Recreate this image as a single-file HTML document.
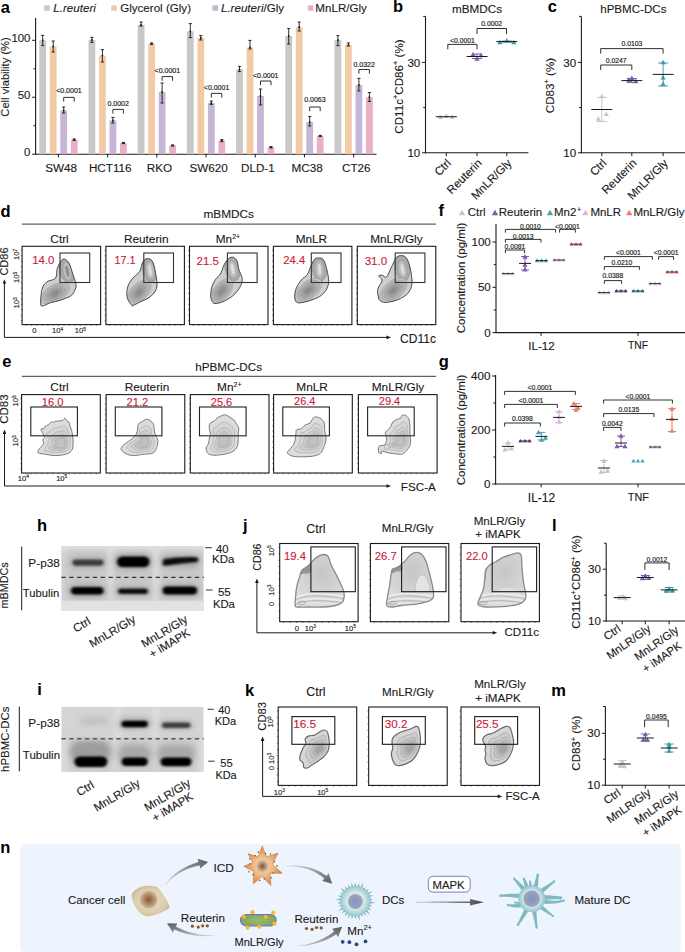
<!DOCTYPE html>
<html><head><meta charset="utf-8"><style>
html,body{margin:0;padding:0;background:#fff;}
svg{display:block;font-family:"Liberation Sans", sans-serif;}
</style></head><body>
<svg width="685" height="952" viewBox="0 0 685 952">
<rect x="0" y="0" width="685" height="952" fill="#fff"/>
<text x="0.81" y="12.50" font-size="16.5" font-weight="bold" fill="#000">a</text>
<rect x="44.20" y="5.30" width="5.60" height="5.50" fill="#c8c8c8" stroke="none" stroke-width="1"/>
<text x="53.35" y="11.80" font-size="11.6" fill="#1a1a1a" stroke="#1a1a1a" stroke-width="0.12"><tspan font-style="italic">L.reuteri</tspan></text>
<rect x="111.20" y="5.30" width="5.60" height="5.50" fill="#f2cba6" stroke="none" stroke-width="1"/>
<text x="120.17" y="11.80" font-size="11.6" fill="#1a1a1a" stroke="#1a1a1a" stroke-width="0.12">Glycerol (Gly)</text>
<rect x="212.50" y="5.30" width="5.60" height="5.50" fill="#c4b6d4" stroke="none" stroke-width="1"/>
<text x="220.95" y="11.80" font-size="11.6" fill="#1a1a1a" stroke="#1a1a1a" stroke-width="0.12"><tspan font-style="italic">L.reuteri</tspan>/Gly</text>
<rect x="307.80" y="5.30" width="5.60" height="5.50" fill="#e8afc5" stroke="none" stroke-width="1"/>
<text x="315.37" y="11.80" font-size="11.6" fill="#1a1a1a" stroke="#1a1a1a" stroke-width="0.12">MnLR/Gly</text>
<line x1="35.60" y1="18.00" x2="35.60" y2="154.70" stroke="#1a1a1a" stroke-width="1.1"/>
<line x1="35.10" y1="154.20" x2="376.50" y2="154.20" stroke="#1a1a1a" stroke-width="1.1"/>
<line x1="32.10" y1="154.20" x2="35.60" y2="154.20" stroke="#1a1a1a" stroke-width="1"/>
<text x="30.40" y="155.80" font-size="11.4" text-anchor="end" fill="#1a1a1a" stroke="#1a1a1a" stroke-width="0.12">0</text>
<line x1="32.10" y1="97.25" x2="35.60" y2="97.25" stroke="#1a1a1a" stroke-width="1"/>
<text x="30.40" y="98.85" font-size="11.4" text-anchor="end" fill="#1a1a1a" stroke="#1a1a1a" stroke-width="0.12">50</text>
<line x1="32.10" y1="40.30" x2="35.60" y2="40.30" stroke="#1a1a1a" stroke-width="1"/>
<text x="30.40" y="41.90" font-size="11.4" text-anchor="end" fill="#1a1a1a" stroke="#1a1a1a" stroke-width="0.12">100</text>
<line x1="33.40" y1="125.72" x2="35.60" y2="125.72" stroke="#1a1a1a" stroke-width="1"/>
<line x1="33.40" y1="68.77" x2="35.60" y2="68.77" stroke="#1a1a1a" stroke-width="1"/>
<text x="9.00" y="116.66" font-size="11.17" fill="#1a1a1a" stroke="#1a1a1a" stroke-width="0.12" transform="rotate(-90 9.00 116.66)">Cell viability (%)</text>
<rect x="39.30" y="40.40" width="6.80" height="113.80" fill="#c8c8c8" stroke="none" stroke-width="1"/>
<line x1="42.70" y1="35.40" x2="42.70" y2="45.60" stroke="#1a1a1a" stroke-width="0.9"/>
<line x1="41.10" y1="35.40" x2="44.30" y2="35.40" stroke="#1a1a1a" stroke-width="0.9"/>
<line x1="41.10" y1="45.60" x2="44.30" y2="45.60" stroke="#1a1a1a" stroke-width="0.9"/>
<circle cx="42.70" cy="40.40" r="0.9" fill="#1a1a1a"/>
<rect x="49.80" y="46.40" width="6.80" height="107.80" fill="#f2cba6" stroke="none" stroke-width="1"/>
<line x1="53.20" y1="41.00" x2="53.20" y2="52.00" stroke="#1a1a1a" stroke-width="0.9"/>
<line x1="51.60" y1="41.00" x2="54.80" y2="41.00" stroke="#1a1a1a" stroke-width="0.9"/>
<line x1="51.60" y1="52.00" x2="54.80" y2="52.00" stroke="#1a1a1a" stroke-width="0.9"/>
<circle cx="53.20" cy="46.40" r="0.9" fill="#1a1a1a"/>
<rect x="60.30" y="110.40" width="6.80" height="43.80" fill="#c4b6d4" stroke="none" stroke-width="1"/>
<line x1="63.70" y1="107.00" x2="63.70" y2="113.00" stroke="#1a1a1a" stroke-width="0.9"/>
<line x1="62.10" y1="107.00" x2="65.30" y2="107.00" stroke="#1a1a1a" stroke-width="0.9"/>
<line x1="62.10" y1="113.00" x2="65.30" y2="113.00" stroke="#1a1a1a" stroke-width="0.9"/>
<circle cx="63.70" cy="110.40" r="0.9" fill="#1a1a1a"/>
<rect x="70.80" y="139.60" width="6.80" height="14.60" fill="#e8afc5" stroke="none" stroke-width="1"/>
<line x1="74.20" y1="139.00" x2="74.20" y2="140.40" stroke="#1a1a1a" stroke-width="0.9"/>
<line x1="72.60" y1="139.00" x2="75.80" y2="139.00" stroke="#1a1a1a" stroke-width="0.9"/>
<line x1="72.60" y1="140.40" x2="75.80" y2="140.40" stroke="#1a1a1a" stroke-width="0.9"/>
<circle cx="74.20" cy="139.60" r="0.9" fill="#1a1a1a"/>
<line x1="58.45" y1="154.20" x2="58.45" y2="157.40" stroke="#1a1a1a" stroke-width="1"/>
<text x="61.05" y="172.40" font-size="11.7" text-anchor="middle" fill="#1a1a1a" stroke="#1a1a1a" stroke-width="0.12">SW48</text>
<polyline points="63.70,101.60 63.70,97.40 74.20,97.40 74.20,101.60" fill="none" stroke="#1a1a1a" stroke-width="0.9"/>
<text x="68.95" y="92.70" font-size="7.0" text-anchor="middle" fill="#1a1a1a" stroke="#1a1a1a" stroke-width="0.16">&lt;0.0001</text>
<rect x="88.50" y="40.00" width="6.80" height="114.20" fill="#c8c8c8" stroke="none" stroke-width="1"/>
<line x1="91.90" y1="37.40" x2="91.90" y2="42.40" stroke="#1a1a1a" stroke-width="0.9"/>
<line x1="90.30" y1="37.40" x2="93.50" y2="37.40" stroke="#1a1a1a" stroke-width="0.9"/>
<line x1="90.30" y1="42.40" x2="93.50" y2="42.40" stroke="#1a1a1a" stroke-width="0.9"/>
<circle cx="91.90" cy="40.00" r="0.9" fill="#1a1a1a"/>
<rect x="99.00" y="55.60" width="6.80" height="98.60" fill="#f2cba6" stroke="none" stroke-width="1"/>
<line x1="102.40" y1="49.60" x2="102.40" y2="62.00" stroke="#1a1a1a" stroke-width="0.9"/>
<line x1="100.80" y1="49.60" x2="104.00" y2="49.60" stroke="#1a1a1a" stroke-width="0.9"/>
<line x1="100.80" y1="62.00" x2="104.00" y2="62.00" stroke="#1a1a1a" stroke-width="0.9"/>
<circle cx="102.40" cy="55.60" r="0.9" fill="#1a1a1a"/>
<rect x="109.50" y="120.40" width="6.80" height="33.80" fill="#c4b6d4" stroke="none" stroke-width="1"/>
<line x1="112.90" y1="117.40" x2="112.90" y2="123.00" stroke="#1a1a1a" stroke-width="0.9"/>
<line x1="111.30" y1="117.40" x2="114.50" y2="117.40" stroke="#1a1a1a" stroke-width="0.9"/>
<line x1="111.30" y1="123.00" x2="114.50" y2="123.00" stroke="#1a1a1a" stroke-width="0.9"/>
<circle cx="112.90" cy="120.40" r="0.9" fill="#1a1a1a"/>
<rect x="120.00" y="143.00" width="6.80" height="11.20" fill="#e8afc5" stroke="none" stroke-width="1"/>
<line x1="123.40" y1="142.40" x2="123.40" y2="143.60" stroke="#1a1a1a" stroke-width="0.9"/>
<line x1="121.80" y1="142.40" x2="125.00" y2="142.40" stroke="#1a1a1a" stroke-width="0.9"/>
<line x1="121.80" y1="143.60" x2="125.00" y2="143.60" stroke="#1a1a1a" stroke-width="0.9"/>
<circle cx="123.40" cy="143.00" r="0.9" fill="#1a1a1a"/>
<line x1="107.65" y1="154.20" x2="107.65" y2="157.40" stroke="#1a1a1a" stroke-width="1"/>
<text x="110.25" y="172.40" font-size="11.7" text-anchor="middle" fill="#1a1a1a" stroke="#1a1a1a" stroke-width="0.12">HCT116</text>
<polyline points="112.90,113.60 112.90,109.40 123.40,109.40 123.40,113.60" fill="none" stroke="#1a1a1a" stroke-width="0.9"/>
<text x="118.15" y="106.10" font-size="7.0" text-anchor="middle" fill="#1a1a1a" stroke="#1a1a1a" stroke-width="0.16">0.0002</text>
<rect x="137.70" y="25.00" width="6.80" height="129.20" fill="#c8c8c8" stroke="none" stroke-width="1"/>
<line x1="141.10" y1="22.00" x2="141.10" y2="26.00" stroke="#1a1a1a" stroke-width="0.9"/>
<line x1="139.50" y1="22.00" x2="142.70" y2="22.00" stroke="#1a1a1a" stroke-width="0.9"/>
<line x1="139.50" y1="26.00" x2="142.70" y2="26.00" stroke="#1a1a1a" stroke-width="0.9"/>
<circle cx="141.10" cy="25.00" r="0.9" fill="#1a1a1a"/>
<rect x="148.20" y="43.60" width="6.80" height="110.60" fill="#f2cba6" stroke="none" stroke-width="1"/>
<line x1="151.60" y1="43.00" x2="151.60" y2="44.40" stroke="#1a1a1a" stroke-width="0.9"/>
<line x1="150.00" y1="43.00" x2="153.20" y2="43.00" stroke="#1a1a1a" stroke-width="0.9"/>
<line x1="150.00" y1="44.40" x2="153.20" y2="44.40" stroke="#1a1a1a" stroke-width="0.9"/>
<circle cx="151.60" cy="43.60" r="0.9" fill="#1a1a1a"/>
<rect x="158.70" y="92.00" width="6.80" height="62.20" fill="#c4b6d4" stroke="none" stroke-width="1"/>
<line x1="162.10" y1="83.00" x2="162.10" y2="103.00" stroke="#1a1a1a" stroke-width="0.9"/>
<line x1="160.50" y1="83.00" x2="163.70" y2="83.00" stroke="#1a1a1a" stroke-width="0.9"/>
<line x1="160.50" y1="103.00" x2="163.70" y2="103.00" stroke="#1a1a1a" stroke-width="0.9"/>
<circle cx="162.10" cy="92.00" r="0.9" fill="#1a1a1a"/>
<rect x="169.20" y="145.40" width="6.80" height="8.80" fill="#e8afc5" stroke="none" stroke-width="1"/>
<line x1="172.60" y1="145.00" x2="172.60" y2="146.00" stroke="#1a1a1a" stroke-width="0.9"/>
<line x1="171.00" y1="145.00" x2="174.20" y2="145.00" stroke="#1a1a1a" stroke-width="0.9"/>
<line x1="171.00" y1="146.00" x2="174.20" y2="146.00" stroke="#1a1a1a" stroke-width="0.9"/>
<circle cx="172.60" cy="145.40" r="0.9" fill="#1a1a1a"/>
<line x1="156.85" y1="154.20" x2="156.85" y2="157.40" stroke="#1a1a1a" stroke-width="1"/>
<text x="159.45" y="172.40" font-size="11.7" text-anchor="middle" fill="#1a1a1a" stroke="#1a1a1a" stroke-width="0.12">RKO</text>
<polyline points="162.10,80.80 162.10,76.60 172.60,76.60 172.60,80.80" fill="none" stroke="#1a1a1a" stroke-width="0.9"/>
<text x="167.35" y="72.50" font-size="7.0" text-anchor="middle" fill="#1a1a1a" stroke="#1a1a1a" stroke-width="0.16">&lt;0.0001</text>
<rect x="186.90" y="31.40" width="6.80" height="122.80" fill="#c8c8c8" stroke="none" stroke-width="1"/>
<line x1="190.30" y1="23.60" x2="190.30" y2="37.60" stroke="#1a1a1a" stroke-width="0.9"/>
<line x1="188.70" y1="23.60" x2="191.90" y2="23.60" stroke="#1a1a1a" stroke-width="0.9"/>
<line x1="188.70" y1="37.60" x2="191.90" y2="37.60" stroke="#1a1a1a" stroke-width="0.9"/>
<circle cx="190.30" cy="31.40" r="0.9" fill="#1a1a1a"/>
<rect x="197.40" y="38.00" width="6.80" height="116.20" fill="#f2cba6" stroke="none" stroke-width="1"/>
<line x1="200.80" y1="35.60" x2="200.80" y2="40.00" stroke="#1a1a1a" stroke-width="0.9"/>
<line x1="199.20" y1="35.60" x2="202.40" y2="35.60" stroke="#1a1a1a" stroke-width="0.9"/>
<line x1="199.20" y1="40.00" x2="202.40" y2="40.00" stroke="#1a1a1a" stroke-width="0.9"/>
<circle cx="200.80" cy="38.00" r="0.9" fill="#1a1a1a"/>
<rect x="207.90" y="103.00" width="6.80" height="51.20" fill="#c4b6d4" stroke="none" stroke-width="1"/>
<line x1="211.30" y1="101.00" x2="211.30" y2="104.40" stroke="#1a1a1a" stroke-width="0.9"/>
<line x1="209.70" y1="101.00" x2="212.90" y2="101.00" stroke="#1a1a1a" stroke-width="0.9"/>
<line x1="209.70" y1="104.40" x2="212.90" y2="104.40" stroke="#1a1a1a" stroke-width="0.9"/>
<circle cx="211.30" cy="103.00" r="0.9" fill="#1a1a1a"/>
<rect x="218.40" y="140.60" width="6.80" height="13.60" fill="#e8afc5" stroke="none" stroke-width="1"/>
<line x1="221.80" y1="139.60" x2="221.80" y2="141.60" stroke="#1a1a1a" stroke-width="0.9"/>
<line x1="220.20" y1="139.60" x2="223.40" y2="139.60" stroke="#1a1a1a" stroke-width="0.9"/>
<line x1="220.20" y1="141.60" x2="223.40" y2="141.60" stroke="#1a1a1a" stroke-width="0.9"/>
<circle cx="221.80" cy="140.60" r="0.9" fill="#1a1a1a"/>
<line x1="206.05" y1="154.20" x2="206.05" y2="157.40" stroke="#1a1a1a" stroke-width="1"/>
<text x="208.65" y="172.40" font-size="11.7" text-anchor="middle" fill="#1a1a1a" stroke="#1a1a1a" stroke-width="0.12">SW620</text>
<polyline points="211.30,97.60 211.30,93.40 221.80,93.40 221.80,97.60" fill="none" stroke="#1a1a1a" stroke-width="0.9"/>
<text x="216.55" y="90.10" font-size="7.0" text-anchor="middle" fill="#1a1a1a" stroke="#1a1a1a" stroke-width="0.16">&lt;0.0001</text>
<rect x="236.10" y="69.40" width="6.80" height="84.80" fill="#c8c8c8" stroke="none" stroke-width="1"/>
<line x1="239.50" y1="66.40" x2="239.50" y2="71.60" stroke="#1a1a1a" stroke-width="0.9"/>
<line x1="237.90" y1="66.40" x2="241.10" y2="66.40" stroke="#1a1a1a" stroke-width="0.9"/>
<line x1="237.90" y1="71.60" x2="241.10" y2="71.60" stroke="#1a1a1a" stroke-width="0.9"/>
<circle cx="239.50" cy="69.40" r="0.9" fill="#1a1a1a"/>
<rect x="246.60" y="47.40" width="6.80" height="106.80" fill="#f2cba6" stroke="none" stroke-width="1"/>
<line x1="250.00" y1="40.40" x2="250.00" y2="49.00" stroke="#1a1a1a" stroke-width="0.9"/>
<line x1="248.40" y1="40.40" x2="251.60" y2="40.40" stroke="#1a1a1a" stroke-width="0.9"/>
<line x1="248.40" y1="49.00" x2="251.60" y2="49.00" stroke="#1a1a1a" stroke-width="0.9"/>
<circle cx="250.00" cy="47.40" r="0.9" fill="#1a1a1a"/>
<rect x="257.10" y="96.00" width="6.80" height="58.20" fill="#c4b6d4" stroke="none" stroke-width="1"/>
<line x1="260.50" y1="89.00" x2="260.50" y2="105.00" stroke="#1a1a1a" stroke-width="0.9"/>
<line x1="258.90" y1="89.00" x2="262.10" y2="89.00" stroke="#1a1a1a" stroke-width="0.9"/>
<line x1="258.90" y1="105.00" x2="262.10" y2="105.00" stroke="#1a1a1a" stroke-width="0.9"/>
<circle cx="260.50" cy="96.00" r="0.9" fill="#1a1a1a"/>
<rect x="267.60" y="147.40" width="6.80" height="6.80" fill="#e8afc5" stroke="none" stroke-width="1"/>
<line x1="271.00" y1="146.60" x2="271.00" y2="147.80" stroke="#1a1a1a" stroke-width="0.9"/>
<line x1="269.40" y1="146.60" x2="272.60" y2="146.60" stroke="#1a1a1a" stroke-width="0.9"/>
<line x1="269.40" y1="147.80" x2="272.60" y2="147.80" stroke="#1a1a1a" stroke-width="0.9"/>
<circle cx="271.00" cy="147.40" r="0.9" fill="#1a1a1a"/>
<line x1="255.25" y1="154.20" x2="255.25" y2="157.40" stroke="#1a1a1a" stroke-width="1"/>
<text x="257.85" y="172.40" font-size="11.7" text-anchor="middle" fill="#1a1a1a" stroke="#1a1a1a" stroke-width="0.12">DLD-1</text>
<polyline points="260.50,85.20 260.50,81.00 271.00,81.00 271.00,85.20" fill="none" stroke="#1a1a1a" stroke-width="0.9"/>
<text x="265.75" y="78.10" font-size="7.0" text-anchor="middle" fill="#1a1a1a" stroke="#1a1a1a" stroke-width="0.16">&lt;0.0001</text>
<rect x="285.30" y="36.00" width="6.80" height="118.20" fill="#c8c8c8" stroke="none" stroke-width="1"/>
<line x1="288.70" y1="28.40" x2="288.70" y2="44.00" stroke="#1a1a1a" stroke-width="0.9"/>
<line x1="287.10" y1="28.40" x2="290.30" y2="28.40" stroke="#1a1a1a" stroke-width="0.9"/>
<line x1="287.10" y1="44.00" x2="290.30" y2="44.00" stroke="#1a1a1a" stroke-width="0.9"/>
<circle cx="288.70" cy="36.00" r="0.9" fill="#1a1a1a"/>
<rect x="295.80" y="27.00" width="6.80" height="127.20" fill="#f2cba6" stroke="none" stroke-width="1"/>
<line x1="299.20" y1="22.00" x2="299.20" y2="31.00" stroke="#1a1a1a" stroke-width="0.9"/>
<line x1="297.60" y1="22.00" x2="300.80" y2="22.00" stroke="#1a1a1a" stroke-width="0.9"/>
<line x1="297.60" y1="31.00" x2="300.80" y2="31.00" stroke="#1a1a1a" stroke-width="0.9"/>
<circle cx="299.20" cy="27.00" r="0.9" fill="#1a1a1a"/>
<rect x="306.30" y="122.00" width="6.80" height="32.20" fill="#c4b6d4" stroke="none" stroke-width="1"/>
<line x1="309.70" y1="116.40" x2="309.70" y2="126.00" stroke="#1a1a1a" stroke-width="0.9"/>
<line x1="308.10" y1="116.40" x2="311.30" y2="116.40" stroke="#1a1a1a" stroke-width="0.9"/>
<line x1="308.10" y1="126.00" x2="311.30" y2="126.00" stroke="#1a1a1a" stroke-width="0.9"/>
<circle cx="309.70" cy="122.00" r="0.9" fill="#1a1a1a"/>
<rect x="316.80" y="136.00" width="6.80" height="18.20" fill="#e8afc5" stroke="none" stroke-width="1"/>
<line x1="320.20" y1="135.40" x2="320.20" y2="136.40" stroke="#1a1a1a" stroke-width="0.9"/>
<line x1="318.60" y1="135.40" x2="321.80" y2="135.40" stroke="#1a1a1a" stroke-width="0.9"/>
<line x1="318.60" y1="136.40" x2="321.80" y2="136.40" stroke="#1a1a1a" stroke-width="0.9"/>
<circle cx="320.20" cy="136.00" r="0.9" fill="#1a1a1a"/>
<line x1="304.45" y1="154.20" x2="304.45" y2="157.40" stroke="#1a1a1a" stroke-width="1"/>
<text x="307.05" y="172.40" font-size="11.7" text-anchor="middle" fill="#1a1a1a" stroke="#1a1a1a" stroke-width="0.12">MC38</text>
<polyline points="309.70,111.20 309.70,107.00 320.20,107.00 320.20,111.20" fill="none" stroke="#1a1a1a" stroke-width="0.9"/>
<text x="314.95" y="102.30" font-size="7.0" text-anchor="middle" fill="#1a1a1a" stroke="#1a1a1a" stroke-width="0.16">0.0063</text>
<rect x="334.50" y="40.00" width="6.80" height="114.20" fill="#c8c8c8" stroke="none" stroke-width="1"/>
<line x1="337.90" y1="35.60" x2="337.90" y2="45.60" stroke="#1a1a1a" stroke-width="0.9"/>
<line x1="336.30" y1="35.60" x2="339.50" y2="35.60" stroke="#1a1a1a" stroke-width="0.9"/>
<line x1="336.30" y1="45.60" x2="339.50" y2="45.60" stroke="#1a1a1a" stroke-width="0.9"/>
<circle cx="337.90" cy="40.00" r="0.9" fill="#1a1a1a"/>
<rect x="345.00" y="45.00" width="6.80" height="109.20" fill="#f2cba6" stroke="none" stroke-width="1"/>
<line x1="348.40" y1="43.00" x2="348.40" y2="46.00" stroke="#1a1a1a" stroke-width="0.9"/>
<line x1="346.80" y1="43.00" x2="350.00" y2="43.00" stroke="#1a1a1a" stroke-width="0.9"/>
<line x1="346.80" y1="46.00" x2="350.00" y2="46.00" stroke="#1a1a1a" stroke-width="0.9"/>
<circle cx="348.40" cy="45.00" r="0.9" fill="#1a1a1a"/>
<rect x="355.50" y="85.00" width="6.80" height="69.20" fill="#c4b6d4" stroke="none" stroke-width="1"/>
<line x1="358.90" y1="78.40" x2="358.90" y2="91.00" stroke="#1a1a1a" stroke-width="0.9"/>
<line x1="357.30" y1="78.40" x2="360.50" y2="78.40" stroke="#1a1a1a" stroke-width="0.9"/>
<line x1="357.30" y1="91.00" x2="360.50" y2="91.00" stroke="#1a1a1a" stroke-width="0.9"/>
<circle cx="358.90" cy="85.00" r="0.9" fill="#1a1a1a"/>
<rect x="366.00" y="97.20" width="6.80" height="57.00" fill="#e8afc5" stroke="none" stroke-width="1"/>
<line x1="369.40" y1="92.50" x2="369.40" y2="101.40" stroke="#1a1a1a" stroke-width="0.9"/>
<line x1="367.80" y1="92.50" x2="371.00" y2="92.50" stroke="#1a1a1a" stroke-width="0.9"/>
<line x1="367.80" y1="101.40" x2="371.00" y2="101.40" stroke="#1a1a1a" stroke-width="0.9"/>
<circle cx="369.40" cy="97.20" r="0.9" fill="#1a1a1a"/>
<line x1="353.65" y1="154.20" x2="353.65" y2="157.40" stroke="#1a1a1a" stroke-width="1"/>
<text x="356.25" y="172.40" font-size="11.7" text-anchor="middle" fill="#1a1a1a" stroke="#1a1a1a" stroke-width="0.12">CT26</text>
<polyline points="358.90,73.70 358.90,69.50 369.40,69.50 369.40,73.70" fill="none" stroke="#1a1a1a" stroke-width="0.9"/>
<text x="364.15" y="66.90" font-size="7.0" text-anchor="middle" fill="#1a1a1a" stroke="#1a1a1a" stroke-width="0.16">0.0322</text>
<text x="393.03" y="12.30" font-size="16.5" font-weight="bold" fill="#000">b</text>
<text x="451.94" y="12.91" font-size="11.72" fill="#1a1a1a" stroke="#1a1a1a" stroke-width="0.12">mBMDCs</text>
<line x1="425.50" y1="16.40" x2="425.50" y2="153.30" stroke="#1a1a1a" stroke-width="1.1"/>
<line x1="425.00" y1="152.80" x2="528.40" y2="152.80" stroke="#1a1a1a" stroke-width="1.1"/>
<line x1="422.00" y1="62.40" x2="425.50" y2="62.40" stroke="#1a1a1a" stroke-width="1"/>
<text x="420.30" y="66.50" font-size="11.6" text-anchor="end" fill="#1a1a1a" stroke="#1a1a1a" stroke-width="0.12">30</text>
<line x1="422.00" y1="152.80" x2="425.50" y2="152.80" stroke="#1a1a1a" stroke-width="1"/>
<text x="420.30" y="156.90" font-size="11.6" text-anchor="end" fill="#1a1a1a" stroke="#1a1a1a" stroke-width="0.12">10</text>
<line x1="423.20" y1="16.40" x2="425.50" y2="16.40" stroke="#1a1a1a" stroke-width="1"/>
<line x1="423.20" y1="107.60" x2="425.50" y2="107.60" stroke="#1a1a1a" stroke-width="1"/>
<line x1="446.30" y1="152.80" x2="446.30" y2="156.10" stroke="#1a1a1a" stroke-width="1"/>
<line x1="477.00" y1="152.80" x2="477.00" y2="156.10" stroke="#1a1a1a" stroke-width="1"/>
<line x1="506.80" y1="152.80" x2="506.80" y2="156.10" stroke="#1a1a1a" stroke-width="1"/>
<text x="402.60" y="86.50" font-size="11.6" text-anchor="middle" fill="#1a1a1a" stroke="#1a1a1a" stroke-width="0.12" transform="rotate(-90 402.60 86.50)">CD11c<tspan font-size="7.5" dy="-4.2">+</tspan><tspan dy="4.2">CD86</tspan><tspan font-size="7.5" dy="-4.2">+</tspan><tspan dy="4.2"> (%)</tspan></text>
<polygon points="440.30,114.49 437.70,119.01 442.90,119.01" fill="#c0c0c0"/>
<polygon points="446.30,113.49 443.70,118.01 448.90,118.01" fill="#c0c0c0"/>
<polygon points="452.30,114.29 449.70,118.81 454.90,118.81" fill="#c0c0c0"/>
<line x1="435.80" y1="116.70" x2="456.80" y2="116.70" stroke="#1a1a1a" stroke-width="1.0"/>
<polygon points="473.00,52.09 470.40,56.61 475.60,56.61" fill="#7a5ca8"/>
<polygon points="477.00,56.29 474.40,60.81 479.60,60.81" fill="#7a5ca8"/>
<polygon points="481.00,52.79 478.40,57.31 483.60,57.31" fill="#7a5ca8"/>
<line x1="477.00" y1="54.00" x2="477.00" y2="58.50" stroke="#7a5ca8" stroke-width="1"/>
<line x1="472.00" y1="54.00" x2="482.00" y2="54.00" stroke="#7a5ca8" stroke-width="1"/>
<line x1="472.00" y1="58.50" x2="482.00" y2="58.50" stroke="#7a5ca8" stroke-width="1"/>
<line x1="466.50" y1="56.50" x2="487.50" y2="56.50" stroke="#1a1a1a" stroke-width="1.0"/>
<polygon points="499.80,39.79 497.20,44.31 502.40,44.31" fill="#3f9aaa"/>
<polygon points="506.80,38.09 504.20,42.61 509.40,42.61" fill="#3f9aaa"/>
<polygon points="513.80,39.69 511.20,44.21 516.40,44.21" fill="#3f9aaa"/>
<line x1="506.80" y1="41.00" x2="506.80" y2="42.20" stroke="#3f9aaa" stroke-width="1"/>
<line x1="501.80" y1="41.00" x2="511.80" y2="41.00" stroke="#3f9aaa" stroke-width="1"/>
<line x1="501.80" y1="42.20" x2="511.80" y2="42.20" stroke="#3f9aaa" stroke-width="1"/>
<line x1="496.30" y1="41.60" x2="517.30" y2="41.60" stroke="#1a1a1a" stroke-width="1.0"/>
<polyline points="447.80,49.30 447.80,44.40 477.00,44.40 477.00,49.30" fill="none" stroke="#1a1a1a" stroke-width="0.9"/>
<text x="462.40" y="43.10" font-size="6.8" text-anchor="middle" fill="#1a1a1a" stroke="#1a1a1a" stroke-width="0.16">&lt;0.0001</text>
<polyline points="477.00,34.00 477.00,28.50 506.50,28.50 506.50,34.00" fill="none" stroke="#1a1a1a" stroke-width="0.9"/>
<text x="491.75" y="26.40" font-size="6.8" text-anchor="middle" fill="#1a1a1a" stroke="#1a1a1a" stroke-width="0.16">0.0002</text>
<text x="451.90" y="163.80" font-size="11.6" text-anchor="end" fill="#1a1a1a" stroke="#1a1a1a" stroke-width="0.12" transform="rotate(-45 451.90 163.80)">Ctrl</text>
<text x="482.60" y="163.80" font-size="11.6" text-anchor="end" fill="#1a1a1a" stroke="#1a1a1a" stroke-width="0.12" transform="rotate(-45 482.60 163.80)">Reuterin</text>
<text x="512.40" y="163.80" font-size="11.6" text-anchor="end" fill="#1a1a1a" stroke="#1a1a1a" stroke-width="0.12" transform="rotate(-45 512.40 163.80)">MnLR/Gly</text>
<text x="547.74" y="12.40" font-size="16.5" font-weight="bold" fill="#000">c</text>
<text x="600.19" y="13.10" font-size="11.58" fill="#1a1a1a" stroke="#1a1a1a" stroke-width="0.12">hPBMC-DCs</text>
<line x1="581.40" y1="16.40" x2="581.40" y2="153.30" stroke="#1a1a1a" stroke-width="1.1"/>
<line x1="580.90" y1="152.80" x2="685.00" y2="152.80" stroke="#1a1a1a" stroke-width="1.1"/>
<line x1="577.90" y1="62.40" x2="581.40" y2="62.40" stroke="#1a1a1a" stroke-width="1"/>
<text x="576.20" y="66.50" font-size="11.6" text-anchor="end" fill="#1a1a1a" stroke="#1a1a1a" stroke-width="0.12">30</text>
<line x1="577.90" y1="152.80" x2="581.40" y2="152.80" stroke="#1a1a1a" stroke-width="1"/>
<text x="576.20" y="156.90" font-size="11.6" text-anchor="end" fill="#1a1a1a" stroke="#1a1a1a" stroke-width="0.12">10</text>
<line x1="579.10" y1="16.40" x2="581.40" y2="16.40" stroke="#1a1a1a" stroke-width="1"/>
<line x1="579.10" y1="107.60" x2="581.40" y2="107.60" stroke="#1a1a1a" stroke-width="1"/>
<line x1="601.80" y1="152.80" x2="601.80" y2="156.10" stroke="#1a1a1a" stroke-width="1"/>
<line x1="631.80" y1="152.80" x2="631.80" y2="156.10" stroke="#1a1a1a" stroke-width="1"/>
<line x1="663.10" y1="152.80" x2="663.10" y2="156.10" stroke="#1a1a1a" stroke-width="1"/>
<text x="553.60" y="85.50" font-size="11.6" text-anchor="middle" fill="#1a1a1a" stroke="#1a1a1a" stroke-width="0.12" transform="rotate(-90 553.60 85.50)">CD83<tspan font-size="7.5" dy="-4.2">+</tspan><tspan dy="4.2"> (%)</tspan></text>
<polygon points="601.80,93.79 599.20,98.31 604.40,98.31" fill="#c6c6c6"/>
<polygon points="598.30,116.29 595.70,120.81 600.90,120.81" fill="#c6c6c6"/>
<polygon points="606.30,111.59 603.70,116.11 608.90,116.11" fill="#c6c6c6"/>
<line x1="601.80" y1="97.40" x2="601.80" y2="121.50" stroke="#c6c6c6" stroke-width="1"/>
<line x1="596.80" y1="97.40" x2="606.80" y2="97.40" stroke="#c6c6c6" stroke-width="1"/>
<line x1="596.80" y1="121.50" x2="606.80" y2="121.50" stroke="#c6c6c6" stroke-width="1"/>
<line x1="591.30" y1="109.50" x2="612.30" y2="109.50" stroke="#1a1a1a" stroke-width="1.0"/>
<polygon points="628.80,77.29 626.20,81.81 631.40,81.81" fill="#7a5ca8"/>
<polygon points="631.80,75.59 629.20,80.11 634.40,80.11" fill="#7a5ca8"/>
<polygon points="635.80,78.79 633.20,83.31 638.40,83.31" fill="#7a5ca8"/>
<line x1="631.80" y1="78.50" x2="631.80" y2="82.50" stroke="#7a5ca8" stroke-width="1"/>
<line x1="626.80" y1="78.50" x2="636.80" y2="78.50" stroke="#7a5ca8" stroke-width="1"/>
<line x1="626.80" y1="82.50" x2="636.80" y2="82.50" stroke="#7a5ca8" stroke-width="1"/>
<line x1="621.30" y1="80.60" x2="642.30" y2="80.60" stroke="#1a1a1a" stroke-width="1.0"/>
<polygon points="663.10,59.69 660.50,64.21 665.70,64.21" fill="#3f9aaa"/>
<polygon points="663.10,74.99 660.50,79.51 665.70,79.51" fill="#3f9aaa"/>
<polygon points="663.10,81.59 660.50,86.11 665.70,86.11" fill="#3f9aaa"/>
<line x1="663.10" y1="63.00" x2="663.10" y2="86.00" stroke="#3f9aaa" stroke-width="1"/>
<line x1="658.10" y1="63.00" x2="668.10" y2="63.00" stroke="#3f9aaa" stroke-width="1"/>
<line x1="658.10" y1="86.00" x2="668.10" y2="86.00" stroke="#3f9aaa" stroke-width="1"/>
<line x1="652.60" y1="74.40" x2="673.60" y2="74.40" stroke="#1a1a1a" stroke-width="1.0"/>
<polyline points="600.70,70.00 600.70,65.00 631.80,65.00 631.80,70.00" fill="none" stroke="#1a1a1a" stroke-width="0.9"/>
<text x="616.25" y="63.30" font-size="6.8" text-anchor="middle" fill="#1a1a1a" stroke="#1a1a1a" stroke-width="0.16">0.0247</text>
<polyline points="600.70,53.60 600.70,48.60 663.10,48.60 663.10,53.60" fill="none" stroke="#1a1a1a" stroke-width="0.9"/>
<text x="631.90" y="45.80" font-size="6.8" text-anchor="middle" fill="#1a1a1a" stroke="#1a1a1a" stroke-width="0.16">0.0103</text>
<text x="607.40" y="163.80" font-size="11.6" text-anchor="end" fill="#1a1a1a" stroke="#1a1a1a" stroke-width="0.12" transform="rotate(-45 607.40 163.80)">Ctrl</text>
<text x="637.40" y="163.80" font-size="11.6" text-anchor="end" fill="#1a1a1a" stroke="#1a1a1a" stroke-width="0.12" transform="rotate(-45 637.40 163.80)">Reuterin</text>
<text x="668.70" y="163.80" font-size="11.6" text-anchor="end" fill="#1a1a1a" stroke="#1a1a1a" stroke-width="0.12" transform="rotate(-45 668.70 163.80)">MnLR/Gly</text>
<defs>
<radialGradient id="gblob" cx="0.5" cy="0.5" r="0.6"><stop offset="0" stop-color="#8a8a8a"/><stop offset="1" stop-color="#d6d6d6"/></radialGradient>
</defs>
<text x="0.54" y="216.60" font-size="16.5" font-weight="bold" fill="#000">d</text>
<text x="203.53" y="218.36" font-size="11.79" fill="#1a1a1a" stroke="#1a1a1a" stroke-width="0.12">mBMDCs</text>
<line x1="21.90" y1="224.10" x2="436.00" y2="224.10" stroke="#3a3a3a" stroke-width="1"/>
<text x="50.36" y="243.06" font-size="11.8" fill="#1a1a1a" stroke="#1a1a1a" stroke-width="0.12">Ctrl</text>
<line x1="20.80" y1="250.30" x2="22.10" y2="250.30" stroke="#333" stroke-width="0.6"/>
<line x1="20.80" y1="255.71" x2="22.10" y2="255.71" stroke="#333" stroke-width="0.6"/>
<line x1="20.80" y1="261.12" x2="22.10" y2="261.12" stroke="#333" stroke-width="0.6"/>
<line x1="20.80" y1="266.52" x2="22.10" y2="266.52" stroke="#333" stroke-width="0.6"/>
<line x1="20.80" y1="271.93" x2="22.10" y2="271.93" stroke="#333" stroke-width="0.6"/>
<line x1="20.80" y1="277.34" x2="22.10" y2="277.34" stroke="#333" stroke-width="0.6"/>
<line x1="20.80" y1="282.75" x2="22.10" y2="282.75" stroke="#333" stroke-width="0.6"/>
<line x1="20.80" y1="288.15" x2="22.10" y2="288.15" stroke="#333" stroke-width="0.6"/>
<line x1="20.80" y1="293.56" x2="22.10" y2="293.56" stroke="#333" stroke-width="0.6"/>
<line x1="20.80" y1="298.97" x2="22.10" y2="298.97" stroke="#333" stroke-width="0.6"/>
<line x1="20.80" y1="304.38" x2="22.10" y2="304.38" stroke="#333" stroke-width="0.6"/>
<line x1="20.80" y1="309.78" x2="22.10" y2="309.78" stroke="#333" stroke-width="0.6"/>
<line x1="20.80" y1="315.19" x2="22.10" y2="315.19" stroke="#333" stroke-width="0.6"/>
<line x1="20.80" y1="320.60" x2="22.10" y2="320.60" stroke="#333" stroke-width="0.6"/>
<line x1="26.10" y1="324.60" x2="26.10" y2="325.90" stroke="#333" stroke-width="0.6"/>
<line x1="31.52" y1="324.60" x2="31.52" y2="325.90" stroke="#333" stroke-width="0.6"/>
<line x1="36.95" y1="324.60" x2="36.95" y2="325.90" stroke="#333" stroke-width="0.6"/>
<line x1="42.37" y1="324.60" x2="42.37" y2="325.90" stroke="#333" stroke-width="0.6"/>
<line x1="47.79" y1="324.60" x2="47.79" y2="325.90" stroke="#333" stroke-width="0.6"/>
<line x1="53.22" y1="324.60" x2="53.22" y2="325.90" stroke="#333" stroke-width="0.6"/>
<line x1="58.64" y1="324.60" x2="58.64" y2="325.90" stroke="#333" stroke-width="0.6"/>
<line x1="64.06" y1="324.60" x2="64.06" y2="325.90" stroke="#333" stroke-width="0.6"/>
<line x1="69.48" y1="324.60" x2="69.48" y2="325.90" stroke="#333" stroke-width="0.6"/>
<line x1="74.91" y1="324.60" x2="74.91" y2="325.90" stroke="#333" stroke-width="0.6"/>
<line x1="80.33" y1="324.60" x2="80.33" y2="325.90" stroke="#333" stroke-width="0.6"/>
<line x1="85.75" y1="324.60" x2="85.75" y2="325.90" stroke="#333" stroke-width="0.6"/>
<line x1="91.18" y1="324.60" x2="91.18" y2="325.90" stroke="#333" stroke-width="0.6"/>
<line x1="96.60" y1="324.60" x2="96.60" y2="325.90" stroke="#333" stroke-width="0.6"/>
<clipPath id="dcl0"><path d="M40.70,304.00 C40.50,301.23 40.97,292.88 42.00,289.20 C43.03,285.52 44.65,283.73 46.90,281.90 C49.15,280.07 53.77,280.45 55.50,278.20 C57.23,275.95 56.28,271.37 57.30,268.40 C58.32,265.43 60.37,261.93 61.60,260.40 C62.83,258.87 63.48,258.78 64.70,259.20 C65.92,259.62 67.58,260.55 68.90,262.90 C70.22,265.25 71.47,269.93 72.60,273.30 C73.73,276.67 75.18,280.65 75.70,283.10 C76.22,285.55 76.42,285.95 75.70,288.00 C74.98,290.05 73.95,293.37 71.40,295.40 C68.85,297.43 63.87,298.98 60.40,300.20 C56.93,301.42 53.47,301.77 50.60,302.70 C47.73,303.63 44.85,305.58 43.20,305.80 C41.55,306.02 40.90,306.77 40.70,304.00 Z"/></clipPath>
<path d="M40.70,304.00 C40.50,301.23 40.97,292.88 42.00,289.20 C43.03,285.52 44.65,283.73 46.90,281.90 C49.15,280.07 53.77,280.45 55.50,278.20 C57.23,275.95 56.28,271.37 57.30,268.40 C58.32,265.43 60.37,261.93 61.60,260.40 C62.83,258.87 63.48,258.78 64.70,259.20 C65.92,259.62 67.58,260.55 68.90,262.90 C70.22,265.25 71.47,269.93 72.60,273.30 C73.73,276.67 75.18,280.65 75.70,283.10 C76.22,285.55 76.42,285.95 75.70,288.00 C74.98,290.05 73.95,293.37 71.40,295.40 C68.85,297.43 63.87,298.98 60.40,300.20 C56.93,301.42 53.47,301.77 50.60,302.70 C47.73,303.63 44.85,305.58 43.20,305.80 C41.55,306.02 40.90,306.77 40.70,304.00 Z" fill="#cfcfcf"/>
<g clip-path="url(#dcl0)">
<ellipse cx="67.1" cy="270.3" rx="7.5" ry="13" transform="rotate(-12 67.1 270.3)" fill="#a9a9a9" stroke="#8a8a8a" stroke-width="0.5"/>
<ellipse cx="67.1" cy="271.3" rx="4.2" ry="9" transform="rotate(-12 67.1 270.3)" fill="#bdbdbd" stroke="#9a9a9a" stroke-width="0.5"/>
<ellipse cx="67.1" cy="271.3" rx="1.6" ry="5.5" transform="rotate(-12 67.1 270.3)" fill="#8e8e8e"/>
<ellipse cx="55.1" cy="293.3" rx="16.00" ry="8.50" transform="rotate(-30 55.1 293.3)" fill="#c6c6c6" stroke="#8e8e8e" stroke-width="0.5"/>
<ellipse cx="55.1" cy="293.3" rx="13.44" ry="7.14" transform="rotate(-30 55.1 293.3)" fill="#bcbcbc" stroke="#8e8e8e" stroke-width="0.5"/>
<ellipse cx="55.1" cy="293.3" rx="10.88" ry="5.78" transform="rotate(-30 55.1 293.3)" fill="#b1b1b1" stroke="#8e8e8e" stroke-width="0.5"/>
<ellipse cx="55.1" cy="293.3" rx="8.32" ry="4.42" transform="rotate(-30 55.1 293.3)" fill="#a5a5a5" stroke="#8e8e8e" stroke-width="0.5"/>
<ellipse cx="55.1" cy="293.3" rx="5.76" ry="3.06" transform="rotate(-30 55.1 293.3)" fill="#989898" stroke="#8e8e8e" stroke-width="0.5"/>
<ellipse cx="55.1" cy="293.3" rx="3.20" ry="1.70" transform="rotate(-30 55.1 293.3)" fill="#8a8a8a" stroke="#8e8e8e" stroke-width="0.5"/>
</g>
<path d="M40.70,304.00 C40.50,301.23 40.97,292.88 42.00,289.20 C43.03,285.52 44.65,283.73 46.90,281.90 C49.15,280.07 53.77,280.45 55.50,278.20 C57.23,275.95 56.28,271.37 57.30,268.40 C58.32,265.43 60.37,261.93 61.60,260.40 C62.83,258.87 63.48,258.78 64.70,259.20 C65.92,259.62 67.58,260.55 68.90,262.90 C70.22,265.25 71.47,269.93 72.60,273.30 C73.73,276.67 75.18,280.65 75.70,283.10 C76.22,285.55 76.42,285.95 75.70,288.00 C74.98,290.05 73.95,293.37 71.40,295.40 C68.85,297.43 63.87,298.98 60.40,300.20 C56.93,301.42 53.47,301.77 50.60,302.70 C47.73,303.63 44.85,305.58 43.20,305.80 C41.55,306.02 40.90,306.77 40.70,304.00 Z" fill="none" stroke="#4a4a4a" stroke-width="1.0"/>
<rect x="22.10" y="246.30" width="78.50" height="78.30" fill="none" stroke="#1a1a1a" stroke-width="1.1"/>
<rect x="60.00" y="253.00" width="29.70" height="29.50" fill="none" stroke="#3a3030" stroke-width="1.1"/>
<text x="32.25" y="264.47" font-size="11.39" fill="#c8203a" stroke="#c8203a" stroke-width="0.12">14.0</text>
<text x="123.96" y="243.06" font-size="11.8" fill="#1a1a1a" stroke="#1a1a1a" stroke-width="0.12">Reuterin</text>
<line x1="104.60" y1="250.30" x2="105.90" y2="250.30" stroke="#333" stroke-width="0.6"/>
<line x1="104.60" y1="255.71" x2="105.90" y2="255.71" stroke="#333" stroke-width="0.6"/>
<line x1="104.60" y1="261.12" x2="105.90" y2="261.12" stroke="#333" stroke-width="0.6"/>
<line x1="104.60" y1="266.52" x2="105.90" y2="266.52" stroke="#333" stroke-width="0.6"/>
<line x1="104.60" y1="271.93" x2="105.90" y2="271.93" stroke="#333" stroke-width="0.6"/>
<line x1="104.60" y1="277.34" x2="105.90" y2="277.34" stroke="#333" stroke-width="0.6"/>
<line x1="104.60" y1="282.75" x2="105.90" y2="282.75" stroke="#333" stroke-width="0.6"/>
<line x1="104.60" y1="288.15" x2="105.90" y2="288.15" stroke="#333" stroke-width="0.6"/>
<line x1="104.60" y1="293.56" x2="105.90" y2="293.56" stroke="#333" stroke-width="0.6"/>
<line x1="104.60" y1="298.97" x2="105.90" y2="298.97" stroke="#333" stroke-width="0.6"/>
<line x1="104.60" y1="304.38" x2="105.90" y2="304.38" stroke="#333" stroke-width="0.6"/>
<line x1="104.60" y1="309.78" x2="105.90" y2="309.78" stroke="#333" stroke-width="0.6"/>
<line x1="104.60" y1="315.19" x2="105.90" y2="315.19" stroke="#333" stroke-width="0.6"/>
<line x1="104.60" y1="320.60" x2="105.90" y2="320.60" stroke="#333" stroke-width="0.6"/>
<line x1="109.90" y1="324.60" x2="109.90" y2="325.90" stroke="#333" stroke-width="0.6"/>
<line x1="115.32" y1="324.60" x2="115.32" y2="325.90" stroke="#333" stroke-width="0.6"/>
<line x1="120.75" y1="324.60" x2="120.75" y2="325.90" stroke="#333" stroke-width="0.6"/>
<line x1="126.17" y1="324.60" x2="126.17" y2="325.90" stroke="#333" stroke-width="0.6"/>
<line x1="131.59" y1="324.60" x2="131.59" y2="325.90" stroke="#333" stroke-width="0.6"/>
<line x1="137.02" y1="324.60" x2="137.02" y2="325.90" stroke="#333" stroke-width="0.6"/>
<line x1="142.44" y1="324.60" x2="142.44" y2="325.90" stroke="#333" stroke-width="0.6"/>
<line x1="147.86" y1="324.60" x2="147.86" y2="325.90" stroke="#333" stroke-width="0.6"/>
<line x1="153.28" y1="324.60" x2="153.28" y2="325.90" stroke="#333" stroke-width="0.6"/>
<line x1="158.71" y1="324.60" x2="158.71" y2="325.90" stroke="#333" stroke-width="0.6"/>
<line x1="164.13" y1="324.60" x2="164.13" y2="325.90" stroke="#333" stroke-width="0.6"/>
<line x1="169.55" y1="324.60" x2="169.55" y2="325.90" stroke="#333" stroke-width="0.6"/>
<line x1="174.98" y1="324.60" x2="174.98" y2="325.90" stroke="#333" stroke-width="0.6"/>
<line x1="180.40" y1="324.60" x2="180.40" y2="325.90" stroke="#333" stroke-width="0.6"/>
<clipPath id="dcl1"><path d="M131.90,305.50 C130.98,304.38 128.42,301.35 127.60,298.80 C126.78,296.25 126.58,293.07 127.00,290.20 C127.42,287.33 128.67,284.05 130.10,281.60 C131.53,279.15 133.97,277.23 135.60,275.50 C137.23,273.77 138.68,273.45 139.90,271.20 C141.12,268.95 141.68,264.10 142.90,262.00 C144.12,259.90 145.67,258.80 147.20,258.60 C148.73,258.40 150.87,259.22 152.10,260.80 C153.33,262.38 153.88,265.25 154.60,268.10 C155.32,270.95 156.00,275.03 156.40,277.90 C156.80,280.77 157.20,283.05 157.00,285.30 C156.80,287.55 156.52,289.35 155.20,291.40 C153.88,293.45 151.55,295.87 149.10,297.60 C146.65,299.33 143.17,300.48 140.50,301.80 C137.83,303.12 134.53,304.88 133.10,305.50 C131.67,306.12 132.82,306.62 131.90,305.50 Z"/></clipPath>
<path d="M131.90,305.50 C130.98,304.38 128.42,301.35 127.60,298.80 C126.78,296.25 126.58,293.07 127.00,290.20 C127.42,287.33 128.67,284.05 130.10,281.60 C131.53,279.15 133.97,277.23 135.60,275.50 C137.23,273.77 138.68,273.45 139.90,271.20 C141.12,268.95 141.68,264.10 142.90,262.00 C144.12,259.90 145.67,258.80 147.20,258.60 C148.73,258.40 150.87,259.22 152.10,260.80 C153.33,262.38 153.88,265.25 154.60,268.10 C155.32,270.95 156.00,275.03 156.40,277.90 C156.80,280.77 157.20,283.05 157.00,285.30 C156.80,287.55 156.52,289.35 155.20,291.40 C153.88,293.45 151.55,295.87 149.10,297.60 C146.65,299.33 143.17,300.48 140.50,301.80 C137.83,303.12 134.53,304.88 133.10,305.50 C131.67,306.12 132.82,306.62 131.90,305.50 Z" fill="#cfcfcf"/>
<g clip-path="url(#dcl1)">
<ellipse cx="149.9" cy="269.3" rx="7.5" ry="13" transform="rotate(-8 149.9 269.3)" fill="#a9a9a9" stroke="#8a8a8a" stroke-width="0.5"/>
<ellipse cx="149.9" cy="270.3" rx="4.2" ry="9" transform="rotate(-8 149.9 269.3)" fill="#bdbdbd" stroke="#9a9a9a" stroke-width="0.5"/>
<ellipse cx="149.9" cy="270.3" rx="1.6" ry="5.5" transform="rotate(-8 149.9 269.3)" fill="#dedede"/>
<ellipse cx="138.9" cy="292.3" rx="15.00" ry="8.50" transform="rotate(-45 138.9 292.3)" fill="#c6c6c6" stroke="#8e8e8e" stroke-width="0.5"/>
<ellipse cx="138.9" cy="292.3" rx="12.60" ry="7.14" transform="rotate(-45 138.9 292.3)" fill="#bcbcbc" stroke="#8e8e8e" stroke-width="0.5"/>
<ellipse cx="138.9" cy="292.3" rx="10.20" ry="5.78" transform="rotate(-45 138.9 292.3)" fill="#b1b1b1" stroke="#8e8e8e" stroke-width="0.5"/>
<ellipse cx="138.9" cy="292.3" rx="7.80" ry="4.42" transform="rotate(-45 138.9 292.3)" fill="#a5a5a5" stroke="#8e8e8e" stroke-width="0.5"/>
<ellipse cx="138.9" cy="292.3" rx="5.40" ry="3.06" transform="rotate(-45 138.9 292.3)" fill="#989898" stroke="#8e8e8e" stroke-width="0.5"/>
<ellipse cx="138.9" cy="292.3" rx="3.00" ry="1.70" transform="rotate(-45 138.9 292.3)" fill="#8a8a8a" stroke="#8e8e8e" stroke-width="0.5"/>
</g>
<path d="M131.90,305.50 C130.98,304.38 128.42,301.35 127.60,298.80 C126.78,296.25 126.58,293.07 127.00,290.20 C127.42,287.33 128.67,284.05 130.10,281.60 C131.53,279.15 133.97,277.23 135.60,275.50 C137.23,273.77 138.68,273.45 139.90,271.20 C141.12,268.95 141.68,264.10 142.90,262.00 C144.12,259.90 145.67,258.80 147.20,258.60 C148.73,258.40 150.87,259.22 152.10,260.80 C153.33,262.38 153.88,265.25 154.60,268.10 C155.32,270.95 156.00,275.03 156.40,277.90 C156.80,280.77 157.20,283.05 157.00,285.30 C156.80,287.55 156.52,289.35 155.20,291.40 C153.88,293.45 151.55,295.87 149.10,297.60 C146.65,299.33 143.17,300.48 140.50,301.80 C137.83,303.12 134.53,304.88 133.10,305.50 C131.67,306.12 132.82,306.62 131.90,305.50 Z" fill="none" stroke="#4a4a4a" stroke-width="1.0"/>
<rect x="105.90" y="246.30" width="78.50" height="78.30" fill="none" stroke="#1a1a1a" stroke-width="1.1"/>
<rect x="143.80" y="253.00" width="29.70" height="29.50" fill="none" stroke="#3a3030" stroke-width="1.1"/>
<text x="114.49" y="263.95" font-size="10.79" fill="#c8203a" stroke="#c8203a" stroke-width="0.12">17.1</text>
<text x="215.80" y="242.76" font-size="11.8" fill="#1a1a1a" stroke="#1a1a1a" stroke-width="0.12">Mn<tspan font-size="7" dy="-4">2+</tspan></text>
<line x1="188.20" y1="250.30" x2="189.50" y2="250.30" stroke="#333" stroke-width="0.6"/>
<line x1="188.20" y1="255.71" x2="189.50" y2="255.71" stroke="#333" stroke-width="0.6"/>
<line x1="188.20" y1="261.12" x2="189.50" y2="261.12" stroke="#333" stroke-width="0.6"/>
<line x1="188.20" y1="266.52" x2="189.50" y2="266.52" stroke="#333" stroke-width="0.6"/>
<line x1="188.20" y1="271.93" x2="189.50" y2="271.93" stroke="#333" stroke-width="0.6"/>
<line x1="188.20" y1="277.34" x2="189.50" y2="277.34" stroke="#333" stroke-width="0.6"/>
<line x1="188.20" y1="282.75" x2="189.50" y2="282.75" stroke="#333" stroke-width="0.6"/>
<line x1="188.20" y1="288.15" x2="189.50" y2="288.15" stroke="#333" stroke-width="0.6"/>
<line x1="188.20" y1="293.56" x2="189.50" y2="293.56" stroke="#333" stroke-width="0.6"/>
<line x1="188.20" y1="298.97" x2="189.50" y2="298.97" stroke="#333" stroke-width="0.6"/>
<line x1="188.20" y1="304.38" x2="189.50" y2="304.38" stroke="#333" stroke-width="0.6"/>
<line x1="188.20" y1="309.78" x2="189.50" y2="309.78" stroke="#333" stroke-width="0.6"/>
<line x1="188.20" y1="315.19" x2="189.50" y2="315.19" stroke="#333" stroke-width="0.6"/>
<line x1="188.20" y1="320.60" x2="189.50" y2="320.60" stroke="#333" stroke-width="0.6"/>
<line x1="193.50" y1="324.60" x2="193.50" y2="325.90" stroke="#333" stroke-width="0.6"/>
<line x1="198.92" y1="324.60" x2="198.92" y2="325.90" stroke="#333" stroke-width="0.6"/>
<line x1="204.35" y1="324.60" x2="204.35" y2="325.90" stroke="#333" stroke-width="0.6"/>
<line x1="209.77" y1="324.60" x2="209.77" y2="325.90" stroke="#333" stroke-width="0.6"/>
<line x1="215.19" y1="324.60" x2="215.19" y2="325.90" stroke="#333" stroke-width="0.6"/>
<line x1="220.62" y1="324.60" x2="220.62" y2="325.90" stroke="#333" stroke-width="0.6"/>
<line x1="226.04" y1="324.60" x2="226.04" y2="325.90" stroke="#333" stroke-width="0.6"/>
<line x1="231.46" y1="324.60" x2="231.46" y2="325.90" stroke="#333" stroke-width="0.6"/>
<line x1="236.88" y1="324.60" x2="236.88" y2="325.90" stroke="#333" stroke-width="0.6"/>
<line x1="242.31" y1="324.60" x2="242.31" y2="325.90" stroke="#333" stroke-width="0.6"/>
<line x1="247.73" y1="324.60" x2="247.73" y2="325.90" stroke="#333" stroke-width="0.6"/>
<line x1="253.15" y1="324.60" x2="253.15" y2="325.90" stroke="#333" stroke-width="0.6"/>
<line x1="258.58" y1="324.60" x2="258.58" y2="325.90" stroke="#333" stroke-width="0.6"/>
<line x1="264.00" y1="324.60" x2="264.00" y2="325.90" stroke="#333" stroke-width="0.6"/>
<clipPath id="dcl2"><path d="M213.10,302.70 C211.98,301.57 210.90,299.17 210.70,296.50 C210.50,293.83 211.08,289.55 211.90,286.70 C212.72,283.85 214.17,281.55 215.60,279.40 C217.03,277.25 219.07,276.27 220.50,273.80 C221.93,271.33 222.87,267.15 224.20,264.60 C225.53,262.05 226.97,259.72 228.50,258.50 C230.03,257.28 231.97,256.88 233.40,257.30 C234.83,257.72 236.18,258.97 237.10,261.00 C238.02,263.03 238.08,266.75 238.90,269.50 C239.72,272.25 241.48,275.45 242.00,277.50 C242.52,279.55 242.42,280.07 242.00,281.80 C241.58,283.53 240.93,285.65 239.50,287.90 C238.07,290.15 235.85,293.15 233.40,295.30 C230.95,297.45 227.47,299.47 224.80,300.80 C222.13,302.13 219.35,302.98 217.40,303.30 C215.45,303.62 214.22,303.83 213.10,302.70 Z"/></clipPath>
<path d="M213.10,302.70 C211.98,301.57 210.90,299.17 210.70,296.50 C210.50,293.83 211.08,289.55 211.90,286.70 C212.72,283.85 214.17,281.55 215.60,279.40 C217.03,277.25 219.07,276.27 220.50,273.80 C221.93,271.33 222.87,267.15 224.20,264.60 C225.53,262.05 226.97,259.72 228.50,258.50 C230.03,257.28 231.97,256.88 233.40,257.30 C234.83,257.72 236.18,258.97 237.10,261.00 C238.02,263.03 238.08,266.75 238.90,269.50 C239.72,272.25 241.48,275.45 242.00,277.50 C242.52,279.55 242.42,280.07 242.00,281.80 C241.58,283.53 240.93,285.65 239.50,287.90 C238.07,290.15 235.85,293.15 233.40,295.30 C230.95,297.45 227.47,299.47 224.80,300.80 C222.13,302.13 219.35,302.98 217.40,303.30 C215.45,303.62 214.22,303.83 213.10,302.70 Z" fill="#cfcfcf"/>
<g clip-path="url(#dcl2)">
<ellipse cx="232.5" cy="268.3" rx="7.5" ry="13" transform="rotate(-10 232.5 268.3)" fill="#a9a9a9" stroke="#8a8a8a" stroke-width="0.5"/>
<ellipse cx="232.5" cy="269.3" rx="4.2" ry="9" transform="rotate(-10 232.5 268.3)" fill="#bdbdbd" stroke="#9a9a9a" stroke-width="0.5"/>
<ellipse cx="232.5" cy="269.3" rx="1.6" ry="5.5" transform="rotate(-10 232.5 268.3)" fill="#dedede"/>
<ellipse cx="221.5" cy="291.3" rx="15.00" ry="8.00" transform="rotate(-50 221.5 291.3)" fill="#c6c6c6" stroke="#8e8e8e" stroke-width="0.5"/>
<ellipse cx="221.5" cy="291.3" rx="12.60" ry="6.72" transform="rotate(-50 221.5 291.3)" fill="#bcbcbc" stroke="#8e8e8e" stroke-width="0.5"/>
<ellipse cx="221.5" cy="291.3" rx="10.20" ry="5.44" transform="rotate(-50 221.5 291.3)" fill="#b1b1b1" stroke="#8e8e8e" stroke-width="0.5"/>
<ellipse cx="221.5" cy="291.3" rx="7.80" ry="4.16" transform="rotate(-50 221.5 291.3)" fill="#a5a5a5" stroke="#8e8e8e" stroke-width="0.5"/>
<ellipse cx="221.5" cy="291.3" rx="5.40" ry="2.88" transform="rotate(-50 221.5 291.3)" fill="#989898" stroke="#8e8e8e" stroke-width="0.5"/>
<ellipse cx="221.5" cy="291.3" rx="3.00" ry="1.60" transform="rotate(-50 221.5 291.3)" fill="#8a8a8a" stroke="#8e8e8e" stroke-width="0.5"/>
</g>
<path d="M213.10,302.70 C211.98,301.57 210.90,299.17 210.70,296.50 C210.50,293.83 211.08,289.55 211.90,286.70 C212.72,283.85 214.17,281.55 215.60,279.40 C217.03,277.25 219.07,276.27 220.50,273.80 C221.93,271.33 222.87,267.15 224.20,264.60 C225.53,262.05 226.97,259.72 228.50,258.50 C230.03,257.28 231.97,256.88 233.40,257.30 C234.83,257.72 236.18,258.97 237.10,261.00 C238.02,263.03 238.08,266.75 238.90,269.50 C239.72,272.25 241.48,275.45 242.00,277.50 C242.52,279.55 242.42,280.07 242.00,281.80 C241.58,283.53 240.93,285.65 239.50,287.90 C238.07,290.15 235.85,293.15 233.40,295.30 C230.95,297.45 227.47,299.47 224.80,300.80 C222.13,302.13 219.35,302.98 217.40,303.30 C215.45,303.62 214.22,303.83 213.10,302.70 Z" fill="none" stroke="#4a4a4a" stroke-width="1.0"/>
<rect x="189.50" y="246.30" width="78.50" height="78.30" fill="none" stroke="#1a1a1a" stroke-width="1.1"/>
<rect x="227.40" y="253.00" width="29.70" height="29.50" fill="none" stroke="#3a3030" stroke-width="1.1"/>
<text x="196.53" y="264.54" font-size="11.48" fill="#c8203a" stroke="#c8203a" stroke-width="0.12">21.5</text>
<text x="295.67" y="242.64" font-size="11.8" fill="#1a1a1a" stroke="#1a1a1a" stroke-width="0.12">MnLR</text>
<line x1="272.10" y1="250.30" x2="273.40" y2="250.30" stroke="#333" stroke-width="0.6"/>
<line x1="272.10" y1="255.71" x2="273.40" y2="255.71" stroke="#333" stroke-width="0.6"/>
<line x1="272.10" y1="261.12" x2="273.40" y2="261.12" stroke="#333" stroke-width="0.6"/>
<line x1="272.10" y1="266.52" x2="273.40" y2="266.52" stroke="#333" stroke-width="0.6"/>
<line x1="272.10" y1="271.93" x2="273.40" y2="271.93" stroke="#333" stroke-width="0.6"/>
<line x1="272.10" y1="277.34" x2="273.40" y2="277.34" stroke="#333" stroke-width="0.6"/>
<line x1="272.10" y1="282.75" x2="273.40" y2="282.75" stroke="#333" stroke-width="0.6"/>
<line x1="272.10" y1="288.15" x2="273.40" y2="288.15" stroke="#333" stroke-width="0.6"/>
<line x1="272.10" y1="293.56" x2="273.40" y2="293.56" stroke="#333" stroke-width="0.6"/>
<line x1="272.10" y1="298.97" x2="273.40" y2="298.97" stroke="#333" stroke-width="0.6"/>
<line x1="272.10" y1="304.38" x2="273.40" y2="304.38" stroke="#333" stroke-width="0.6"/>
<line x1="272.10" y1="309.78" x2="273.40" y2="309.78" stroke="#333" stroke-width="0.6"/>
<line x1="272.10" y1="315.19" x2="273.40" y2="315.19" stroke="#333" stroke-width="0.6"/>
<line x1="272.10" y1="320.60" x2="273.40" y2="320.60" stroke="#333" stroke-width="0.6"/>
<line x1="277.40" y1="324.60" x2="277.40" y2="325.90" stroke="#333" stroke-width="0.6"/>
<line x1="282.82" y1="324.60" x2="282.82" y2="325.90" stroke="#333" stroke-width="0.6"/>
<line x1="288.25" y1="324.60" x2="288.25" y2="325.90" stroke="#333" stroke-width="0.6"/>
<line x1="293.67" y1="324.60" x2="293.67" y2="325.90" stroke="#333" stroke-width="0.6"/>
<line x1="299.09" y1="324.60" x2="299.09" y2="325.90" stroke="#333" stroke-width="0.6"/>
<line x1="304.52" y1="324.60" x2="304.52" y2="325.90" stroke="#333" stroke-width="0.6"/>
<line x1="309.94" y1="324.60" x2="309.94" y2="325.90" stroke="#333" stroke-width="0.6"/>
<line x1="315.36" y1="324.60" x2="315.36" y2="325.90" stroke="#333" stroke-width="0.6"/>
<line x1="320.78" y1="324.60" x2="320.78" y2="325.90" stroke="#333" stroke-width="0.6"/>
<line x1="326.21" y1="324.60" x2="326.21" y2="325.90" stroke="#333" stroke-width="0.6"/>
<line x1="331.63" y1="324.60" x2="331.63" y2="325.90" stroke="#333" stroke-width="0.6"/>
<line x1="337.05" y1="324.60" x2="337.05" y2="325.90" stroke="#333" stroke-width="0.6"/>
<line x1="342.48" y1="324.60" x2="342.48" y2="325.90" stroke="#333" stroke-width="0.6"/>
<line x1="347.90" y1="324.60" x2="347.90" y2="325.90" stroke="#333" stroke-width="0.6"/>
<clipPath id="dcl3"><path d="M296.40,302.00 C295.28,300.97 294.60,298.85 294.60,296.50 C294.60,294.15 295.28,290.65 296.40,287.90 C297.52,285.15 299.47,282.23 301.30,280.00 C303.13,277.77 305.87,276.65 307.40,274.50 C308.93,272.35 309.37,269.57 310.50,267.10 C311.63,264.63 312.87,261.23 314.20,259.70 C315.53,258.17 316.97,257.90 318.50,257.90 C320.03,257.90 322.07,257.97 323.40,259.70 C324.73,261.43 325.68,265.43 326.50,268.30 C327.32,271.17 327.95,274.45 328.30,276.90 C328.65,279.35 329.00,280.75 328.60,283.00 C328.20,285.25 327.38,288.15 325.90,290.40 C324.42,292.65 322.17,294.87 319.70,296.50 C317.23,298.13 314.17,299.17 311.10,300.20 C308.03,301.23 303.75,302.40 301.30,302.70 C298.85,303.00 297.52,303.03 296.40,302.00 Z"/></clipPath>
<path d="M296.40,302.00 C295.28,300.97 294.60,298.85 294.60,296.50 C294.60,294.15 295.28,290.65 296.40,287.90 C297.52,285.15 299.47,282.23 301.30,280.00 C303.13,277.77 305.87,276.65 307.40,274.50 C308.93,272.35 309.37,269.57 310.50,267.10 C311.63,264.63 312.87,261.23 314.20,259.70 C315.53,258.17 316.97,257.90 318.50,257.90 C320.03,257.90 322.07,257.97 323.40,259.70 C324.73,261.43 325.68,265.43 326.50,268.30 C327.32,271.17 327.95,274.45 328.30,276.90 C328.65,279.35 329.00,280.75 328.60,283.00 C328.20,285.25 327.38,288.15 325.90,290.40 C324.42,292.65 322.17,294.87 319.70,296.50 C317.23,298.13 314.17,299.17 311.10,300.20 C308.03,301.23 303.75,302.40 301.30,302.70 C298.85,303.00 297.52,303.03 296.40,302.00 Z" fill="#cfcfcf"/>
<g clip-path="url(#dcl3)">
<ellipse cx="319.4" cy="268.3" rx="7.5" ry="13" transform="rotate(-5 319.4 268.3)" fill="#a9a9a9" stroke="#8a8a8a" stroke-width="0.5"/>
<ellipse cx="319.4" cy="269.3" rx="4.2" ry="9" transform="rotate(-5 319.4 268.3)" fill="#bdbdbd" stroke="#9a9a9a" stroke-width="0.5"/>
<ellipse cx="319.4" cy="269.3" rx="1.6" ry="5.5" transform="rotate(-5 319.4 268.3)" fill="#dedede"/>
<ellipse cx="308.4" cy="290.3" rx="16.00" ry="8.50" transform="rotate(-40 308.4 290.3)" fill="#c6c6c6" stroke="#8e8e8e" stroke-width="0.5"/>
<ellipse cx="308.4" cy="290.3" rx="13.44" ry="7.14" transform="rotate(-40 308.4 290.3)" fill="#bcbcbc" stroke="#8e8e8e" stroke-width="0.5"/>
<ellipse cx="308.4" cy="290.3" rx="10.88" ry="5.78" transform="rotate(-40 308.4 290.3)" fill="#b1b1b1" stroke="#8e8e8e" stroke-width="0.5"/>
<ellipse cx="308.4" cy="290.3" rx="8.32" ry="4.42" transform="rotate(-40 308.4 290.3)" fill="#a5a5a5" stroke="#8e8e8e" stroke-width="0.5"/>
<ellipse cx="308.4" cy="290.3" rx="5.76" ry="3.06" transform="rotate(-40 308.4 290.3)" fill="#989898" stroke="#8e8e8e" stroke-width="0.5"/>
<ellipse cx="308.4" cy="290.3" rx="3.20" ry="1.70" transform="rotate(-40 308.4 290.3)" fill="#8a8a8a" stroke="#8e8e8e" stroke-width="0.5"/>
</g>
<path d="M296.40,302.00 C295.28,300.97 294.60,298.85 294.60,296.50 C294.60,294.15 295.28,290.65 296.40,287.90 C297.52,285.15 299.47,282.23 301.30,280.00 C303.13,277.77 305.87,276.65 307.40,274.50 C308.93,272.35 309.37,269.57 310.50,267.10 C311.63,264.63 312.87,261.23 314.20,259.70 C315.53,258.17 316.97,257.90 318.50,257.90 C320.03,257.90 322.07,257.97 323.40,259.70 C324.73,261.43 325.68,265.43 326.50,268.30 C327.32,271.17 327.95,274.45 328.30,276.90 C328.65,279.35 329.00,280.75 328.60,283.00 C328.20,285.25 327.38,288.15 325.90,290.40 C324.42,292.65 322.17,294.87 319.70,296.50 C317.23,298.13 314.17,299.17 311.10,300.20 C308.03,301.23 303.75,302.40 301.30,302.70 C298.85,303.00 297.52,303.03 296.40,302.00 Z" fill="none" stroke="#4a4a4a" stroke-width="1.0"/>
<rect x="273.40" y="246.30" width="78.50" height="78.30" fill="none" stroke="#1a1a1a" stroke-width="1.1"/>
<rect x="311.30" y="253.00" width="29.70" height="29.50" fill="none" stroke="#3a3030" stroke-width="1.1"/>
<text x="283.34" y="264.34" font-size="11.21" fill="#c8203a" stroke="#c8203a" stroke-width="0.12">24.4</text>
<text x="370.20" y="243.06" font-size="11.8" fill="#1a1a1a" stroke="#1a1a1a" stroke-width="0.12">MnLR/Gly</text>
<line x1="356.00" y1="250.30" x2="357.30" y2="250.30" stroke="#333" stroke-width="0.6"/>
<line x1="356.00" y1="255.71" x2="357.30" y2="255.71" stroke="#333" stroke-width="0.6"/>
<line x1="356.00" y1="261.12" x2="357.30" y2="261.12" stroke="#333" stroke-width="0.6"/>
<line x1="356.00" y1="266.52" x2="357.30" y2="266.52" stroke="#333" stroke-width="0.6"/>
<line x1="356.00" y1="271.93" x2="357.30" y2="271.93" stroke="#333" stroke-width="0.6"/>
<line x1="356.00" y1="277.34" x2="357.30" y2="277.34" stroke="#333" stroke-width="0.6"/>
<line x1="356.00" y1="282.75" x2="357.30" y2="282.75" stroke="#333" stroke-width="0.6"/>
<line x1="356.00" y1="288.15" x2="357.30" y2="288.15" stroke="#333" stroke-width="0.6"/>
<line x1="356.00" y1="293.56" x2="357.30" y2="293.56" stroke="#333" stroke-width="0.6"/>
<line x1="356.00" y1="298.97" x2="357.30" y2="298.97" stroke="#333" stroke-width="0.6"/>
<line x1="356.00" y1="304.38" x2="357.30" y2="304.38" stroke="#333" stroke-width="0.6"/>
<line x1="356.00" y1="309.78" x2="357.30" y2="309.78" stroke="#333" stroke-width="0.6"/>
<line x1="356.00" y1="315.19" x2="357.30" y2="315.19" stroke="#333" stroke-width="0.6"/>
<line x1="356.00" y1="320.60" x2="357.30" y2="320.60" stroke="#333" stroke-width="0.6"/>
<line x1="361.30" y1="324.60" x2="361.30" y2="325.90" stroke="#333" stroke-width="0.6"/>
<line x1="366.72" y1="324.60" x2="366.72" y2="325.90" stroke="#333" stroke-width="0.6"/>
<line x1="372.15" y1="324.60" x2="372.15" y2="325.90" stroke="#333" stroke-width="0.6"/>
<line x1="377.57" y1="324.60" x2="377.57" y2="325.90" stroke="#333" stroke-width="0.6"/>
<line x1="382.99" y1="324.60" x2="382.99" y2="325.90" stroke="#333" stroke-width="0.6"/>
<line x1="388.42" y1="324.60" x2="388.42" y2="325.90" stroke="#333" stroke-width="0.6"/>
<line x1="393.84" y1="324.60" x2="393.84" y2="325.90" stroke="#333" stroke-width="0.6"/>
<line x1="399.26" y1="324.60" x2="399.26" y2="325.90" stroke="#333" stroke-width="0.6"/>
<line x1="404.68" y1="324.60" x2="404.68" y2="325.90" stroke="#333" stroke-width="0.6"/>
<line x1="410.11" y1="324.60" x2="410.11" y2="325.90" stroke="#333" stroke-width="0.6"/>
<line x1="415.53" y1="324.60" x2="415.53" y2="325.90" stroke="#333" stroke-width="0.6"/>
<line x1="420.95" y1="324.60" x2="420.95" y2="325.90" stroke="#333" stroke-width="0.6"/>
<line x1="426.38" y1="324.60" x2="426.38" y2="325.90" stroke="#333" stroke-width="0.6"/>
<line x1="431.80" y1="324.60" x2="431.80" y2="325.90" stroke="#333" stroke-width="0.6"/>
<clipPath id="dcl4"><path d="M378.60,298.00 C378.02,295.95 377.22,292.13 377.80,289.20 C378.38,286.27 381.97,282.58 382.10,280.40 C382.23,278.22 378.60,276.97 378.60,276.10 C378.60,275.23 380.78,275.07 382.10,275.20 C383.42,275.33 385.03,278.07 386.50,276.90 C387.97,275.73 389.73,270.53 390.90,268.20 C392.07,265.87 392.62,264.65 393.50,262.90 C394.38,261.15 395.03,258.92 396.20,257.70 C397.37,256.48 398.90,255.67 400.50,255.60 C402.10,255.53 404.33,255.78 405.80,257.30 C407.27,258.82 408.28,261.13 409.30,264.70 C410.32,268.27 411.60,274.90 411.90,278.70 C412.20,282.50 411.97,284.87 411.10,287.50 C410.23,290.13 408.90,292.47 406.70,294.50 C404.50,296.53 401.12,298.40 397.90,299.70 C394.68,301.00 390.17,302.00 387.40,302.30 C384.63,302.60 382.77,302.22 381.30,301.50 C379.83,300.78 379.18,300.05 378.60,298.00 Z"/></clipPath>
<path d="M378.60,298.00 C378.02,295.95 377.22,292.13 377.80,289.20 C378.38,286.27 381.97,282.58 382.10,280.40 C382.23,278.22 378.60,276.97 378.60,276.10 C378.60,275.23 380.78,275.07 382.10,275.20 C383.42,275.33 385.03,278.07 386.50,276.90 C387.97,275.73 389.73,270.53 390.90,268.20 C392.07,265.87 392.62,264.65 393.50,262.90 C394.38,261.15 395.03,258.92 396.20,257.70 C397.37,256.48 398.90,255.67 400.50,255.60 C402.10,255.53 404.33,255.78 405.80,257.30 C407.27,258.82 408.28,261.13 409.30,264.70 C410.32,268.27 411.60,274.90 411.90,278.70 C412.20,282.50 411.97,284.87 411.10,287.50 C410.23,290.13 408.90,292.47 406.70,294.50 C404.50,296.53 401.12,298.40 397.90,299.70 C394.68,301.00 390.17,302.00 387.40,302.30 C384.63,302.60 382.77,302.22 381.30,301.50 C379.83,300.78 379.18,300.05 378.60,298.00 Z" fill="#cfcfcf"/>
<g clip-path="url(#dcl4)">
<ellipse cx="402.3" cy="268.3" rx="7.5" ry="13" transform="rotate(-10 402.3 268.3)" fill="#a9a9a9" stroke="#8a8a8a" stroke-width="0.5"/>
<ellipse cx="402.3" cy="269.3" rx="4.2" ry="9" transform="rotate(-10 402.3 268.3)" fill="#bdbdbd" stroke="#9a9a9a" stroke-width="0.5"/>
<ellipse cx="402.3" cy="269.3" rx="1.6" ry="5.5" transform="rotate(-10 402.3 268.3)" fill="#dedede"/>
<ellipse cx="393.3" cy="290.3" rx="16.00" ry="9.00" transform="rotate(-40 393.3 290.3)" fill="#c6c6c6" stroke="#8e8e8e" stroke-width="0.5"/>
<ellipse cx="393.3" cy="290.3" rx="13.44" ry="7.56" transform="rotate(-40 393.3 290.3)" fill="#bcbcbc" stroke="#8e8e8e" stroke-width="0.5"/>
<ellipse cx="393.3" cy="290.3" rx="10.88" ry="6.12" transform="rotate(-40 393.3 290.3)" fill="#b1b1b1" stroke="#8e8e8e" stroke-width="0.5"/>
<ellipse cx="393.3" cy="290.3" rx="8.32" ry="4.68" transform="rotate(-40 393.3 290.3)" fill="#a5a5a5" stroke="#8e8e8e" stroke-width="0.5"/>
<ellipse cx="393.3" cy="290.3" rx="5.76" ry="3.24" transform="rotate(-40 393.3 290.3)" fill="#989898" stroke="#8e8e8e" stroke-width="0.5"/>
<ellipse cx="393.3" cy="290.3" rx="3.20" ry="1.80" transform="rotate(-40 393.3 290.3)" fill="#8a8a8a" stroke="#8e8e8e" stroke-width="0.5"/>
</g>
<path d="M378.60,298.00 C378.02,295.95 377.22,292.13 377.80,289.20 C378.38,286.27 381.97,282.58 382.10,280.40 C382.23,278.22 378.60,276.97 378.60,276.10 C378.60,275.23 380.78,275.07 382.10,275.20 C383.42,275.33 385.03,278.07 386.50,276.90 C387.97,275.73 389.73,270.53 390.90,268.20 C392.07,265.87 392.62,264.65 393.50,262.90 C394.38,261.15 395.03,258.92 396.20,257.70 C397.37,256.48 398.90,255.67 400.50,255.60 C402.10,255.53 404.33,255.78 405.80,257.30 C407.27,258.82 408.28,261.13 409.30,264.70 C410.32,268.27 411.60,274.90 411.90,278.70 C412.20,282.50 411.97,284.87 411.10,287.50 C410.23,290.13 408.90,292.47 406.70,294.50 C404.50,296.53 401.12,298.40 397.90,299.70 C394.68,301.00 390.17,302.00 387.40,302.30 C384.63,302.60 382.77,302.22 381.30,301.50 C379.83,300.78 379.18,300.05 378.60,298.00 Z" fill="none" stroke="#4a4a4a" stroke-width="1.0"/>
<rect x="357.30" y="246.30" width="78.50" height="78.30" fill="none" stroke="#1a1a1a" stroke-width="1.1"/>
<rect x="395.20" y="253.00" width="29.70" height="29.50" fill="none" stroke="#3a3030" stroke-width="1.1"/>
<text x="364.64" y="264.62" font-size="11.6" fill="#c8203a" stroke="#c8203a" stroke-width="0.12">31.0</text>
<text x="8.20" y="275.55" font-size="10.99" fill="#1a1a1a" stroke="#1a1a1a" stroke-width="0.12" transform="rotate(-90 8.20 275.55)">CD86</text>
<text x="19.40" y="254.40" font-size="7.6" text-anchor="middle" fill="#2a2a2a" stroke="#2a2a2a" stroke-width="0.16" transform="rotate(-90 19.40 254.40)">10<tspan font-size="4.8" dy="-2.7">7</tspan></text>
<text x="19.40" y="277.40" font-size="7.6" text-anchor="middle" fill="#2a2a2a" stroke="#2a2a2a" stroke-width="0.16" transform="rotate(-90 19.40 277.40)">10<tspan font-size="4.8" dy="-2.7">5</tspan></text>
<text x="19.40" y="303.00" font-size="7.6" text-anchor="middle" fill="#2a2a2a" stroke="#2a2a2a" stroke-width="0.16" transform="rotate(-90 19.40 303.00)">10<tspan font-size="4.8" dy="-2.7">3</tspan></text>
<text x="34.40" y="333.40" font-size="7.6" text-anchor="middle" fill="#2a2a2a" stroke="#2a2a2a" stroke-width="0.16">0</text>
<text x="57.60" y="333.40" font-size="7.6" text-anchor="middle" fill="#2a2a2a" stroke="#2a2a2a" stroke-width="0.16">10<tspan font-size="4.8" dy="-2.7">4</tspan></text>
<text x="80.40" y="333.40" font-size="7.6" text-anchor="middle" fill="#2a2a2a" stroke="#2a2a2a" stroke-width="0.16">10<tspan font-size="4.8" dy="-2.7">5</tspan></text>
<line x1="4.40" y1="281.00" x2="4.40" y2="337.40" stroke="#1a1a1a" stroke-width="1"/>
<polygon points="4.4,279.3 2.6,283.6 6.2,283.6" fill="#1a1a1a"/>
<line x1="4.40" y1="337.40" x2="388.50" y2="337.40" stroke="#1a1a1a" stroke-width="1"/>
<polygon points="391,337.4 386.5,335.6 386.5,339.2" fill="#1a1a1a"/>
<text x="400.10" y="343.02" font-size="12.03" fill="#1a1a1a" stroke="#1a1a1a" stroke-width="0.12">CD11c</text>
<text x="2.34" y="367.20" font-size="16.5" font-weight="bold" fill="#000">e</text>
<text x="195.28" y="370.76" font-size="11.67" fill="#1a1a1a" stroke="#1a1a1a" stroke-width="0.12">hPBMC-DCs</text>
<line x1="21.80" y1="376.30" x2="436.20" y2="376.30" stroke="#3a3a3a" stroke-width="1"/>
<text x="50.36" y="391.46" font-size="11.8" fill="#1a1a1a" stroke="#1a1a1a" stroke-width="0.12">Ctrl</text>
<line x1="20.30" y1="398.60" x2="21.60" y2="398.60" stroke="#333" stroke-width="0.6"/>
<line x1="20.30" y1="404.02" x2="21.60" y2="404.02" stroke="#333" stroke-width="0.6"/>
<line x1="20.30" y1="409.43" x2="21.60" y2="409.43" stroke="#333" stroke-width="0.6"/>
<line x1="20.30" y1="414.85" x2="21.60" y2="414.85" stroke="#333" stroke-width="0.6"/>
<line x1="20.30" y1="420.26" x2="21.60" y2="420.26" stroke="#333" stroke-width="0.6"/>
<line x1="20.30" y1="425.68" x2="21.60" y2="425.68" stroke="#333" stroke-width="0.6"/>
<line x1="20.30" y1="431.09" x2="21.60" y2="431.09" stroke="#333" stroke-width="0.6"/>
<line x1="20.30" y1="436.51" x2="21.60" y2="436.51" stroke="#333" stroke-width="0.6"/>
<line x1="20.30" y1="441.92" x2="21.60" y2="441.92" stroke="#333" stroke-width="0.6"/>
<line x1="20.30" y1="447.34" x2="21.60" y2="447.34" stroke="#333" stroke-width="0.6"/>
<line x1="20.30" y1="452.75" x2="21.60" y2="452.75" stroke="#333" stroke-width="0.6"/>
<line x1="20.30" y1="458.17" x2="21.60" y2="458.17" stroke="#333" stroke-width="0.6"/>
<line x1="20.30" y1="463.58" x2="21.60" y2="463.58" stroke="#333" stroke-width="0.6"/>
<line x1="20.30" y1="469.00" x2="21.60" y2="469.00" stroke="#333" stroke-width="0.6"/>
<line x1="25.60" y1="473.00" x2="25.60" y2="474.30" stroke="#333" stroke-width="0.6"/>
<line x1="31.04" y1="473.00" x2="31.04" y2="474.30" stroke="#333" stroke-width="0.6"/>
<line x1="36.48" y1="473.00" x2="36.48" y2="474.30" stroke="#333" stroke-width="0.6"/>
<line x1="41.92" y1="473.00" x2="41.92" y2="474.30" stroke="#333" stroke-width="0.6"/>
<line x1="47.35" y1="473.00" x2="47.35" y2="474.30" stroke="#333" stroke-width="0.6"/>
<line x1="52.79" y1="473.00" x2="52.79" y2="474.30" stroke="#333" stroke-width="0.6"/>
<line x1="58.23" y1="473.00" x2="58.23" y2="474.30" stroke="#333" stroke-width="0.6"/>
<line x1="63.67" y1="473.00" x2="63.67" y2="474.30" stroke="#333" stroke-width="0.6"/>
<line x1="69.11" y1="473.00" x2="69.11" y2="474.30" stroke="#333" stroke-width="0.6"/>
<line x1="74.55" y1="473.00" x2="74.55" y2="474.30" stroke="#333" stroke-width="0.6"/>
<line x1="79.98" y1="473.00" x2="79.98" y2="474.30" stroke="#333" stroke-width="0.6"/>
<line x1="85.42" y1="473.00" x2="85.42" y2="474.30" stroke="#333" stroke-width="0.6"/>
<line x1="90.86" y1="473.00" x2="90.86" y2="474.30" stroke="#333" stroke-width="0.6"/>
<line x1="96.30" y1="473.00" x2="96.30" y2="474.30" stroke="#333" stroke-width="0.6"/>
<path d="M37.90,452.50 C36.98,451.38 39.48,449.03 40.40,447.60 C41.32,446.17 43.00,445.23 43.40,443.90 C43.80,442.57 42.60,440.62 42.80,439.60 C43.00,438.58 44.50,438.62 44.60,437.80 C44.70,436.98 44.00,436.13 43.40,434.70 C42.80,433.27 40.90,430.22 41.00,429.20 C41.10,428.18 43.28,429.12 44.00,428.60 C44.72,428.08 44.58,426.72 45.30,426.10 C46.02,425.48 47.28,425.62 48.30,424.90 C49.32,424.18 50.58,422.22 51.40,421.80 C52.22,421.38 52.48,422.50 53.20,422.40 C53.92,422.30 54.17,421.50 55.70,421.20 C57.23,420.90 60.87,421.10 62.40,420.60 C63.93,420.10 64.18,418.20 64.90,418.20 C65.62,418.20 65.98,419.90 66.70,420.60 C67.42,421.30 68.68,421.58 69.20,422.40 C69.72,423.22 69.40,424.17 69.80,425.50 C70.20,426.83 71.08,428.35 71.60,430.40 C72.12,432.45 72.68,435.13 72.90,437.80 C73.12,440.47 73.22,444.15 72.90,446.40 C72.58,448.65 72.23,449.98 71.00,451.30 C69.77,452.62 68.05,453.58 65.50,454.30 C62.95,455.02 58.97,455.60 55.70,455.60 C52.43,455.60 48.87,454.82 45.90,454.30 C42.93,453.78 38.82,453.62 37.90,452.50 Z" fill="#dcdcdc" stroke="#7a7a7a" stroke-width="1.0"/>
<path d="M44.06,450.45 C43.38,449.62 45.23,447.88 45.91,446.82 C46.59,445.76 47.84,445.07 48.13,444.08 C48.43,443.10 47.54,441.65 47.69,440.90 C47.84,440.15 48.95,440.17 49.02,439.57 C49.09,438.96 48.58,438.33 48.13,437.27 C47.69,436.21 46.28,433.96 46.36,433.20 C46.43,432.45 48.05,433.14 48.58,432.76 C49.11,432.38 49.01,431.37 49.54,430.91 C50.07,430.45 51.01,430.55 51.76,430.02 C52.51,429.49 53.45,428.04 54.05,427.73 C54.66,427.42 54.85,428.25 55.38,428.17 C55.91,428.10 56.10,427.51 57.23,427.28 C58.37,427.06 61.06,427.21 62.19,426.84 C63.33,426.47 63.51,425.06 64.04,425.06 C64.57,425.06 64.84,426.32 65.37,426.84 C65.90,427.36 66.84,427.57 67.22,428.17 C67.61,428.78 67.37,429.48 67.67,430.47 C67.96,431.45 68.62,432.58 69.00,434.09 C69.38,435.61 69.80,437.59 69.96,439.57 C70.12,441.54 70.20,444.27 69.96,445.93 C69.73,447.60 69.47,448.58 68.56,449.56 C67.64,450.53 66.37,451.25 64.49,451.78 C62.60,452.31 59.65,452.74 57.23,452.74 C54.82,452.74 52.18,452.16 49.98,451.78 C47.79,451.40 44.74,451.27 44.06,450.45 Z" fill="#d6d6d6" stroke="#a4a4a4" stroke-width="0.6"/>
<path d="M48.62,448.93 C48.12,448.31 49.49,447.03 49.99,446.24 C50.49,445.46 51.41,444.95 51.63,444.22 C51.85,443.49 51.20,442.42 51.31,441.86 C51.41,441.31 52.24,441.32 52.29,440.88 C52.35,440.43 51.96,439.96 51.63,439.18 C51.31,438.39 50.26,436.72 50.32,436.17 C50.37,435.61 51.57,436.12 51.96,435.84 C52.35,435.56 52.28,434.81 52.67,434.47 C53.07,434.13 53.76,434.20 54.32,433.81 C54.87,433.42 55.57,432.34 56.01,432.11 C56.46,431.89 56.61,432.50 57.00,432.44 C57.39,432.39 57.53,431.95 58.37,431.79 C59.21,431.62 61.20,431.73 62.04,431.46 C62.88,431.18 63.01,430.14 63.41,430.14 C63.80,430.14 64.00,431.07 64.39,431.46 C64.79,431.84 65.48,432.00 65.76,432.44 C66.04,432.89 65.87,433.41 66.09,434.14 C66.31,434.87 66.79,435.70 67.08,436.82 C67.36,437.95 67.67,439.42 67.79,440.88 C67.91,442.34 67.96,444.35 67.79,445.59 C67.61,446.82 67.42,447.55 66.75,448.27 C66.07,448.99 65.13,449.52 63.74,449.91 C62.34,450.30 60.16,450.62 58.37,450.62 C56.58,450.62 54.63,450.19 53.00,449.91 C51.38,449.63 49.12,449.54 48.62,448.93 Z" fill="#d0d0d0" stroke="#a4a4a4" stroke-width="0.6"/>
<path d="M52.00,447.80 C51.62,447.35 52.64,446.40 53.01,445.82 C53.38,445.23 54.06,444.86 54.22,444.32 C54.39,443.78 53.90,442.99 53.98,442.57 C54.06,442.16 54.67,442.18 54.71,441.84 C54.75,441.51 54.47,441.17 54.22,440.59 C53.98,440.01 53.21,438.77 53.25,438.36 C53.29,437.95 54.18,438.33 54.47,438.12 C54.76,437.91 54.70,437.35 54.99,437.10 C55.29,436.85 55.80,436.91 56.21,436.62 C56.62,436.33 57.14,435.53 57.47,435.36 C57.80,435.19 57.91,435.64 58.20,435.60 C58.49,435.56 58.59,435.24 59.21,435.12 C59.83,435.00 61.30,435.08 61.92,434.87 C62.55,434.67 62.65,433.90 62.94,433.90 C63.23,433.90 63.38,434.59 63.67,434.87 C63.96,435.16 64.47,435.27 64.68,435.60 C64.89,435.93 64.76,436.32 64.92,436.86 C65.08,437.40 65.44,438.02 65.65,438.85 C65.86,439.68 66.09,440.76 66.18,441.84 C66.27,442.93 66.31,444.42 66.18,445.33 C66.05,446.24 65.91,446.78 65.41,447.32 C64.91,447.85 64.21,448.24 63.18,448.53 C62.15,448.82 60.53,449.06 59.21,449.06 C57.89,449.06 56.44,448.74 55.24,448.53 C54.04,448.32 52.37,448.25 52.00,447.80 Z" fill="#c9c9c9" stroke="#a4a4a4" stroke-width="0.6"/>
<path d="M54.49,446.97 C54.22,446.63 54.97,445.93 55.24,445.50 C55.52,445.07 56.02,444.79 56.14,444.39 C56.26,443.99 55.90,443.41 55.96,443.10 C56.02,442.80 56.47,442.81 56.50,442.56 C56.53,442.32 56.32,442.06 56.14,441.63 C55.96,441.20 55.39,440.29 55.42,439.98 C55.45,439.68 56.11,439.96 56.32,439.80 C56.54,439.65 56.50,439.24 56.71,439.05 C56.93,438.87 57.31,438.91 57.61,438.69 C57.92,438.48 58.30,437.89 58.54,437.76 C58.79,437.64 58.87,437.97 59.08,437.94 C59.30,437.91 59.37,437.67 59.83,437.58 C60.29,437.49 61.38,437.55 61.84,437.40 C62.30,437.25 62.37,436.68 62.59,436.68 C62.80,436.68 62.91,437.19 63.13,437.40 C63.34,437.61 63.72,437.70 63.88,437.94 C64.03,438.19 63.94,438.47 64.06,438.87 C64.18,439.27 64.44,439.73 64.60,440.34 C64.75,440.96 64.92,441.76 64.99,442.56 C65.05,443.36 65.08,444.47 64.99,445.14 C64.89,445.81 64.79,446.21 64.42,446.61 C64.05,447.00 63.53,447.29 62.77,447.51 C62.00,447.72 60.81,447.90 59.83,447.90 C58.85,447.90 57.78,447.66 56.89,447.51 C56.00,447.35 54.77,447.30 54.49,446.97 Z" fill="#c1c1c1" stroke="#a4a4a4" stroke-width="0.6"/>
<rect x="21.60" y="394.60" width="78.70" height="78.40" fill="none" stroke="#1a1a1a" stroke-width="1.1"/>
<rect x="30.80" y="407.00" width="46.60" height="28.80" fill="none" stroke="#222" stroke-width="1.1"/>
<text x="41.76" y="405.62" font-size="11.17" fill="#c8203a" stroke="#c8203a" stroke-width="0.12">16.0</text>
<text x="124.66" y="391.46" font-size="11.8" fill="#1a1a1a" stroke="#1a1a1a" stroke-width="0.12">Reuterin</text>
<line x1="104.80" y1="398.60" x2="106.10" y2="398.60" stroke="#333" stroke-width="0.6"/>
<line x1="104.80" y1="404.02" x2="106.10" y2="404.02" stroke="#333" stroke-width="0.6"/>
<line x1="104.80" y1="409.43" x2="106.10" y2="409.43" stroke="#333" stroke-width="0.6"/>
<line x1="104.80" y1="414.85" x2="106.10" y2="414.85" stroke="#333" stroke-width="0.6"/>
<line x1="104.80" y1="420.26" x2="106.10" y2="420.26" stroke="#333" stroke-width="0.6"/>
<line x1="104.80" y1="425.68" x2="106.10" y2="425.68" stroke="#333" stroke-width="0.6"/>
<line x1="104.80" y1="431.09" x2="106.10" y2="431.09" stroke="#333" stroke-width="0.6"/>
<line x1="104.80" y1="436.51" x2="106.10" y2="436.51" stroke="#333" stroke-width="0.6"/>
<line x1="104.80" y1="441.92" x2="106.10" y2="441.92" stroke="#333" stroke-width="0.6"/>
<line x1="104.80" y1="447.34" x2="106.10" y2="447.34" stroke="#333" stroke-width="0.6"/>
<line x1="104.80" y1="452.75" x2="106.10" y2="452.75" stroke="#333" stroke-width="0.6"/>
<line x1="104.80" y1="458.17" x2="106.10" y2="458.17" stroke="#333" stroke-width="0.6"/>
<line x1="104.80" y1="463.58" x2="106.10" y2="463.58" stroke="#333" stroke-width="0.6"/>
<line x1="104.80" y1="469.00" x2="106.10" y2="469.00" stroke="#333" stroke-width="0.6"/>
<line x1="110.10" y1="473.00" x2="110.10" y2="474.30" stroke="#333" stroke-width="0.6"/>
<line x1="115.54" y1="473.00" x2="115.54" y2="474.30" stroke="#333" stroke-width="0.6"/>
<line x1="120.98" y1="473.00" x2="120.98" y2="474.30" stroke="#333" stroke-width="0.6"/>
<line x1="126.42" y1="473.00" x2="126.42" y2="474.30" stroke="#333" stroke-width="0.6"/>
<line x1="131.85" y1="473.00" x2="131.85" y2="474.30" stroke="#333" stroke-width="0.6"/>
<line x1="137.29" y1="473.00" x2="137.29" y2="474.30" stroke="#333" stroke-width="0.6"/>
<line x1="142.73" y1="473.00" x2="142.73" y2="474.30" stroke="#333" stroke-width="0.6"/>
<line x1="148.17" y1="473.00" x2="148.17" y2="474.30" stroke="#333" stroke-width="0.6"/>
<line x1="153.61" y1="473.00" x2="153.61" y2="474.30" stroke="#333" stroke-width="0.6"/>
<line x1="159.05" y1="473.00" x2="159.05" y2="474.30" stroke="#333" stroke-width="0.6"/>
<line x1="164.48" y1="473.00" x2="164.48" y2="474.30" stroke="#333" stroke-width="0.6"/>
<line x1="169.92" y1="473.00" x2="169.92" y2="474.30" stroke="#333" stroke-width="0.6"/>
<line x1="175.36" y1="473.00" x2="175.36" y2="474.30" stroke="#333" stroke-width="0.6"/>
<line x1="180.80" y1="473.00" x2="180.80" y2="474.30" stroke="#333" stroke-width="0.6"/>
<path d="M121.10,449.40 C120.68,447.97 122.28,446.42 123.50,445.10 C124.72,443.78 126.77,442.72 128.40,441.50 C130.03,440.28 131.97,439.03 133.30,437.80 C134.63,436.57 135.68,435.53 136.40,434.10 C137.12,432.67 137.30,430.83 137.60,429.20 C137.90,427.57 137.48,425.53 138.20,424.30 C138.92,423.07 140.57,422.62 141.90,421.80 C143.23,420.98 144.87,419.63 146.20,419.40 C147.53,419.17 148.67,419.58 149.90,420.40 C151.13,421.22 152.90,422.83 153.60,424.30 C154.30,425.77 153.80,427.37 154.10,429.20 C154.40,431.03 154.77,433.47 155.40,435.30 C156.03,437.13 157.70,438.15 157.90,440.20 C158.10,442.25 157.43,445.45 156.60,447.60 C155.77,449.75 155.15,451.98 152.90,453.10 C150.65,454.22 146.37,453.88 143.10,454.30 C139.83,454.72 136.15,455.70 133.30,455.60 C130.45,455.50 128.03,454.73 126.00,453.70 C123.97,452.67 121.52,450.83 121.10,449.40 Z" fill="#dcdcdc" stroke="#7a7a7a" stroke-width="1.0"/>
<path d="M127.08,447.89 C126.77,446.83 127.96,445.68 128.86,444.71 C129.76,443.74 131.27,442.95 132.48,442.05 C133.69,441.15 135.12,440.22 136.11,439.31 C137.09,438.40 137.87,437.63 138.40,436.57 C138.93,435.51 139.07,434.15 139.29,432.94 C139.51,431.74 139.20,430.23 139.73,429.32 C140.26,428.41 141.49,428.07 142.47,427.47 C143.46,426.86 144.67,425.86 145.65,425.69 C146.64,425.52 147.48,425.83 148.39,426.43 C149.30,427.04 150.61,428.23 151.13,429.32 C151.65,430.40 151.28,431.59 151.50,432.94 C151.72,434.30 151.99,436.10 152.46,437.46 C152.93,438.81 154.16,439.57 154.31,441.08 C154.46,442.60 153.97,444.97 153.35,446.56 C152.73,448.15 152.28,449.80 150.61,450.63 C148.95,451.46 145.78,451.21 143.36,451.52 C140.94,451.83 138.22,452.55 136.11,452.48 C134.00,452.41 132.21,451.84 130.71,451.07 C129.20,450.31 127.39,448.95 127.08,447.89 Z" fill="#d6d6d6" stroke="#a4a4a4" stroke-width="0.6"/>
<path d="M131.51,446.78 C131.28,445.99 132.15,445.14 132.82,444.42 C133.49,443.70 134.61,443.12 135.50,442.45 C136.40,441.78 137.46,441.10 138.19,440.42 C138.92,439.75 139.49,439.18 139.88,438.40 C140.28,437.61 140.38,436.61 140.54,435.71 C140.70,434.82 140.48,433.71 140.87,433.03 C141.26,432.36 142.17,432.11 142.90,431.66 C143.63,431.22 144.52,430.48 145.25,430.35 C145.98,430.22 146.60,430.45 147.28,430.90 C147.95,431.34 148.92,432.23 149.30,433.03 C149.69,433.83 149.41,434.71 149.58,435.71 C149.74,436.72 149.94,438.05 150.29,439.05 C150.63,440.06 151.55,440.62 151.66,441.74 C151.77,442.86 151.40,444.61 150.94,445.79 C150.49,446.97 150.15,448.19 148.92,448.80 C147.69,449.41 145.34,449.23 143.55,449.46 C141.76,449.69 139.75,450.23 138.19,450.17 C136.63,450.12 135.30,449.70 134.19,449.13 C133.07,448.56 131.73,447.56 131.51,446.78 Z" fill="#d0d0d0" stroke="#a4a4a4" stroke-width="0.6"/>
<path d="M134.78,445.95 C134.61,445.37 135.26,444.74 135.75,444.21 C136.25,443.67 137.08,443.24 137.74,442.75 C138.40,442.26 139.18,441.75 139.72,441.25 C140.26,440.75 140.69,440.33 140.98,439.75 C141.27,439.17 141.34,438.43 141.47,437.76 C141.59,437.10 141.42,436.28 141.71,435.78 C142.00,435.28 142.67,435.10 143.21,434.77 C143.75,434.44 144.41,433.89 144.95,433.79 C145.49,433.70 145.95,433.87 146.45,434.20 C146.95,434.53 147.67,435.18 147.95,435.78 C148.23,436.37 148.03,437.02 148.15,437.76 C148.27,438.51 148.42,439.49 148.68,440.24 C148.94,440.98 149.61,441.39 149.69,442.22 C149.77,443.05 149.50,444.35 149.17,445.22 C148.83,446.09 148.58,447.00 147.67,447.45 C146.75,447.90 145.02,447.77 143.69,447.94 C142.37,448.10 140.88,448.50 139.72,448.46 C138.57,448.42 137.59,448.11 136.77,447.69 C135.94,447.27 134.95,446.53 134.78,445.95 Z" fill="#c9c9c9" stroke="#a4a4a4" stroke-width="0.6"/>
<path d="M137.20,445.34 C137.08,444.91 137.56,444.44 137.92,444.05 C138.29,443.65 138.90,443.34 139.39,442.97 C139.88,442.61 140.46,442.23 140.86,441.86 C141.26,441.49 141.58,441.18 141.79,440.75 C142.01,440.32 142.06,439.77 142.15,439.28 C142.24,438.79 142.12,438.18 142.33,437.81 C142.55,437.44 143.04,437.31 143.44,437.06 C143.84,436.82 144.33,436.41 144.73,436.34 C145.13,436.27 145.47,436.40 145.84,436.64 C146.21,436.89 146.74,437.37 146.95,437.81 C147.16,438.25 147.01,438.73 147.10,439.28 C147.19,439.83 147.30,440.56 147.49,441.11 C147.68,441.66 148.18,441.97 148.24,442.58 C148.30,443.20 148.10,444.15 147.85,444.80 C147.60,445.44 147.41,446.11 146.74,446.45 C146.06,446.78 144.78,446.68 143.80,446.81 C142.82,446.93 141.72,447.23 140.86,447.20 C140.01,447.17 139.28,446.94 138.67,446.63 C138.06,446.32 137.33,445.77 137.20,445.34 Z" fill="#c1c1c1" stroke="#a4a4a4" stroke-width="0.6"/>
<rect x="106.10" y="394.60" width="78.70" height="78.40" fill="none" stroke="#1a1a1a" stroke-width="1.1"/>
<rect x="115.30" y="407.00" width="46.60" height="28.80" fill="none" stroke="#222" stroke-width="1.1"/>
<text x="126.54" y="405.58" font-size="11.11" fill="#c8203a" stroke="#c8203a" stroke-width="0.12">21.2</text>
<text x="217.10" y="391.16" font-size="11.8" fill="#1a1a1a" stroke="#1a1a1a" stroke-width="0.12">Mn<tspan font-size="7" dy="-4">2+</tspan></text>
<line x1="189.00" y1="398.60" x2="190.30" y2="398.60" stroke="#333" stroke-width="0.6"/>
<line x1="189.00" y1="404.02" x2="190.30" y2="404.02" stroke="#333" stroke-width="0.6"/>
<line x1="189.00" y1="409.43" x2="190.30" y2="409.43" stroke="#333" stroke-width="0.6"/>
<line x1="189.00" y1="414.85" x2="190.30" y2="414.85" stroke="#333" stroke-width="0.6"/>
<line x1="189.00" y1="420.26" x2="190.30" y2="420.26" stroke="#333" stroke-width="0.6"/>
<line x1="189.00" y1="425.68" x2="190.30" y2="425.68" stroke="#333" stroke-width="0.6"/>
<line x1="189.00" y1="431.09" x2="190.30" y2="431.09" stroke="#333" stroke-width="0.6"/>
<line x1="189.00" y1="436.51" x2="190.30" y2="436.51" stroke="#333" stroke-width="0.6"/>
<line x1="189.00" y1="441.92" x2="190.30" y2="441.92" stroke="#333" stroke-width="0.6"/>
<line x1="189.00" y1="447.34" x2="190.30" y2="447.34" stroke="#333" stroke-width="0.6"/>
<line x1="189.00" y1="452.75" x2="190.30" y2="452.75" stroke="#333" stroke-width="0.6"/>
<line x1="189.00" y1="458.17" x2="190.30" y2="458.17" stroke="#333" stroke-width="0.6"/>
<line x1="189.00" y1="463.58" x2="190.30" y2="463.58" stroke="#333" stroke-width="0.6"/>
<line x1="189.00" y1="469.00" x2="190.30" y2="469.00" stroke="#333" stroke-width="0.6"/>
<line x1="194.30" y1="473.00" x2="194.30" y2="474.30" stroke="#333" stroke-width="0.6"/>
<line x1="199.74" y1="473.00" x2="199.74" y2="474.30" stroke="#333" stroke-width="0.6"/>
<line x1="205.18" y1="473.00" x2="205.18" y2="474.30" stroke="#333" stroke-width="0.6"/>
<line x1="210.62" y1="473.00" x2="210.62" y2="474.30" stroke="#333" stroke-width="0.6"/>
<line x1="216.05" y1="473.00" x2="216.05" y2="474.30" stroke="#333" stroke-width="0.6"/>
<line x1="221.49" y1="473.00" x2="221.49" y2="474.30" stroke="#333" stroke-width="0.6"/>
<line x1="226.93" y1="473.00" x2="226.93" y2="474.30" stroke="#333" stroke-width="0.6"/>
<line x1="232.37" y1="473.00" x2="232.37" y2="474.30" stroke="#333" stroke-width="0.6"/>
<line x1="237.81" y1="473.00" x2="237.81" y2="474.30" stroke="#333" stroke-width="0.6"/>
<line x1="243.25" y1="473.00" x2="243.25" y2="474.30" stroke="#333" stroke-width="0.6"/>
<line x1="248.68" y1="473.00" x2="248.68" y2="474.30" stroke="#333" stroke-width="0.6"/>
<line x1="254.12" y1="473.00" x2="254.12" y2="474.30" stroke="#333" stroke-width="0.6"/>
<line x1="259.56" y1="473.00" x2="259.56" y2="474.30" stroke="#333" stroke-width="0.6"/>
<line x1="265.00" y1="473.00" x2="265.00" y2="474.30" stroke="#333" stroke-width="0.6"/>
<path d="M207.40,452.90 C206.38,451.72 206.00,449.63 206.20,448.00 C206.40,446.37 208.08,444.73 208.60,443.10 C209.12,441.47 208.98,439.63 209.30,438.20 C209.62,436.77 210.50,436.13 210.50,434.50 C210.50,432.87 209.40,430.23 209.30,428.40 C209.20,426.57 209.08,424.73 209.90,423.50 C210.72,422.27 212.98,421.92 214.20,421.00 C215.42,420.08 215.88,418.92 217.20,418.00 C218.52,417.08 220.67,416.02 222.10,415.50 C223.53,414.98 224.47,414.58 225.80,414.90 C227.13,415.22 228.77,416.58 230.10,417.40 C231.43,418.22 232.78,418.78 233.80,419.80 C234.82,420.82 235.38,422.07 236.20,423.50 C237.02,424.93 238.38,426.37 238.70,428.40 C239.02,430.43 238.20,433.25 238.10,435.70 C238.00,438.15 238.52,440.85 238.10,443.10 C237.68,445.35 237.03,447.57 235.60,449.20 C234.17,450.83 231.95,451.97 229.50,452.90 C227.05,453.83 223.77,454.43 220.90,454.80 C218.03,455.17 214.55,455.42 212.30,455.10 C210.05,454.78 208.42,454.08 207.40,452.90 Z" fill="#dcdcdc" stroke="#7a7a7a" stroke-width="1.0"/>
<path d="M211.79,450.22 C211.04,449.35 210.76,447.80 210.91,446.60 C211.05,445.39 212.30,444.18 212.68,442.97 C213.06,441.76 212.97,440.40 213.20,439.34 C213.43,438.28 214.09,437.81 214.09,436.61 C214.09,435.40 213.27,433.45 213.20,432.09 C213.13,430.74 213.04,429.38 213.64,428.47 C214.25,427.55 215.93,427.29 216.83,426.62 C217.73,425.94 218.07,425.07 219.05,424.40 C220.02,423.72 221.61,422.93 222.67,422.55 C223.73,422.16 224.42,421.87 225.41,422.10 C226.40,422.34 227.61,423.35 228.59,423.95 C229.58,424.56 230.58,424.98 231.33,425.73 C232.08,426.48 232.50,427.41 233.11,428.47 C233.71,429.53 234.72,430.59 234.96,432.09 C235.19,433.60 234.59,435.68 234.51,437.49 C234.44,439.31 234.82,441.31 234.51,442.97 C234.20,444.64 233.72,446.28 232.66,447.48 C231.60,448.69 229.96,449.53 228.15,450.22 C226.33,450.91 223.91,451.36 221.78,451.63 C219.66,451.90 217.09,452.08 215.42,451.85 C213.76,451.62 212.55,451.10 211.79,450.22 Z" fill="#d6d6d6" stroke="#a4a4a4" stroke-width="0.6"/>
<path d="M215.05,448.24 C214.49,447.59 214.28,446.45 214.39,445.56 C214.50,444.66 215.42,443.77 215.70,442.87 C215.99,441.98 215.91,440.98 216.09,440.19 C216.26,439.41 216.74,439.06 216.74,438.16 C216.74,437.27 216.14,435.83 216.09,434.82 C216.03,433.82 215.97,432.82 216.41,432.14 C216.86,431.47 218.10,431.27 218.77,430.77 C219.44,430.27 219.69,429.63 220.41,429.13 C221.13,428.63 222.31,428.04 223.10,427.76 C223.88,427.48 224.39,427.26 225.12,427.43 C225.85,427.60 226.75,428.35 227.48,428.80 C228.21,429.25 228.95,429.56 229.50,430.11 C230.06,430.67 230.37,431.36 230.82,432.14 C231.26,432.93 232.01,433.71 232.19,434.82 C232.36,435.94 231.91,437.48 231.86,438.82 C231.80,440.16 232.09,441.64 231.86,442.87 C231.63,444.11 231.27,445.32 230.49,446.21 C229.70,447.11 228.49,447.73 227.15,448.24 C225.81,448.75 224.01,449.08 222.44,449.28 C220.87,449.48 218.96,449.62 217.73,449.45 C216.50,449.27 215.60,448.89 215.05,448.24 Z" fill="#d0d0d0" stroke="#a4a4a4" stroke-width="0.6"/>
<path d="M217.45,446.77 C217.04,446.29 216.88,445.45 216.97,444.79 C217.05,444.13 217.73,443.46 217.94,442.80 C218.15,442.14 218.09,441.40 218.22,440.82 C218.35,440.24 218.71,439.98 218.71,439.32 C218.71,438.66 218.26,437.59 218.22,436.85 C218.18,436.10 218.13,435.36 218.46,434.86 C218.80,434.36 219.71,434.22 220.21,433.85 C220.70,433.48 220.89,433.00 221.42,432.63 C221.96,432.26 222.83,431.83 223.41,431.62 C223.99,431.41 224.37,431.25 224.91,431.38 C225.45,431.50 226.11,432.06 226.65,432.39 C227.19,432.72 227.74,432.95 228.15,433.36 C228.56,433.77 228.79,434.28 229.12,434.86 C229.45,435.44 230.01,436.02 230.14,436.85 C230.26,437.67 229.93,438.81 229.89,439.80 C229.85,440.80 230.06,441.89 229.89,442.80 C229.72,443.71 229.46,444.61 228.88,445.27 C228.30,445.94 227.40,446.40 226.41,446.77 C225.41,447.15 224.08,447.40 222.92,447.54 C221.76,447.69 220.35,447.79 219.44,447.67 C218.53,447.54 217.86,447.25 217.45,446.77 Z" fill="#c9c9c9" stroke="#a4a4a4" stroke-width="0.6"/>
<path d="M219.23,445.69 C218.93,445.33 218.81,444.71 218.87,444.22 C218.93,443.73 219.44,443.24 219.59,442.75 C219.75,442.26 219.71,441.71 219.80,441.28 C219.90,440.85 220.16,440.66 220.16,440.17 C220.16,439.68 219.83,438.89 219.80,438.34 C219.77,437.79 219.74,437.24 219.98,436.87 C220.23,436.50 220.91,436.40 221.27,436.12 C221.64,435.85 221.78,435.50 222.17,435.22 C222.57,434.95 223.21,434.63 223.64,434.47 C224.07,434.32 224.35,434.20 224.75,434.29 C225.15,434.39 225.64,434.80 226.04,435.04 C226.44,435.29 226.84,435.46 227.15,435.76 C227.45,436.07 227.62,436.44 227.87,436.87 C228.11,437.30 228.52,437.73 228.62,438.34 C228.71,438.95 228.47,439.80 228.44,440.53 C228.41,441.27 228.56,442.08 228.44,442.75 C228.31,443.42 228.12,444.09 227.69,444.58 C227.26,445.07 226.59,445.41 225.86,445.69 C225.12,445.97 224.14,446.15 223.28,446.26 C222.42,446.37 221.38,446.44 220.70,446.35 C220.03,446.25 219.54,446.04 219.23,445.69 Z" fill="#c1c1c1" stroke="#a4a4a4" stroke-width="0.6"/>
<rect x="190.30" y="394.60" width="78.70" height="78.40" fill="none" stroke="#1a1a1a" stroke-width="1.1"/>
<rect x="199.50" y="407.00" width="46.60" height="28.80" fill="none" stroke="#222" stroke-width="1.1"/>
<text x="210.75" y="405.54" font-size="11.05" fill="#c8203a" stroke="#c8203a" stroke-width="0.12">25.6</text>
<text x="296.37" y="391.04" font-size="11.8" fill="#1a1a1a" stroke="#1a1a1a" stroke-width="0.12">MnLR</text>
<line x1="272.30" y1="398.60" x2="273.60" y2="398.60" stroke="#333" stroke-width="0.6"/>
<line x1="272.30" y1="404.02" x2="273.60" y2="404.02" stroke="#333" stroke-width="0.6"/>
<line x1="272.30" y1="409.43" x2="273.60" y2="409.43" stroke="#333" stroke-width="0.6"/>
<line x1="272.30" y1="414.85" x2="273.60" y2="414.85" stroke="#333" stroke-width="0.6"/>
<line x1="272.30" y1="420.26" x2="273.60" y2="420.26" stroke="#333" stroke-width="0.6"/>
<line x1="272.30" y1="425.68" x2="273.60" y2="425.68" stroke="#333" stroke-width="0.6"/>
<line x1="272.30" y1="431.09" x2="273.60" y2="431.09" stroke="#333" stroke-width="0.6"/>
<line x1="272.30" y1="436.51" x2="273.60" y2="436.51" stroke="#333" stroke-width="0.6"/>
<line x1="272.30" y1="441.92" x2="273.60" y2="441.92" stroke="#333" stroke-width="0.6"/>
<line x1="272.30" y1="447.34" x2="273.60" y2="447.34" stroke="#333" stroke-width="0.6"/>
<line x1="272.30" y1="452.75" x2="273.60" y2="452.75" stroke="#333" stroke-width="0.6"/>
<line x1="272.30" y1="458.17" x2="273.60" y2="458.17" stroke="#333" stroke-width="0.6"/>
<line x1="272.30" y1="463.58" x2="273.60" y2="463.58" stroke="#333" stroke-width="0.6"/>
<line x1="272.30" y1="469.00" x2="273.60" y2="469.00" stroke="#333" stroke-width="0.6"/>
<line x1="277.60" y1="473.00" x2="277.60" y2="474.30" stroke="#333" stroke-width="0.6"/>
<line x1="283.04" y1="473.00" x2="283.04" y2="474.30" stroke="#333" stroke-width="0.6"/>
<line x1="288.48" y1="473.00" x2="288.48" y2="474.30" stroke="#333" stroke-width="0.6"/>
<line x1="293.92" y1="473.00" x2="293.92" y2="474.30" stroke="#333" stroke-width="0.6"/>
<line x1="299.35" y1="473.00" x2="299.35" y2="474.30" stroke="#333" stroke-width="0.6"/>
<line x1="304.79" y1="473.00" x2="304.79" y2="474.30" stroke="#333" stroke-width="0.6"/>
<line x1="310.23" y1="473.00" x2="310.23" y2="474.30" stroke="#333" stroke-width="0.6"/>
<line x1="315.67" y1="473.00" x2="315.67" y2="474.30" stroke="#333" stroke-width="0.6"/>
<line x1="321.11" y1="473.00" x2="321.11" y2="474.30" stroke="#333" stroke-width="0.6"/>
<line x1="326.55" y1="473.00" x2="326.55" y2="474.30" stroke="#333" stroke-width="0.6"/>
<line x1="331.98" y1="473.00" x2="331.98" y2="474.30" stroke="#333" stroke-width="0.6"/>
<line x1="337.42" y1="473.00" x2="337.42" y2="474.30" stroke="#333" stroke-width="0.6"/>
<line x1="342.86" y1="473.00" x2="342.86" y2="474.30" stroke="#333" stroke-width="0.6"/>
<line x1="348.30" y1="473.00" x2="348.30" y2="474.30" stroke="#333" stroke-width="0.6"/>
<path d="M287.40,453.10 C286.80,452.07 288.48,451.12 289.30,450.00 C290.12,448.88 291.38,447.82 292.30,446.40 C293.22,444.98 294.18,443.75 294.80,441.50 C295.42,439.25 295.70,434.85 296.00,432.90 C296.30,430.95 295.68,430.52 296.60,429.80 C297.52,429.08 300.07,429.42 301.50,428.60 C302.93,427.78 303.77,425.82 305.20,424.90 C306.63,423.98 308.87,424.12 310.10,423.10 C311.33,422.08 311.68,419.83 312.60,418.80 C313.52,417.77 314.18,416.90 315.60,416.90 C317.02,416.90 319.67,417.77 321.10,418.80 C322.53,419.83 323.58,420.97 324.20,423.10 C324.82,425.23 324.48,428.95 324.80,431.60 C325.12,434.25 326.30,436.33 326.10,439.00 C325.90,441.67 324.63,445.15 323.60,447.60 C322.57,450.05 321.73,452.27 319.90,453.70 C318.07,455.13 315.45,455.68 312.60,456.20 C309.75,456.72 306.08,456.80 302.80,456.80 C299.52,456.80 295.47,456.82 292.90,456.20 C290.33,455.58 288.00,454.13 287.40,453.10 Z" fill="#dcdcdc" stroke="#7a7a7a" stroke-width="1.0"/>
<path d="M294.47,450.11 C294.03,449.35 295.27,448.64 295.88,447.82 C296.48,446.99 297.42,446.20 298.10,445.15 C298.78,444.10 299.49,443.19 299.95,441.53 C300.40,439.86 300.61,436.61 300.84,435.16 C301.06,433.72 300.60,433.40 301.28,432.87 C301.96,432.34 303.85,432.58 304.91,431.98 C305.97,431.38 306.58,429.92 307.64,429.24 C308.70,428.56 310.36,428.66 311.27,427.91 C312.18,427.16 312.44,425.49 313.12,424.73 C313.80,423.96 314.29,423.32 315.34,423.32 C316.39,423.32 318.35,423.96 319.41,424.73 C320.47,425.49 321.25,426.33 321.70,427.91 C322.16,429.49 321.91,432.24 322.15,434.20 C322.38,436.16 323.26,437.70 323.11,439.68 C322.96,441.65 322.02,444.23 321.26,446.04 C320.50,447.85 319.88,449.49 318.52,450.55 C317.17,451.61 315.23,452.02 313.12,452.40 C311.01,452.79 308.30,452.85 305.87,452.85 C303.44,452.85 300.44,452.86 298.54,452.40 C296.64,451.95 294.92,450.87 294.47,450.11 Z" fill="#d6d6d6" stroke="#a4a4a4" stroke-width="0.6"/>
<path d="M299.71,447.90 C299.38,447.33 300.30,446.81 300.75,446.20 C301.19,445.59 301.89,445.00 302.39,444.23 C302.89,443.45 303.42,442.78 303.76,441.55 C304.10,440.31 304.25,437.90 304.41,436.84 C304.58,435.77 304.24,435.53 304.74,435.14 C305.25,434.75 306.64,434.93 307.43,434.48 C308.21,434.03 308.67,432.96 309.45,432.46 C310.24,431.95 311.46,432.03 312.14,431.47 C312.81,430.91 313.00,429.68 313.50,429.11 C314.01,428.55 314.37,428.07 315.15,428.07 C315.92,428.07 317.37,428.55 318.16,429.11 C318.94,429.68 319.52,430.30 319.86,431.47 C320.19,432.64 320.01,434.67 320.19,436.12 C320.36,437.58 321.01,438.72 320.90,440.18 C320.79,441.64 320.09,443.54 319.53,444.89 C318.96,446.23 318.51,447.44 317.50,448.23 C316.50,449.01 315.07,449.31 313.50,449.59 C311.94,449.88 309.94,449.92 308.14,449.92 C306.34,449.92 304.12,449.93 302.72,449.59 C301.31,449.26 300.03,448.46 299.71,447.90 Z" fill="#d0d0d0" stroke="#a4a4a4" stroke-width="0.6"/>
<path d="M303.58,446.26 C303.33,445.84 304.02,445.46 304.35,445.00 C304.68,444.55 305.19,444.12 305.56,443.55 C305.93,442.97 306.33,442.47 306.58,441.56 C306.83,440.65 306.94,438.86 307.06,438.07 C307.18,437.28 306.93,437.11 307.31,436.82 C307.68,436.53 308.71,436.66 309.29,436.33 C309.87,436.00 310.21,435.20 310.79,434.83 C311.37,434.46 312.28,434.52 312.78,434.10 C313.28,433.69 313.42,432.78 313.79,432.36 C314.16,431.94 314.43,431.59 315.01,431.59 C315.58,431.59 316.65,431.94 317.23,432.36 C317.81,432.78 318.24,433.24 318.49,434.10 C318.74,434.97 318.60,436.47 318.73,437.55 C318.86,438.62 319.34,439.47 319.26,440.55 C319.18,441.63 318.67,443.04 318.25,444.03 C317.83,445.02 317.49,445.92 316.75,446.50 C316.00,447.08 314.94,447.31 313.79,447.52 C312.63,447.73 311.15,447.76 309.82,447.76 C308.49,447.76 306.85,447.77 305.81,447.52 C304.77,447.27 303.82,446.68 303.58,446.26 Z" fill="#c9c9c9" stroke="#a4a4a4" stroke-width="0.6"/>
<path d="M306.44,445.05 C306.26,444.74 306.77,444.45 307.01,444.12 C307.26,443.78 307.64,443.46 307.91,443.04 C308.19,442.61 308.48,442.24 308.66,441.57 C308.85,440.90 308.93,439.58 309.02,438.99 C309.11,438.41 308.93,438.28 309.20,438.06 C309.48,437.85 310.24,437.95 310.67,437.70 C311.10,437.46 311.35,436.87 311.78,436.59 C312.21,436.32 312.88,436.36 313.25,436.05 C313.62,435.75 313.73,435.07 314.00,434.76 C314.28,434.45 314.48,434.19 314.90,434.19 C315.32,434.19 316.12,434.45 316.55,434.76 C316.98,435.07 317.29,435.41 317.48,436.05 C317.66,436.69 317.56,437.81 317.66,438.60 C317.75,439.40 318.11,440.02 318.05,440.82 C317.99,441.62 317.61,442.66 317.30,443.40 C316.99,444.13 316.74,444.80 316.19,445.23 C315.64,445.66 314.85,445.82 314.00,445.98 C313.15,446.13 312.05,446.16 311.06,446.16 C310.08,446.16 308.86,446.16 308.09,445.98 C307.32,445.79 306.62,445.36 306.44,445.05 Z" fill="#c1c1c1" stroke="#a4a4a4" stroke-width="0.6"/>
<rect x="273.60" y="394.60" width="78.70" height="78.40" fill="none" stroke="#1a1a1a" stroke-width="1.1"/>
<rect x="282.80" y="407.00" width="46.60" height="28.80" fill="none" stroke="#222" stroke-width="1.1"/>
<text x="294.05" y="405.49" font-size="10.99" fill="#c8203a" stroke="#c8203a" stroke-width="0.12">26.4</text>
<text x="371.80" y="391.46" font-size="11.8" fill="#1a1a1a" stroke="#1a1a1a" stroke-width="0.12">MnLR/Gly</text>
<line x1="357.10" y1="398.60" x2="358.40" y2="398.60" stroke="#333" stroke-width="0.6"/>
<line x1="357.10" y1="404.02" x2="358.40" y2="404.02" stroke="#333" stroke-width="0.6"/>
<line x1="357.10" y1="409.43" x2="358.40" y2="409.43" stroke="#333" stroke-width="0.6"/>
<line x1="357.10" y1="414.85" x2="358.40" y2="414.85" stroke="#333" stroke-width="0.6"/>
<line x1="357.10" y1="420.26" x2="358.40" y2="420.26" stroke="#333" stroke-width="0.6"/>
<line x1="357.10" y1="425.68" x2="358.40" y2="425.68" stroke="#333" stroke-width="0.6"/>
<line x1="357.10" y1="431.09" x2="358.40" y2="431.09" stroke="#333" stroke-width="0.6"/>
<line x1="357.10" y1="436.51" x2="358.40" y2="436.51" stroke="#333" stroke-width="0.6"/>
<line x1="357.10" y1="441.92" x2="358.40" y2="441.92" stroke="#333" stroke-width="0.6"/>
<line x1="357.10" y1="447.34" x2="358.40" y2="447.34" stroke="#333" stroke-width="0.6"/>
<line x1="357.10" y1="452.75" x2="358.40" y2="452.75" stroke="#333" stroke-width="0.6"/>
<line x1="357.10" y1="458.17" x2="358.40" y2="458.17" stroke="#333" stroke-width="0.6"/>
<line x1="357.10" y1="463.58" x2="358.40" y2="463.58" stroke="#333" stroke-width="0.6"/>
<line x1="357.10" y1="469.00" x2="358.40" y2="469.00" stroke="#333" stroke-width="0.6"/>
<line x1="362.40" y1="473.00" x2="362.40" y2="474.30" stroke="#333" stroke-width="0.6"/>
<line x1="367.84" y1="473.00" x2="367.84" y2="474.30" stroke="#333" stroke-width="0.6"/>
<line x1="373.28" y1="473.00" x2="373.28" y2="474.30" stroke="#333" stroke-width="0.6"/>
<line x1="378.72" y1="473.00" x2="378.72" y2="474.30" stroke="#333" stroke-width="0.6"/>
<line x1="384.15" y1="473.00" x2="384.15" y2="474.30" stroke="#333" stroke-width="0.6"/>
<line x1="389.59" y1="473.00" x2="389.59" y2="474.30" stroke="#333" stroke-width="0.6"/>
<line x1="395.03" y1="473.00" x2="395.03" y2="474.30" stroke="#333" stroke-width="0.6"/>
<line x1="400.47" y1="473.00" x2="400.47" y2="474.30" stroke="#333" stroke-width="0.6"/>
<line x1="405.91" y1="473.00" x2="405.91" y2="474.30" stroke="#333" stroke-width="0.6"/>
<line x1="411.35" y1="473.00" x2="411.35" y2="474.30" stroke="#333" stroke-width="0.6"/>
<line x1="416.78" y1="473.00" x2="416.78" y2="474.30" stroke="#333" stroke-width="0.6"/>
<line x1="422.22" y1="473.00" x2="422.22" y2="474.30" stroke="#333" stroke-width="0.6"/>
<line x1="427.66" y1="473.00" x2="427.66" y2="474.30" stroke="#333" stroke-width="0.6"/>
<line x1="433.10" y1="473.00" x2="433.10" y2="474.30" stroke="#333" stroke-width="0.6"/>
<path d="M378.60,452.20 C378.18,450.98 378.18,447.33 379.20,446.10 C380.22,444.87 383.47,446.03 384.70,444.80 C385.93,443.57 386.48,440.73 386.60,438.70 C386.72,436.67 385.10,434.13 385.40,432.60 C385.70,431.07 387.50,430.53 388.40,429.50 C389.30,428.47 390.08,427.63 390.80,426.40 C391.52,425.17 391.77,423.22 392.70,422.10 C393.63,420.98 395.07,420.40 396.40,419.70 C397.73,419.00 399.78,418.62 400.70,417.90 C401.62,417.18 401.08,415.82 401.90,415.40 C402.72,414.98 404.48,414.88 405.60,415.40 C406.72,415.92 407.88,416.87 408.60,418.50 C409.32,420.13 409.68,422.65 409.90,425.20 C410.12,427.75 409.80,430.73 409.90,433.80 C410.00,436.87 410.92,440.95 410.50,443.60 C410.08,446.25 408.73,447.97 407.40,449.70 C406.07,451.43 404.13,453.28 402.50,454.00 C400.87,454.72 400.05,454.20 397.60,454.00 C395.15,453.80 390.45,453.30 387.80,452.80 C385.15,452.30 382.72,450.90 381.70,451.00 C380.68,451.10 382.22,453.20 381.70,453.40 C381.18,453.60 379.02,453.42 378.60,452.20 Z" fill="#dcdcdc" stroke="#7a7a7a" stroke-width="1.0"/>
<path d="M384.53,449.44 C384.22,448.54 384.22,445.84 384.97,444.93 C385.72,444.02 388.13,444.88 389.04,443.97 C389.95,443.06 390.36,440.96 390.45,439.45 C390.53,437.95 389.34,436.07 389.56,434.94 C389.78,433.81 391.11,433.41 391.78,432.65 C392.45,431.88 393.03,431.26 393.56,430.35 C394.09,429.44 394.27,428.00 394.96,427.17 C395.65,426.34 396.71,425.91 397.70,425.39 C398.69,424.88 400.20,424.59 400.88,424.06 C401.56,423.53 401.17,422.52 401.77,422.21 C402.37,421.90 403.68,421.83 404.51,422.21 C405.33,422.59 406.20,423.30 406.73,424.51 C407.26,425.71 407.53,427.58 407.69,429.46 C407.85,431.35 407.62,433.56 407.69,435.83 C407.76,438.10 408.44,441.12 408.13,443.08 C407.83,445.04 406.83,446.31 405.84,447.59 C404.85,448.88 403.42,450.25 402.21,450.78 C401.01,451.31 400.40,450.92 398.59,450.78 C396.77,450.63 393.30,450.26 391.34,449.89 C389.37,449.52 387.57,448.48 386.82,448.56 C386.07,448.63 387.20,450.18 386.82,450.33 C386.44,450.48 384.84,450.34 384.53,449.44 Z" fill="#d6d6d6" stroke="#a4a4a4" stroke-width="0.6"/>
<path d="M388.91,447.40 C388.69,446.74 388.69,444.74 389.24,444.06 C389.80,443.39 391.58,444.03 392.26,443.35 C392.93,442.68 393.23,441.13 393.30,440.01 C393.36,438.90 392.47,437.51 392.64,436.67 C392.80,435.83 393.79,435.54 394.28,434.97 C394.77,434.41 395.20,433.95 395.60,433.28 C395.99,432.60 396.12,431.53 396.64,430.92 C397.15,430.31 397.93,429.99 398.66,429.61 C399.39,429.22 400.51,429.01 401.02,428.62 C401.52,428.23 401.23,427.48 401.67,427.25 C402.12,427.02 403.09,426.97 403.70,427.25 C404.31,427.54 404.95,428.06 405.34,428.95 C405.74,429.84 405.94,431.22 406.05,432.62 C406.17,434.02 406.00,435.65 406.05,437.33 C406.11,439.01 406.61,441.24 406.38,442.70 C406.15,444.15 405.42,445.09 404.69,446.04 C403.96,446.98 402.90,448.00 402.00,448.39 C401.11,448.78 400.66,448.50 399.32,448.39 C397.98,448.28 395.40,448.01 393.95,447.73 C392.50,447.46 391.17,446.69 390.61,446.75 C390.06,446.80 390.90,447.95 390.61,448.06 C390.33,448.17 389.14,448.07 388.91,447.40 Z" fill="#d0d0d0" stroke="#a4a4a4" stroke-width="0.6"/>
<path d="M392.16,445.90 C391.99,445.40 391.99,443.92 392.40,443.42 C392.82,442.92 394.13,443.40 394.63,442.90 C395.13,442.40 395.36,441.25 395.40,440.42 C395.45,439.60 394.79,438.57 394.92,437.95 C395.04,437.33 395.77,437.12 396.13,436.70 C396.50,436.28 396.81,435.94 397.10,435.44 C397.40,434.94 397.50,434.15 397.87,433.70 C398.25,433.25 398.83,433.01 399.37,432.73 C399.91,432.44 400.74,432.29 401.12,432.00 C401.49,431.71 401.27,431.15 401.60,430.98 C401.93,430.81 402.65,430.77 403.10,430.98 C403.55,431.19 404.03,431.58 404.32,432.24 C404.61,432.90 404.76,433.92 404.84,434.95 C404.93,435.99 404.80,437.20 404.84,438.44 C404.88,439.68 405.26,441.34 405.09,442.41 C404.92,443.48 404.37,444.18 403.83,444.88 C403.29,445.58 402.51,446.33 401.85,446.62 C401.18,446.92 400.85,446.71 399.86,446.62 C398.87,446.54 396.96,446.34 395.89,446.14 C394.82,445.94 393.83,445.37 393.42,445.41 C393.01,445.45 393.63,446.30 393.42,446.38 C393.21,446.46 392.33,446.39 392.16,445.90 Z" fill="#c9c9c9" stroke="#a4a4a4" stroke-width="0.6"/>
<path d="M394.56,444.78 C394.44,444.41 394.44,443.32 394.74,442.95 C395.05,442.58 396.02,442.93 396.39,442.56 C396.76,442.19 396.93,441.34 396.96,440.73 C397.00,440.12 396.51,439.36 396.60,438.90 C396.69,438.44 397.23,438.28 397.50,437.97 C397.77,437.66 398.01,437.41 398.22,437.04 C398.44,436.67 398.51,436.09 398.79,435.75 C399.07,435.42 399.50,435.24 399.90,435.03 C400.30,434.82 400.92,434.71 401.19,434.49 C401.46,434.28 401.31,433.87 401.55,433.74 C401.79,433.62 402.32,433.59 402.66,433.74 C402.99,433.90 403.34,434.18 403.56,434.67 C403.77,435.16 403.88,435.92 403.95,436.68 C404.01,437.45 403.92,438.34 403.95,439.26 C403.98,440.18 404.25,441.41 404.13,442.20 C404.00,442.99 403.60,443.51 403.20,444.03 C402.80,444.55 402.22,445.10 401.73,445.32 C401.24,445.53 401.00,445.38 400.26,445.32 C399.53,445.26 398.12,445.11 397.32,444.96 C396.53,444.81 395.80,444.39 395.49,444.42 C395.19,444.45 395.65,445.08 395.49,445.14 C395.34,445.20 394.69,445.14 394.56,444.78 Z" fill="#c1c1c1" stroke="#a4a4a4" stroke-width="0.6"/>
<rect x="358.40" y="394.60" width="78.70" height="78.40" fill="none" stroke="#1a1a1a" stroke-width="1.1"/>
<rect x="367.60" y="407.00" width="46.60" height="28.80" fill="none" stroke="#222" stroke-width="1.1"/>
<text x="378.85" y="405.49" font-size="10.99" fill="#c8203a" stroke="#c8203a" stroke-width="0.12">29.4</text>
<text x="8.34" y="423.77" font-size="11.48" fill="#1a1a1a" stroke="#1a1a1a" stroke-width="0.12" transform="rotate(-90 8.34 423.77)">CD83</text>
<text x="18.30" y="401.00" font-size="7.6" text-anchor="middle" fill="#2a2a2a" stroke="#2a2a2a" stroke-width="0.16" transform="rotate(-90 18.30 401.00)">10<tspan font-size="4.8" dy="-2.7">5</tspan></text>
<text x="18.30" y="441.00" font-size="7.6" text-anchor="middle" fill="#2a2a2a" stroke="#2a2a2a" stroke-width="0.16" transform="rotate(-90 18.30 441.00)">10<tspan font-size="4.8" dy="-2.7">3</tspan></text>
<text x="23.40" y="481.00" font-size="7.6" text-anchor="middle" fill="#2a2a2a" stroke="#2a2a2a" stroke-width="0.16">10<tspan font-size="4.8" dy="-2.7">4</tspan></text>
<text x="61.70" y="481.00" font-size="7.6" text-anchor="middle" fill="#2a2a2a" stroke="#2a2a2a" stroke-width="0.16">10<tspan font-size="4.8" dy="-2.7">5</tspan></text>
<line x1="4.50" y1="431.50" x2="4.50" y2="486.00" stroke="#1a1a1a" stroke-width="1"/>
<polygon points="4.5,429.6 2.7,434 6.3,434" fill="#1a1a1a"/>
<line x1="4.50" y1="486.00" x2="388.50" y2="486.00" stroke="#1a1a1a" stroke-width="1"/>
<polygon points="391,486 386.5,484.2 386.5,487.8" fill="#1a1a1a"/>
<text x="400.87" y="490.67" font-size="11.68" fill="#1a1a1a" stroke="#1a1a1a" stroke-width="0.12">FSC-A</text>
<text x="438.55" y="216.30" font-size="16.5" font-weight="bold" fill="#000">f</text>
<polygon points="462.00,209.66 458.80,215.23 465.20,215.23" fill="#c4c4c4"/>
<text x="467.73" y="216.30" font-size="11.5" fill="#1a1a1a" stroke="#1a1a1a" stroke-width="0.12">Ctrl</text>
<polygon points="495.00,209.66 491.80,215.23 498.20,215.23" fill="#7a5ca8"/>
<text x="498.78" y="216.30" font-size="11.5" fill="#1a1a1a" stroke="#1a1a1a" stroke-width="0.12">Reuterin</text>
<polygon points="550.00,209.66 546.80,215.23 553.20,215.23" fill="#4aa3b3"/>
<text x="553.98" y="216.30" font-size="11.5" fill="#1a1a1a" stroke="#1a1a1a" stroke-width="0.12">Mn2</text>
<polygon points="585.50,209.66 582.30,215.23 588.70,215.23" fill="#dcb4e2"/>
<text x="590.38" y="216.30" font-size="11.5" fill="#1a1a1a" stroke="#1a1a1a" stroke-width="0.12">MnLR</text>
<polygon points="629.20,209.66 626.00,215.23 632.40,215.23" fill="#ec7d6c"/>
<text x="633.38" y="216.30" font-size="11.5" fill="#1a1a1a" stroke="#1a1a1a" stroke-width="0.12">MnLR/Gly</text>
<text x="577.00" y="211.60" font-size="7.2" fill="#1a1a1a" stroke="#1a1a1a" stroke-width="0.16">+</text>
<line x1="496.00" y1="224.00" x2="496.00" y2="333.10" stroke="#1a1a1a" stroke-width="1.1"/>
<line x1="495.50" y1="332.60" x2="685.00" y2="332.60" stroke="#1a1a1a" stroke-width="1.1"/>
<line x1="492.50" y1="242.00" x2="496.00" y2="242.00" stroke="#1a1a1a" stroke-width="1"/>
<text x="490.80" y="246.10" font-size="11.6" text-anchor="end" fill="#1a1a1a" stroke="#1a1a1a" stroke-width="0.12">100</text>
<line x1="492.50" y1="287.30" x2="496.00" y2="287.30" stroke="#1a1a1a" stroke-width="1"/>
<text x="490.80" y="291.40" font-size="11.6" text-anchor="end" fill="#1a1a1a" stroke="#1a1a1a" stroke-width="0.12">50</text>
<line x1="492.50" y1="332.60" x2="496.00" y2="332.60" stroke="#1a1a1a" stroke-width="1"/>
<text x="490.80" y="336.70" font-size="11.6" text-anchor="end" fill="#1a1a1a" stroke="#1a1a1a" stroke-width="0.12">0</text>
<line x1="493.70" y1="264.65" x2="496.00" y2="264.65" stroke="#1a1a1a" stroke-width="1"/>
<line x1="493.70" y1="309.95" x2="496.00" y2="309.95" stroke="#1a1a1a" stroke-width="1"/>
<line x1="541.00" y1="332.60" x2="541.00" y2="335.90" stroke="#1a1a1a" stroke-width="1"/>
<line x1="638.00" y1="332.60" x2="638.00" y2="335.90" stroke="#1a1a1a" stroke-width="1"/>
<text x="464.64" y="333.28" font-size="11.51" fill="#1a1a1a" stroke="#1a1a1a" stroke-width="0.12" transform="rotate(-90 464.64 333.28)">Concentration (pg/ml)</text>
<text x="528.25" y="350.48" font-size="11.68" fill="#1a1a1a" stroke="#1a1a1a" stroke-width="0.12">IL-12</text>
<text x="628.09" y="349.40" font-size="10.29" fill="#1a1a1a" stroke="#1a1a1a" stroke-width="0.12">TNF</text>
<polygon points="503.50,271.30 501.30,275.13 505.70,275.13" fill="#c4c4c4"/>
<polygon points="508.00,271.30 505.80,275.13 510.20,275.13" fill="#c4c4c4"/>
<polygon points="512.50,271.30 510.30,275.13 514.70,275.13" fill="#c4c4c4"/>
<line x1="502.00" y1="273.60" x2="514.00" y2="273.60" stroke="#1a1a1a" stroke-width="0.9"/>
<polygon points="525.00,254.29 522.40,258.81 527.60,258.81" fill="#7a5ca8"/>
<polygon points="525.00,262.29 522.40,266.81 527.60,266.81" fill="#7a5ca8"/>
<polygon points="525.00,266.89 522.40,271.41 527.60,271.41" fill="#7a5ca8"/>
<line x1="525.00" y1="256.50" x2="525.00" y2="270.00" stroke="#7a5ca8" stroke-width="1"/>
<line x1="521.00" y1="256.50" x2="529.00" y2="256.50" stroke="#7a5ca8" stroke-width="1"/>
<line x1="521.00" y1="270.00" x2="529.00" y2="270.00" stroke="#7a5ca8" stroke-width="1"/>
<line x1="519.00" y1="263.40" x2="531.00" y2="263.40" stroke="#1a1a1a" stroke-width="1.0"/>
<polygon points="537.00,258.30 534.80,262.13 539.20,262.13" fill="#4aa3b3"/>
<polygon points="541.50,258.30 539.30,262.13 543.70,262.13" fill="#4aa3b3"/>
<polygon points="546.00,258.30 543.80,262.13 548.20,262.13" fill="#4aa3b3"/>
<line x1="535.50" y1="260.60" x2="547.50" y2="260.60" stroke="#1a1a1a" stroke-width="0.9"/>
<polygon points="554.50,257.70 552.30,261.53 556.70,261.53" fill="#dcb4e2"/>
<polygon points="559.00,257.70 556.80,261.53 561.20,261.53" fill="#dcb4e2"/>
<polygon points="563.50,257.70 561.30,261.53 565.70,261.53" fill="#dcb4e2"/>
<line x1="553.00" y1="260.00" x2="565.00" y2="260.00" stroke="#1a1a1a" stroke-width="0.9"/>
<polygon points="571.50,241.90 569.30,245.73 573.70,245.73" fill="#ec7d6c"/>
<polygon points="576.00,241.90 573.80,245.73 578.20,245.73" fill="#ec7d6c"/>
<polygon points="580.50,241.90 578.30,245.73 582.70,245.73" fill="#ec7d6c"/>
<line x1="570.00" y1="244.20" x2="582.00" y2="244.20" stroke="#1a1a1a" stroke-width="0.9"/>
<polygon points="599.50,290.30 597.30,294.13 601.70,294.13" fill="#c4c4c4"/>
<polygon points="604.00,290.30 601.80,294.13 606.20,294.13" fill="#c4c4c4"/>
<polygon points="608.50,290.30 606.30,294.13 610.70,294.13" fill="#c4c4c4"/>
<line x1="598.00" y1="292.60" x2="610.00" y2="292.60" stroke="#1a1a1a" stroke-width="0.9"/>
<polygon points="616.50,288.70 614.30,292.53 618.70,292.53" fill="#7a5ca8"/>
<polygon points="621.00,288.70 618.80,292.53 623.20,292.53" fill="#7a5ca8"/>
<polygon points="625.50,288.70 623.30,292.53 627.70,292.53" fill="#7a5ca8"/>
<line x1="615.00" y1="291.00" x2="627.00" y2="291.00" stroke="#1a1a1a" stroke-width="0.9"/>
<polygon points="633.50,288.70 631.30,292.53 635.70,292.53" fill="#4aa3b3"/>
<polygon points="638.00,288.70 635.80,292.53 640.20,292.53" fill="#4aa3b3"/>
<polygon points="642.50,288.70 640.30,292.53 644.70,292.53" fill="#4aa3b3"/>
<line x1="632.00" y1="291.00" x2="644.00" y2="291.00" stroke="#1a1a1a" stroke-width="0.9"/>
<polygon points="650.50,281.30 648.30,285.13 652.70,285.13" fill="#dcb4e2"/>
<polygon points="655.00,281.30 652.80,285.13 657.20,285.13" fill="#dcb4e2"/>
<polygon points="659.50,281.30 657.30,285.13 661.70,285.13" fill="#dcb4e2"/>
<line x1="649.00" y1="283.60" x2="661.00" y2="283.60" stroke="#1a1a1a" stroke-width="0.9"/>
<polygon points="667.50,269.70 665.30,273.53 669.70,273.53" fill="#ec7d6c"/>
<polygon points="672.00,269.70 669.80,273.53 674.20,273.53" fill="#ec7d6c"/>
<polygon points="676.50,269.70 674.30,273.53 678.70,273.53" fill="#ec7d6c"/>
<line x1="666.00" y1="272.00" x2="678.00" y2="272.00" stroke="#1a1a1a" stroke-width="0.9"/>
<polyline points="505.40,253.20 505.40,250.00 524.60,250.00 524.60,253.20" fill="none" stroke="#1a1a1a" stroke-width="0.9"/>
<text x="515.00" y="249.30" font-size="6.8" text-anchor="middle" fill="#1a1a1a" stroke="#1a1a1a" stroke-width="0.16">0.0081</text>
<polyline points="505.40,242.60 505.40,239.40 541.00,239.40 541.00,242.60" fill="none" stroke="#1a1a1a" stroke-width="0.9"/>
<text x="523.20" y="238.70" font-size="6.8" text-anchor="middle" fill="#1a1a1a" stroke="#1a1a1a" stroke-width="0.16">0.0013</text>
<polyline points="505.40,232.60 505.40,229.40 555.60,229.40 555.60,232.60" fill="none" stroke="#1a1a1a" stroke-width="0.9"/>
<text x="530.50" y="228.70" font-size="6.8" text-anchor="middle" fill="#1a1a1a" stroke="#1a1a1a" stroke-width="0.16">0.0010</text>
<polyline points="559.60,232.60 559.60,229.40 575.40,229.40 575.40,232.60" fill="none" stroke="#1a1a1a" stroke-width="0.9"/>
<text x="567.50" y="228.70" font-size="6.8" text-anchor="middle" fill="#1a1a1a" stroke="#1a1a1a" stroke-width="0.16">&lt;0.0001</text>
<polyline points="604.40,283.80 604.40,280.60 621.60,280.60 621.60,283.80" fill="none" stroke="#1a1a1a" stroke-width="0.9"/>
<text x="613.00" y="278.10" font-size="6.8" text-anchor="middle" fill="#1a1a1a" stroke="#1a1a1a" stroke-width="0.16">0.0388</text>
<polyline points="604.40,269.80 604.40,266.60 639.40,266.60 639.40,269.80" fill="none" stroke="#1a1a1a" stroke-width="0.9"/>
<text x="621.90" y="265.30" font-size="6.8" text-anchor="middle" fill="#1a1a1a" stroke="#1a1a1a" stroke-width="0.16">0.0210</text>
<polyline points="604.40,259.80 604.40,256.60 652.40,256.60 652.40,259.80" fill="none" stroke="#1a1a1a" stroke-width="0.9"/>
<text x="628.40" y="255.30" font-size="6.8" text-anchor="middle" fill="#1a1a1a" stroke="#1a1a1a" stroke-width="0.16">&lt;0.0001</text>
<polyline points="658.60,259.80 658.60,256.60 673.60,256.60 673.60,259.80" fill="none" stroke="#1a1a1a" stroke-width="0.9"/>
<text x="666.10" y="255.30" font-size="6.8" text-anchor="middle" fill="#1a1a1a" stroke="#1a1a1a" stroke-width="0.16">&lt;0.0001</text>
<text x="438.64" y="367.10" font-size="16.5" font-weight="bold" fill="#000">g</text>
<line x1="495.60" y1="375.00" x2="495.60" y2="484.50" stroke="#1a1a1a" stroke-width="1.1"/>
<line x1="495.10" y1="484.00" x2="685.00" y2="484.00" stroke="#1a1a1a" stroke-width="1.1"/>
<line x1="492.10" y1="376.00" x2="495.60" y2="376.00" stroke="#1a1a1a" stroke-width="1"/>
<text x="490.40" y="380.10" font-size="11.6" text-anchor="end" fill="#1a1a1a" stroke="#1a1a1a" stroke-width="0.12">400</text>
<line x1="492.10" y1="430.00" x2="495.60" y2="430.00" stroke="#1a1a1a" stroke-width="1"/>
<text x="490.40" y="434.10" font-size="11.6" text-anchor="end" fill="#1a1a1a" stroke="#1a1a1a" stroke-width="0.12">200</text>
<line x1="492.10" y1="484.00" x2="495.60" y2="484.00" stroke="#1a1a1a" stroke-width="1"/>
<text x="490.40" y="488.10" font-size="11.6" text-anchor="end" fill="#1a1a1a" stroke="#1a1a1a" stroke-width="0.12">0</text>
<line x1="493.30" y1="403.00" x2="495.60" y2="403.00" stroke="#1a1a1a" stroke-width="1"/>
<line x1="493.30" y1="457.00" x2="495.60" y2="457.00" stroke="#1a1a1a" stroke-width="1"/>
<line x1="541.20" y1="484.00" x2="541.20" y2="487.30" stroke="#1a1a1a" stroke-width="1"/>
<line x1="638.00" y1="484.00" x2="638.00" y2="487.30" stroke="#1a1a1a" stroke-width="1"/>
<text x="464.64" y="485.28" font-size="11.51" fill="#1a1a1a" stroke="#1a1a1a" stroke-width="0.12" transform="rotate(-90 464.64 485.28)">Concentration (pg/ml)</text>
<text x="527.81" y="501.74" font-size="12.06" fill="#1a1a1a" stroke="#1a1a1a" stroke-width="0.12">IL-12</text>
<text x="627.78" y="500.80" font-size="10.88" fill="#1a1a1a" stroke="#1a1a1a" stroke-width="0.12">TNF</text>
<polygon points="508.00,439.89 505.40,444.41 510.60,444.41" fill="#c4c4c4"/>
<polygon points="505.00,446.89 502.40,451.41 507.60,451.41" fill="#c4c4c4"/>
<polygon points="511.50,445.79 508.90,450.31 514.10,450.31" fill="#c4c4c4"/>
<line x1="508.00" y1="443.00" x2="508.00" y2="449.60" stroke="#c4c4c4" stroke-width="1"/>
<line x1="504.50" y1="443.00" x2="511.50" y2="443.00" stroke="#c4c4c4" stroke-width="1"/>
<line x1="504.50" y1="449.60" x2="511.50" y2="449.60" stroke="#c4c4c4" stroke-width="1"/>
<line x1="502.00" y1="446.40" x2="514.00" y2="446.40" stroke="#1a1a1a" stroke-width="1.0"/>
<polygon points="520.50,438.70 518.30,442.53 522.70,442.53" fill="#7a5ca8"/>
<polygon points="525.00,438.70 522.80,442.53 527.20,442.53" fill="#7a5ca8"/>
<polygon points="529.50,438.70 527.30,442.53 531.70,442.53" fill="#7a5ca8"/>
<line x1="519.00" y1="441.00" x2="531.00" y2="441.00" stroke="#1a1a1a" stroke-width="0.9"/>
<polygon points="538.50,429.69 535.90,434.21 541.10,434.21" fill="#4aa3b3"/>
<polygon points="541.50,437.29 538.90,441.81 544.10,441.81" fill="#4aa3b3"/>
<polygon points="545.50,435.29 542.90,439.81 548.10,439.81" fill="#4aa3b3"/>
<line x1="541.50" y1="432.40" x2="541.50" y2="440.00" stroke="#4aa3b3" stroke-width="1"/>
<line x1="537.50" y1="432.40" x2="545.50" y2="432.40" stroke="#4aa3b3" stroke-width="1"/>
<line x1="537.50" y1="440.00" x2="545.50" y2="440.00" stroke="#4aa3b3" stroke-width="1"/>
<line x1="535.50" y1="436.40" x2="547.50" y2="436.40" stroke="#1a1a1a" stroke-width="1.0"/>
<polygon points="559.00,408.89 556.40,413.41 561.60,413.41" fill="#dcb4e2"/>
<polygon points="559.00,414.29 556.40,418.81 561.60,418.81" fill="#dcb4e2"/>
<polygon points="559.00,419.29 556.40,423.81 561.60,423.81" fill="#dcb4e2"/>
<line x1="559.00" y1="411.60" x2="559.00" y2="422.40" stroke="#dcb4e2" stroke-width="1"/>
<line x1="555.00" y1="411.60" x2="563.00" y2="411.60" stroke="#dcb4e2" stroke-width="1"/>
<line x1="555.00" y1="422.40" x2="563.00" y2="422.40" stroke="#dcb4e2" stroke-width="1"/>
<line x1="553.00" y1="417.40" x2="565.00" y2="417.40" stroke="#1a1a1a" stroke-width="1.0"/>
<polygon points="574.00,400.89 571.40,405.41 576.60,405.41" fill="#ec7d6c"/>
<polygon points="578.00,405.29 575.40,409.81 580.60,409.81" fill="#ec7d6c"/>
<polygon points="576.00,407.29 573.40,411.81 578.60,411.81" fill="#ec7d6c"/>
<line x1="576.00" y1="403.60" x2="576.00" y2="409.50" stroke="#ec7d6c" stroke-width="1"/>
<line x1="572.00" y1="403.60" x2="580.00" y2="403.60" stroke="#ec7d6c" stroke-width="1"/>
<line x1="572.00" y1="409.50" x2="580.00" y2="409.50" stroke="#ec7d6c" stroke-width="1"/>
<line x1="570.00" y1="406.40" x2="582.00" y2="406.40" stroke="#1a1a1a" stroke-width="1.0"/>
<polygon points="604.00,458.29 601.40,462.81 606.60,462.81" fill="#c4c4c4"/>
<polygon points="601.00,469.29 598.40,473.81 603.60,473.81" fill="#c4c4c4"/>
<polygon points="607.50,468.29 604.90,472.81 610.10,472.81" fill="#c4c4c4"/>
<line x1="604.00" y1="460.50" x2="604.00" y2="472.50" stroke="#c4c4c4" stroke-width="1"/>
<line x1="600.00" y1="460.50" x2="608.00" y2="460.50" stroke="#c4c4c4" stroke-width="1"/>
<line x1="600.00" y1="472.50" x2="608.00" y2="472.50" stroke="#c4c4c4" stroke-width="1"/>
<line x1="598.00" y1="468.00" x2="610.00" y2="468.00" stroke="#1a1a1a" stroke-width="1.0"/>
<polygon points="621.00,433.29 618.40,437.81 623.60,437.81" fill="#7a5ca8"/>
<polygon points="617.00,443.79 614.40,448.31 619.60,448.31" fill="#7a5ca8"/>
<polygon points="625.00,443.79 622.40,448.31 627.60,448.31" fill="#7a5ca8"/>
<line x1="621.00" y1="436.00" x2="621.00" y2="446.50" stroke="#7a5ca8" stroke-width="1"/>
<line x1="617.00" y1="436.00" x2="625.00" y2="436.00" stroke="#7a5ca8" stroke-width="1"/>
<line x1="617.00" y1="446.50" x2="625.00" y2="446.50" stroke="#7a5ca8" stroke-width="1"/>
<line x1="615.00" y1="443.00" x2="627.00" y2="443.00" stroke="#1a1a1a" stroke-width="1.0"/>
<polygon points="633.50,458.70 631.30,462.53 635.70,462.53" fill="#4aa3b3"/>
<polygon points="638.00,458.70 635.80,462.53 640.20,462.53" fill="#4aa3b3"/>
<polygon points="642.50,458.70 640.30,462.53 644.70,462.53" fill="#4aa3b3"/>
<polygon points="650.50,444.70 648.30,448.53 652.70,448.53" fill="#dcb4e2"/>
<polygon points="655.00,444.70 652.80,448.53 657.20,448.53" fill="#dcb4e2"/>
<polygon points="659.50,444.70 657.30,448.53 661.70,448.53" fill="#dcb4e2"/>
<line x1="649.00" y1="447.00" x2="661.00" y2="447.00" stroke="#1a1a1a" stroke-width="0.9"/>
<polygon points="672.00,406.29 669.40,410.81 674.60,410.81" fill="#ec7d6c"/>
<polygon points="672.00,416.29 669.40,420.81 674.60,420.81" fill="#ec7d6c"/>
<polygon points="672.00,428.29 669.40,432.81 674.60,432.81" fill="#ec7d6c"/>
<line x1="672.00" y1="408.50" x2="672.00" y2="431.50" stroke="#ec7d6c" stroke-width="1"/>
<line x1="668.00" y1="408.50" x2="676.00" y2="408.50" stroke="#ec7d6c" stroke-width="1"/>
<line x1="668.00" y1="431.50" x2="676.00" y2="431.50" stroke="#ec7d6c" stroke-width="1"/>
<line x1="666.00" y1="419.40" x2="678.00" y2="419.40" stroke="#1a1a1a" stroke-width="1.0"/>
<polyline points="504.60,426.50 504.60,423.00 540.40,423.00 540.40,426.50" fill="none" stroke="#1a1a1a" stroke-width="0.9"/>
<text x="522.50" y="421.10" font-size="6.8" text-anchor="middle" fill="#1a1a1a" stroke="#1a1a1a" stroke-width="0.16">0.0398</text>
<polyline points="504.60,407.90 504.60,404.40 557.40,404.40 557.40,407.90" fill="none" stroke="#1a1a1a" stroke-width="0.9"/>
<text x="531.00" y="402.70" font-size="6.8" text-anchor="middle" fill="#1a1a1a" stroke="#1a1a1a" stroke-width="0.16">&lt;0.0001</text>
<polyline points="504.60,394.90 504.60,391.40 575.40,391.40 575.40,394.90" fill="none" stroke="#1a1a1a" stroke-width="0.9"/>
<text x="540.00" y="389.70" font-size="6.8" text-anchor="middle" fill="#1a1a1a" stroke="#1a1a1a" stroke-width="0.16">&lt;0.0001</text>
<polyline points="603.60,430.90 603.60,427.40 621.00,427.40 621.00,430.90" fill="none" stroke="#1a1a1a" stroke-width="0.9"/>
<text x="612.30" y="425.50" font-size="6.8" text-anchor="middle" fill="#1a1a1a" stroke="#1a1a1a" stroke-width="0.16">0.0042</text>
<polyline points="603.60,417.10 603.60,413.60 654.00,413.60 654.00,417.10" fill="none" stroke="#1a1a1a" stroke-width="0.9"/>
<text x="628.80" y="411.70" font-size="6.8" text-anchor="middle" fill="#1a1a1a" stroke="#1a1a1a" stroke-width="0.16">0.0135</text>
<polyline points="603.60,403.50 603.60,400.00 672.40,400.00 672.40,403.50" fill="none" stroke="#1a1a1a" stroke-width="0.9"/>
<text x="638.00" y="398.50" font-size="6.8" text-anchor="middle" fill="#1a1a1a" stroke="#1a1a1a" stroke-width="0.16">&lt;0.0001</text>
<defs>
<filter id="blur1" x="-30%" y="-80%" width="160%" height="260%"><feGaussianBlur stdDeviation="1.6 1.3"/></filter>
<filter id="blur2" x="-30%" y="-80%" width="160%" height="260%"><feGaussianBlur stdDeviation="2.2 1.6"/></filter>
<filter id="blur3" x="-40%" y="-80%" width="180%" height="260%"><feGaussianBlur stdDeviation="3 2.5"/></filter>
<linearGradient id="wbh" x1="0" y1="0" x2="0" y2="1">
<stop offset="0" stop-color="#d9d9d9"/><stop offset="0.5" stop-color="#d3d3d3"/><stop offset="0.82" stop-color="#d0d0d0"/><stop offset="0.86" stop-color="#e2e2e2"/><stop offset="1" stop-color="#e4e4e4"/></linearGradient>
<linearGradient id="wbi" x1="0" y1="0" x2="0" y2="1">
<stop offset="0" stop-color="#d6d6d6"/><stop offset="0.5" stop-color="#cfcfcf"/><stop offset="0.52" stop-color="#dcdcdc"/><stop offset="1" stop-color="#d2d2d2"/></linearGradient>
<clipPath id="cph"><rect x="61.3" y="546.0" width="142.4" height="65.0"/></clipPath>
<clipPath id="cpi"><rect x="61.3" y="707.0" width="142.4" height="65.0"/></clipPath>
</defs>
<text x="37.04" y="530.70" font-size="16.5" font-weight="bold" fill="#000">h</text>
<line x1="21.70" y1="546.60" x2="21.70" y2="610.30" stroke="#1a1a1a" stroke-width="1"/>
<text x="7.85" y="608.40" font-size="10.79" fill="#1a1a1a" stroke="#1a1a1a" stroke-width="0.12" transform="rotate(-90 7.85 608.40)">mBMDCs</text>
<text x="28.36" y="566.55" font-size="11.79" fill="#1a1a1a" stroke="#1a1a1a" stroke-width="0.12">P-p38</text>
<text x="22.87" y="596.66" font-size="11.25" fill="#1a1a1a" stroke="#1a1a1a" stroke-width="0.12">Tubulin</text>
<g clip-path="url(#cph)">
<rect x="61.20" y="546.00" width="142.60" height="65.00" fill="#d2d2d2" stroke="none" stroke-width="1"/>
<rect x="61.20" y="544.00" width="142.60" height="9.00" fill="#e2e2e2" stroke="none" stroke-width="1" filter="url(#blur2)"/>
<rect x="66" y="549" width="42" height="50" fill="#c6c6c6" opacity="0.8" filter="url(#blur3)"/>
<rect x="113" y="549" width="40" height="50" fill="#c6c6c6" opacity="0.8" filter="url(#blur3)"/>
<rect x="159" y="549" width="43" height="50" fill="#c6c6c6" opacity="0.8" filter="url(#blur3)"/>
<rect x="108" y="548" width="5" height="52" fill="#dcdcdc" opacity="0.9" filter="url(#blur2)"/>
<rect x="153" y="548" width="6" height="52" fill="#dcdcdc" opacity="0.9" filter="url(#blur2)"/>
<rect x="61.20" y="600.20" width="142.60" height="12.00" fill="#e2e2e2" stroke="none" stroke-width="1"/>
<line x1="61.20" y1="600.40" x2="203.80" y2="600.40" stroke="#d0d0d0" stroke-width="0.8"/>
<rect x="70.0" y="556.5" width="36.0" height="12.0" rx="6.0" fill="#a8a8a8" opacity="0.7" filter="url(#blur3)"/>
<rect x="115.0" y="554.2" width="36.0" height="15.0" rx="7.5" fill="#8a8a8a" opacity="0.7" filter="url(#blur3)"/>
<rect x="161.0" y="555.5" width="38.0" height="12.0" rx="6.0" fill="#999" opacity="0.7" filter="url(#blur3)"/>
<rect x="69.0" y="584.5" width="37.0" height="13.0" rx="6.5" fill="#999" opacity="0.7" filter="url(#blur3)"/>
<rect x="116.0" y="585.7" width="34.0" height="11.0" rx="5.5" fill="#aaa" opacity="0.7" filter="url(#blur3)"/>
<rect x="161.0" y="584.0" width="38.0" height="13.0" rx="6.5" fill="#999" opacity="0.7" filter="url(#blur3)"/>
<rect x="72.5" y="559.5" width="31.0" height="6.2" rx="3.1" fill="#303030" opacity="0.92" filter="url(#blur1)"/>
<rect x="117.0" y="556.5" width="32.5" height="10.5" rx="5.2" fill="#000" opacity="1" filter="url(#blur1)"/>
<path d="M163.5,559 Q180,556.5 197.5,557.2 Q199,560 197.5,562 Q180,563.5 163.5,566 Q162,562.5 163.5,559 Z" fill="#101010" filter="url(#blur1)"/>
<rect x="71.0" y="586.9" width="32.5" height="7.6" rx="3.8" fill="#000" opacity="1" filter="url(#blur1)"/>
<rect x="118.0" y="588.5" width="30.0" height="5.5" rx="2.8" fill="#101010" opacity="1" filter="url(#blur1)"/>
<rect x="162.7" y="586.6" width="34.3" height="7.8" rx="3.9" fill="#000" opacity="1" filter="url(#blur1)"/>
</g>
<line x1="61.40" y1="577.40" x2="203.80" y2="577.40" stroke="#3e3030" stroke-width="1.4" stroke-dasharray="4.3,3.55"/>
<line x1="205.10" y1="547.70" x2="211.90" y2="547.70" stroke="#4a4444" stroke-width="1.1"/>
<line x1="205.90" y1="590.00" x2="212.50" y2="590.00" stroke="#4a4444" stroke-width="1.1"/>
<text x="215.97" y="552.90" font-size="11.28" fill="#1a1a1a" stroke="#1a1a1a" stroke-width="0.12">40</text>
<text x="212.08" y="563.35" font-size="11.53" fill="#1a1a1a" stroke="#1a1a1a" stroke-width="0.12">KDa</text>
<text x="217.94" y="596.27" font-size="11.55" fill="#1a1a1a" stroke="#1a1a1a" stroke-width="0.12">55</text>
<text x="212.89" y="608.21" font-size="11.31" fill="#1a1a1a" stroke="#1a1a1a" stroke-width="0.12">KDa</text>
<text x="91.50" y="623.50" font-size="11.6" text-anchor="end" fill="#1a1a1a" stroke="#1a1a1a" stroke-width="0.12" transform="rotate(-31 91.50 623.50)">Ctrl</text>
<text x="136.50" y="621.50" font-size="11.6" text-anchor="end" fill="#1a1a1a" stroke="#1a1a1a" stroke-width="0.12" transform="rotate(-31 136.50 621.50)">MnLR/Gly</text>
<text x="188.50" y="621.50" font-size="11.6" text-anchor="end" fill="#1a1a1a" stroke="#1a1a1a" stroke-width="0.12" transform="rotate(-31 188.50 621.50)">MnLR/Gly</text>
<text x="191.00" y="635.00" font-size="11.6" text-anchor="end" fill="#1a1a1a" stroke="#1a1a1a" stroke-width="0.12" transform="rotate(-31 191.00 635.00)">+ iMAPK</text>
<text x="37.14" y="695.20" font-size="16.5" font-weight="bold" fill="#000">i</text>
<line x1="19.30" y1="706.60" x2="19.30" y2="771.40" stroke="#1a1a1a" stroke-width="1"/>
<text x="8.58" y="771.90" font-size="11.42" fill="#1a1a1a" stroke="#1a1a1a" stroke-width="0.12" transform="rotate(-90 8.58 771.90)">hPBMC-DCs</text>
<text x="28.36" y="726.55" font-size="11.79" fill="#1a1a1a" stroke="#1a1a1a" stroke-width="0.12">P-p38</text>
<text x="22.87" y="759.02" font-size="11.47" fill="#1a1a1a" stroke="#1a1a1a" stroke-width="0.12">Tubulin</text>
<g clip-path="url(#cpi)">
<rect x="61.30" y="707.00" width="142.40" height="65.00" fill="#d4d4d4" stroke="none" stroke-width="1"/>
<rect x="114" y="707" width="7.5" height="65" fill="#dedede" opacity="0.9" filter="url(#blur2)"/>
<rect x="152" y="707" width="6.699999999999989" height="65" fill="#dedede" opacity="0.9" filter="url(#blur2)"/>
<rect x="61.30" y="739.00" width="142.40" height="33.00" fill="#dcdcdc" stroke="none" stroke-width="1"/>
<rect x="68" y="739" width="44" height="33" fill="#c4c4c4" opacity="0.85" filter="url(#blur3)"/>
<rect x="117" y="739" width="36" height="33" fill="#c4c4c4" opacity="0.85" filter="url(#blur3)"/>
<rect x="156" y="739" width="41" height="33" fill="#c4c4c4" opacity="0.85" filter="url(#blur3)"/>
<rect x="80.0" y="717.0" width="28.0" height="8.0" rx="4.0" fill="#bdbdbd" opacity="0.8" filter="url(#blur3)"/>
<rect x="118.0" y="717.5" width="33.0" height="12.0" rx="6.0" fill="#9a9a9a" opacity="0.6" filter="url(#blur3)"/>
<rect x="159.0" y="719.5" width="34.0" height="11.0" rx="5.5" fill="#a8a8a8" opacity="0.6" filter="url(#blur3)"/>
<rect x="121.5" y="720.8" width="26.3" height="6.4" rx="3.2" fill="#000" opacity="1" filter="url(#blur1)"/>
<rect x="162.0" y="722.6" width="28.5" height="5.4" rx="2.7" fill="#383838" opacity="0.95" filter="url(#blur1)"/>
<rect x="70.0" y="741.0" width="41.0" height="22.0" rx="11.0" fill="#7a7a7a" opacity="0.55" filter="url(#blur3)"/>
<rect x="118.0" y="745.0" width="33.0" height="18.0" rx="9.0" fill="#8a8a8a" opacity="0.5" filter="url(#blur3)"/>
<rect x="157.0" y="745.0" width="38.0" height="18.0" rx="9.0" fill="#8a8a8a" opacity="0.5" filter="url(#blur3)"/>
<rect x="74.4" y="756.4" width="32.9" height="10.5" rx="5.2" fill="#000" opacity="1" filter="url(#blur1)"/>
<rect x="121.5" y="757.5" width="26.3" height="8.5" rx="4.2" fill="#050505" opacity="1" filter="url(#blur1)"/>
<rect x="160.5" y="757.4" width="31.1" height="8.8" rx="4.4" fill="#000" opacity="1" filter="url(#blur1)"/>
</g>
<line x1="61.40" y1="738.80" x2="203.80" y2="738.80" stroke="#5a5050" stroke-width="1.5" stroke-dasharray="4.3,3.55"/>
<line x1="207.60" y1="709.30" x2="213.80" y2="709.30" stroke="#4a4444" stroke-width="1.1"/>
<line x1="208.20" y1="761.20" x2="214.70" y2="761.20" stroke="#4a4444" stroke-width="1.1"/>
<text x="218.18" y="714.43" font-size="10.9" fill="#1a1a1a" stroke="#1a1a1a" stroke-width="0.12">40</text>
<text x="214.71" y="724.76" font-size="11.1" fill="#1a1a1a" stroke="#1a1a1a" stroke-width="0.12">KDa</text>
<text x="220.35" y="767.00" font-size="11.17" fill="#1a1a1a" stroke="#1a1a1a" stroke-width="0.12">55</text>
<text x="215.42" y="778.55" font-size="10.94" fill="#1a1a1a" stroke="#1a1a1a" stroke-width="0.12">KDa</text>
<text x="95.00" y="787.30" font-size="11.6" text-anchor="end" fill="#1a1a1a" stroke="#1a1a1a" stroke-width="0.12" transform="rotate(-31 95.00 787.30)">Ctrl</text>
<text x="141.00" y="785.50" font-size="11.6" text-anchor="end" fill="#1a1a1a" stroke="#1a1a1a" stroke-width="0.12" transform="rotate(-31 141.00 785.50)">MnLR/Gly</text>
<text x="191.50" y="785.30" font-size="11.6" text-anchor="end" fill="#1a1a1a" stroke="#1a1a1a" stroke-width="0.12" transform="rotate(-31 191.50 785.30)">MnLR/Gly</text>
<text x="194.00" y="798.80" font-size="11.6" text-anchor="end" fill="#1a1a1a" stroke="#1a1a1a" stroke-width="0.12" transform="rotate(-31 194.00 798.80)">+ iMAPK</text>
<text x="242.95" y="531.00" font-size="16.5" font-weight="bold" fill="#000">j</text>
<defs><radialGradient id="gj" cx="0.55" cy="0.35" r="0.6"><stop offset="0" stop-color="#c6c6c6"/><stop offset="0.7" stop-color="#d4d4d4"/><stop offset="1" stop-color="#dcdcdc"/></radialGradient></defs>
<line x1="278.40" y1="547.50" x2="279.70" y2="547.50" stroke="#333" stroke-width="0.6"/>
<line x1="278.40" y1="553.88" x2="279.70" y2="553.88" stroke="#333" stroke-width="0.6"/>
<line x1="278.40" y1="560.26" x2="279.70" y2="560.26" stroke="#333" stroke-width="0.6"/>
<line x1="278.40" y1="566.65" x2="279.70" y2="566.65" stroke="#333" stroke-width="0.6"/>
<line x1="278.40" y1="573.03" x2="279.70" y2="573.03" stroke="#333" stroke-width="0.6"/>
<line x1="278.40" y1="579.41" x2="279.70" y2="579.41" stroke="#333" stroke-width="0.6"/>
<line x1="278.40" y1="585.79" x2="279.70" y2="585.79" stroke="#333" stroke-width="0.6"/>
<line x1="278.40" y1="592.17" x2="279.70" y2="592.17" stroke="#333" stroke-width="0.6"/>
<line x1="278.40" y1="598.55" x2="279.70" y2="598.55" stroke="#333" stroke-width="0.6"/>
<line x1="278.40" y1="604.94" x2="279.70" y2="604.94" stroke="#333" stroke-width="0.6"/>
<line x1="278.40" y1="611.32" x2="279.70" y2="611.32" stroke="#333" stroke-width="0.6"/>
<line x1="278.40" y1="617.70" x2="279.70" y2="617.70" stroke="#333" stroke-width="0.6"/>
<line x1="283.70" y1="621.70" x2="283.70" y2="623.00" stroke="#333" stroke-width="0.6"/>
<line x1="290.10" y1="621.70" x2="290.10" y2="623.00" stroke="#333" stroke-width="0.6"/>
<line x1="296.50" y1="621.70" x2="296.50" y2="623.00" stroke="#333" stroke-width="0.6"/>
<line x1="302.90" y1="621.70" x2="302.90" y2="623.00" stroke="#333" stroke-width="0.6"/>
<line x1="309.30" y1="621.70" x2="309.30" y2="623.00" stroke="#333" stroke-width="0.6"/>
<line x1="315.70" y1="621.70" x2="315.70" y2="623.00" stroke="#333" stroke-width="0.6"/>
<line x1="322.10" y1="621.70" x2="322.10" y2="623.00" stroke="#333" stroke-width="0.6"/>
<line x1="328.50" y1="621.70" x2="328.50" y2="623.00" stroke="#333" stroke-width="0.6"/>
<line x1="334.90" y1="621.70" x2="334.90" y2="623.00" stroke="#333" stroke-width="0.6"/>
<line x1="341.30" y1="621.70" x2="341.30" y2="623.00" stroke="#333" stroke-width="0.6"/>
<line x1="347.70" y1="621.70" x2="347.70" y2="623.00" stroke="#333" stroke-width="0.6"/>
<line x1="354.10" y1="621.70" x2="354.10" y2="623.00" stroke="#333" stroke-width="0.6"/>
<clipPath id="jcl0"><path d="M295.30,606.30 C294.68,605.08 295.05,602.98 295.30,599.70 C295.55,596.42 296.07,590.48 296.80,586.60 C297.53,582.72 298.85,579.08 299.70,576.40 C300.55,573.72 300.57,572.22 301.90,570.50 C303.23,568.78 306.00,567.55 307.70,566.10 C309.40,564.65 310.63,563.25 312.10,561.80 C313.57,560.35 314.55,558.62 316.50,557.40 C318.45,556.18 321.85,554.63 323.80,554.50 C325.75,554.37 326.98,554.90 328.20,556.60 C329.42,558.30 329.88,561.90 331.10,564.70 C332.32,567.50 334.03,570.48 335.50,573.40 C336.97,576.32 338.57,579.28 339.90,582.20 C341.23,585.12 342.78,588.47 343.50,590.90 C344.22,593.33 344.45,594.85 344.20,596.80 C343.95,598.75 343.45,601.15 342.00,602.60 C340.55,604.05 338.53,604.77 335.50,605.50 C332.47,606.23 328.18,606.75 323.80,607.00 C319.42,607.25 313.33,607.00 309.20,607.00 C305.07,607.00 301.32,607.12 299.00,607.00 C296.68,606.88 295.92,607.52 295.30,606.30 Z"/></clipPath>
<path d="M295.30,606.30 C294.68,605.08 295.05,602.98 295.30,599.70 C295.55,596.42 296.07,590.48 296.80,586.60 C297.53,582.72 298.85,579.08 299.70,576.40 C300.55,573.72 300.57,572.22 301.90,570.50 C303.23,568.78 306.00,567.55 307.70,566.10 C309.40,564.65 310.63,563.25 312.10,561.80 C313.57,560.35 314.55,558.62 316.50,557.40 C318.45,556.18 321.85,554.63 323.80,554.50 C325.75,554.37 326.98,554.90 328.20,556.60 C329.42,558.30 329.88,561.90 331.10,564.70 C332.32,567.50 334.03,570.48 335.50,573.40 C336.97,576.32 338.57,579.28 339.90,582.20 C341.23,585.12 342.78,588.47 343.50,590.90 C344.22,593.33 344.45,594.85 344.20,596.80 C343.95,598.75 343.45,601.15 342.00,602.60 C340.55,604.05 338.53,604.77 335.50,605.50 C332.47,606.23 328.18,606.75 323.80,607.00 C319.42,607.25 313.33,607.00 309.20,607.00 C305.07,607.00 301.32,607.12 299.00,607.00 C296.68,606.88 295.92,607.52 295.30,606.30 Z" fill="url(#gj)"/>
<g clip-path="url(#jcl0)">
<path d="M300.70,568.50 C301.62,566.92 304.03,566.00 305.70,565.00 C307.37,564.00 309.87,561.25 310.70,562.50 C311.53,563.75 311.87,570.67 310.70,572.50 C309.53,574.33 305.45,573.17 303.70,573.50 C301.95,573.83 300.70,575.33 300.20,574.50 C299.70,573.67 299.78,570.08 300.70,568.50 Z" fill="#8e8e8e" opacity="0.9"/>
<path d="M293.7,599.0 C301.7,593.0 319.7,592.0 345.7,597.0" fill="none" stroke="#eeeeee" stroke-width="1.6"/>
<path d="M293.7,601.0 C301.7,595.0 319.7,594.0 345.7,599.0" fill="none" stroke="#a8a8a8" stroke-width="0.6"/>
<path d="M293.7,603.5 C301.7,598.0 319.7,597.0 345.7,601.5" fill="none" stroke="#ececec" stroke-width="1.4"/>
<path d="M293.7,605.5 C301.7,600.0 319.7,599.0 345.7,603.5" fill="none" stroke="#a0a0a0" stroke-width="0.6"/>
<path d="M293.7,607.0 C301.7,602.5 319.7,601.5 345.7,605.0" fill="none" stroke="#e8e8e8" stroke-width="1.2"/>
<ellipse cx="301.7" cy="603.0" rx="4" ry="1.8" fill="none" stroke="#9a9a9a" stroke-width="0.7"/>
</g>
<path d="M295.30,606.30 C294.68,605.08 295.05,602.98 295.30,599.70 C295.55,596.42 296.07,590.48 296.80,586.60 C297.53,582.72 298.85,579.08 299.70,576.40 C300.55,573.72 300.57,572.22 301.90,570.50 C303.23,568.78 306.00,567.55 307.70,566.10 C309.40,564.65 310.63,563.25 312.10,561.80 C313.57,560.35 314.55,558.62 316.50,557.40 C318.45,556.18 321.85,554.63 323.80,554.50 C325.75,554.37 326.98,554.90 328.20,556.60 C329.42,558.30 329.88,561.90 331.10,564.70 C332.32,567.50 334.03,570.48 335.50,573.40 C336.97,576.32 338.57,579.28 339.90,582.20 C341.23,585.12 342.78,588.47 343.50,590.90 C344.22,593.33 344.45,594.85 344.20,596.80 C343.95,598.75 343.45,601.15 342.00,602.60 C340.55,604.05 338.53,604.77 335.50,605.50 C332.47,606.23 328.18,606.75 323.80,607.00 C319.42,607.25 313.33,607.00 309.20,607.00 C305.07,607.00 301.32,607.12 299.00,607.00 C296.68,606.88 295.92,607.52 295.30,606.30 Z" fill="none" stroke="#8a8a8a" stroke-width="1.3"/>
<rect x="279.70" y="543.50" width="78.40" height="78.20" fill="none" stroke="#1a1a1a" stroke-width="1.1"/>
<rect x="310.90" y="546.90" width="44.40" height="44.80" fill="none" stroke="#1a1a1a" stroke-width="1.1"/>
<text x="284.05" y="559.81" font-size="11.3" fill="#c8203a" stroke="#c8203a" stroke-width="0.12">19.4</text>
<line x1="369.10" y1="547.50" x2="370.40" y2="547.50" stroke="#333" stroke-width="0.6"/>
<line x1="369.10" y1="553.88" x2="370.40" y2="553.88" stroke="#333" stroke-width="0.6"/>
<line x1="369.10" y1="560.26" x2="370.40" y2="560.26" stroke="#333" stroke-width="0.6"/>
<line x1="369.10" y1="566.65" x2="370.40" y2="566.65" stroke="#333" stroke-width="0.6"/>
<line x1="369.10" y1="573.03" x2="370.40" y2="573.03" stroke="#333" stroke-width="0.6"/>
<line x1="369.10" y1="579.41" x2="370.40" y2="579.41" stroke="#333" stroke-width="0.6"/>
<line x1="369.10" y1="585.79" x2="370.40" y2="585.79" stroke="#333" stroke-width="0.6"/>
<line x1="369.10" y1="592.17" x2="370.40" y2="592.17" stroke="#333" stroke-width="0.6"/>
<line x1="369.10" y1="598.55" x2="370.40" y2="598.55" stroke="#333" stroke-width="0.6"/>
<line x1="369.10" y1="604.94" x2="370.40" y2="604.94" stroke="#333" stroke-width="0.6"/>
<line x1="369.10" y1="611.32" x2="370.40" y2="611.32" stroke="#333" stroke-width="0.6"/>
<line x1="369.10" y1="617.70" x2="370.40" y2="617.70" stroke="#333" stroke-width="0.6"/>
<line x1="374.40" y1="621.70" x2="374.40" y2="623.00" stroke="#333" stroke-width="0.6"/>
<line x1="380.80" y1="621.70" x2="380.80" y2="623.00" stroke="#333" stroke-width="0.6"/>
<line x1="387.20" y1="621.70" x2="387.20" y2="623.00" stroke="#333" stroke-width="0.6"/>
<line x1="393.60" y1="621.70" x2="393.60" y2="623.00" stroke="#333" stroke-width="0.6"/>
<line x1="400.00" y1="621.70" x2="400.00" y2="623.00" stroke="#333" stroke-width="0.6"/>
<line x1="406.40" y1="621.70" x2="406.40" y2="623.00" stroke="#333" stroke-width="0.6"/>
<line x1="412.80" y1="621.70" x2="412.80" y2="623.00" stroke="#333" stroke-width="0.6"/>
<line x1="419.20" y1="621.70" x2="419.20" y2="623.00" stroke="#333" stroke-width="0.6"/>
<line x1="425.60" y1="621.70" x2="425.60" y2="623.00" stroke="#333" stroke-width="0.6"/>
<line x1="432.00" y1="621.70" x2="432.00" y2="623.00" stroke="#333" stroke-width="0.6"/>
<line x1="438.40" y1="621.70" x2="438.40" y2="623.00" stroke="#333" stroke-width="0.6"/>
<line x1="444.80" y1="621.70" x2="444.80" y2="623.00" stroke="#333" stroke-width="0.6"/>
<clipPath id="jcl1"><path d="M386.80,605.50 C385.95,603.80 387.02,600.20 387.50,596.80 C387.98,593.40 389.08,589.00 389.70,585.10 C390.32,581.20 390.72,576.07 391.20,573.40 C391.68,570.73 391.40,570.18 392.60,569.10 C393.80,568.02 396.45,568.12 398.40,566.90 C400.35,565.68 402.35,563.75 404.30,561.80 C406.25,559.85 408.15,556.78 410.10,555.20 C412.05,553.62 414.05,552.42 416.00,552.30 C417.95,552.18 420.10,552.92 421.80,554.50 C423.50,556.08 424.98,558.88 426.20,561.80 C427.42,564.72 428.13,568.35 429.10,572.00 C430.07,575.65 431.27,580.30 432.00,583.70 C432.73,587.10 433.37,589.97 433.50,592.40 C433.63,594.83 434.02,596.72 432.80,598.30 C431.58,599.88 429.00,600.93 426.20,601.90 C423.40,602.87 420.13,603.50 416.00,604.10 C411.87,604.70 405.30,605.02 401.40,605.50 C397.50,605.98 395.03,607.00 392.60,607.00 C390.17,607.00 387.65,607.20 386.80,605.50 Z"/></clipPath>
<path d="M386.80,605.50 C385.95,603.80 387.02,600.20 387.50,596.80 C387.98,593.40 389.08,589.00 389.70,585.10 C390.32,581.20 390.72,576.07 391.20,573.40 C391.68,570.73 391.40,570.18 392.60,569.10 C393.80,568.02 396.45,568.12 398.40,566.90 C400.35,565.68 402.35,563.75 404.30,561.80 C406.25,559.85 408.15,556.78 410.10,555.20 C412.05,553.62 414.05,552.42 416.00,552.30 C417.95,552.18 420.10,552.92 421.80,554.50 C423.50,556.08 424.98,558.88 426.20,561.80 C427.42,564.72 428.13,568.35 429.10,572.00 C430.07,575.65 431.27,580.30 432.00,583.70 C432.73,587.10 433.37,589.97 433.50,592.40 C433.63,594.83 434.02,596.72 432.80,598.30 C431.58,599.88 429.00,600.93 426.20,601.90 C423.40,602.87 420.13,603.50 416.00,604.10 C411.87,604.70 405.30,605.02 401.40,605.50 C397.50,605.98 395.03,607.00 392.60,607.00 C390.17,607.00 387.65,607.20 386.80,605.50 Z" fill="url(#gj)"/>
<g clip-path="url(#jcl1)">
<path d="M391.40,568.50 C392.23,567.33 394.73,567.33 396.40,566.50 C398.07,565.67 400.40,562.83 401.40,563.50 C402.40,564.17 403.23,569.17 402.40,570.50 C401.57,571.83 398.23,571.00 396.40,571.50 C394.57,572.00 392.23,574.00 391.40,573.50 C390.57,573.00 390.57,569.67 391.40,568.50 Z" fill="#8e8e8e" opacity="0.9"/>
<path d="M415.4,591.5 C414.4,583.5 417.4,575.5 422.4,574.5 C427.4,575.5 429.4,585.5 430.4,591.5 Z" fill="#e4e4e4" stroke="#b0b0b0" stroke-width="0.6"/>
<path d="M384.4,599.0 C392.4,593.0 410.4,592.0 436.4,597.0" fill="none" stroke="#eeeeee" stroke-width="1.6"/>
<path d="M384.4,601.0 C392.4,595.0 410.4,594.0 436.4,599.0" fill="none" stroke="#a8a8a8" stroke-width="0.6"/>
<path d="M384.4,603.5 C392.4,598.0 410.4,597.0 436.4,601.5" fill="none" stroke="#ececec" stroke-width="1.4"/>
<path d="M384.4,605.5 C392.4,600.0 410.4,599.0 436.4,603.5" fill="none" stroke="#a0a0a0" stroke-width="0.6"/>
<path d="M384.4,607.0 C392.4,602.5 410.4,601.5 436.4,605.0" fill="none" stroke="#e8e8e8" stroke-width="1.2"/>
<ellipse cx="392.4" cy="603.0" rx="4" ry="1.8" fill="none" stroke="#9a9a9a" stroke-width="0.7"/>
</g>
<path d="M386.80,605.50 C385.95,603.80 387.02,600.20 387.50,596.80 C387.98,593.40 389.08,589.00 389.70,585.10 C390.32,581.20 390.72,576.07 391.20,573.40 C391.68,570.73 391.40,570.18 392.60,569.10 C393.80,568.02 396.45,568.12 398.40,566.90 C400.35,565.68 402.35,563.75 404.30,561.80 C406.25,559.85 408.15,556.78 410.10,555.20 C412.05,553.62 414.05,552.42 416.00,552.30 C417.95,552.18 420.10,552.92 421.80,554.50 C423.50,556.08 424.98,558.88 426.20,561.80 C427.42,564.72 428.13,568.35 429.10,572.00 C430.07,575.65 431.27,580.30 432.00,583.70 C432.73,587.10 433.37,589.97 433.50,592.40 C433.63,594.83 434.02,596.72 432.80,598.30 C431.58,599.88 429.00,600.93 426.20,601.90 C423.40,602.87 420.13,603.50 416.00,604.10 C411.87,604.70 405.30,605.02 401.40,605.50 C397.50,605.98 395.03,607.00 392.60,607.00 C390.17,607.00 387.65,607.20 386.80,605.50 Z" fill="none" stroke="#8a8a8a" stroke-width="1.3"/>
<rect x="370.40" y="543.50" width="78.40" height="78.20" fill="none" stroke="#1a1a1a" stroke-width="1.1"/>
<rect x="401.60" y="546.90" width="44.40" height="44.80" fill="none" stroke="#1a1a1a" stroke-width="1.1"/>
<text x="374.74" y="559.79" font-size="11.27" fill="#c8203a" stroke="#c8203a" stroke-width="0.12">26.7</text>
<line x1="459.70" y1="547.50" x2="461.00" y2="547.50" stroke="#333" stroke-width="0.6"/>
<line x1="459.70" y1="553.88" x2="461.00" y2="553.88" stroke="#333" stroke-width="0.6"/>
<line x1="459.70" y1="560.26" x2="461.00" y2="560.26" stroke="#333" stroke-width="0.6"/>
<line x1="459.70" y1="566.65" x2="461.00" y2="566.65" stroke="#333" stroke-width="0.6"/>
<line x1="459.70" y1="573.03" x2="461.00" y2="573.03" stroke="#333" stroke-width="0.6"/>
<line x1="459.70" y1="579.41" x2="461.00" y2="579.41" stroke="#333" stroke-width="0.6"/>
<line x1="459.70" y1="585.79" x2="461.00" y2="585.79" stroke="#333" stroke-width="0.6"/>
<line x1="459.70" y1="592.17" x2="461.00" y2="592.17" stroke="#333" stroke-width="0.6"/>
<line x1="459.70" y1="598.55" x2="461.00" y2="598.55" stroke="#333" stroke-width="0.6"/>
<line x1="459.70" y1="604.94" x2="461.00" y2="604.94" stroke="#333" stroke-width="0.6"/>
<line x1="459.70" y1="611.32" x2="461.00" y2="611.32" stroke="#333" stroke-width="0.6"/>
<line x1="459.70" y1="617.70" x2="461.00" y2="617.70" stroke="#333" stroke-width="0.6"/>
<line x1="465.00" y1="621.70" x2="465.00" y2="623.00" stroke="#333" stroke-width="0.6"/>
<line x1="471.40" y1="621.70" x2="471.40" y2="623.00" stroke="#333" stroke-width="0.6"/>
<line x1="477.80" y1="621.70" x2="477.80" y2="623.00" stroke="#333" stroke-width="0.6"/>
<line x1="484.20" y1="621.70" x2="484.20" y2="623.00" stroke="#333" stroke-width="0.6"/>
<line x1="490.60" y1="621.70" x2="490.60" y2="623.00" stroke="#333" stroke-width="0.6"/>
<line x1="497.00" y1="621.70" x2="497.00" y2="623.00" stroke="#333" stroke-width="0.6"/>
<line x1="503.40" y1="621.70" x2="503.40" y2="623.00" stroke="#333" stroke-width="0.6"/>
<line x1="509.80" y1="621.70" x2="509.80" y2="623.00" stroke="#333" stroke-width="0.6"/>
<line x1="516.20" y1="621.70" x2="516.20" y2="623.00" stroke="#333" stroke-width="0.6"/>
<line x1="522.60" y1="621.70" x2="522.60" y2="623.00" stroke="#333" stroke-width="0.6"/>
<line x1="529.00" y1="621.70" x2="529.00" y2="623.00" stroke="#333" stroke-width="0.6"/>
<line x1="535.40" y1="621.70" x2="535.40" y2="623.00" stroke="#333" stroke-width="0.6"/>
<clipPath id="jcl2"><path d="M478.20,604.80 C476.98,603.35 478.85,600.85 479.70,598.30 C480.55,595.75 482.45,592.92 483.30,589.50 C484.15,586.08 484.43,580.97 484.80,577.80 C485.17,574.63 484.77,572.57 485.50,570.50 C486.23,568.43 487.48,566.85 489.20,565.40 C490.92,563.95 493.48,563.13 495.80,561.80 C498.12,560.47 500.43,558.62 503.10,557.40 C505.77,556.18 509.25,555.23 511.80,554.50 C514.35,553.77 516.82,552.77 518.40,553.00 C519.98,553.23 520.70,553.47 521.30,555.90 C521.90,558.33 521.63,563.22 522.00,567.60 C522.37,571.98 522.88,577.82 523.50,582.20 C524.12,586.58 525.45,590.98 525.70,593.90 C525.95,596.82 526.10,598.00 525.00,599.70 C523.90,601.40 522.27,603.00 519.10,604.10 C515.93,605.20 511.35,605.82 506.00,606.30 C500.65,606.78 491.63,607.25 487.00,607.00 C482.37,606.75 479.42,606.25 478.20,604.80 Z"/></clipPath>
<path d="M478.20,604.80 C476.98,603.35 478.85,600.85 479.70,598.30 C480.55,595.75 482.45,592.92 483.30,589.50 C484.15,586.08 484.43,580.97 484.80,577.80 C485.17,574.63 484.77,572.57 485.50,570.50 C486.23,568.43 487.48,566.85 489.20,565.40 C490.92,563.95 493.48,563.13 495.80,561.80 C498.12,560.47 500.43,558.62 503.10,557.40 C505.77,556.18 509.25,555.23 511.80,554.50 C514.35,553.77 516.82,552.77 518.40,553.00 C519.98,553.23 520.70,553.47 521.30,555.90 C521.90,558.33 521.63,563.22 522.00,567.60 C522.37,571.98 522.88,577.82 523.50,582.20 C524.12,586.58 525.45,590.98 525.70,593.90 C525.95,596.82 526.10,598.00 525.00,599.70 C523.90,601.40 522.27,603.00 519.10,604.10 C515.93,605.20 511.35,605.82 506.00,606.30 C500.65,606.78 491.63,607.25 487.00,607.00 C482.37,606.75 479.42,606.25 478.20,604.80 Z" fill="url(#gj)"/>
<g clip-path="url(#jcl2)">
<path d="M484.00,570.50 C484.58,567.83 486.67,567.00 487.00,567.50 C487.33,568.00 486.33,571.17 486.00,573.50 C485.67,575.83 485.42,579.83 485.00,581.50 C484.58,583.17 483.67,585.33 483.50,583.50 C483.33,581.67 483.42,573.17 484.00,570.50 Z" fill="#8e8e8e" opacity="0.9"/>
<path d="M493.0,593.5 C499.0,587.5 509.0,586.5 519.0,590.5 L521.0,595.5 L493.0,596.5 Z" fill="#e0e0e0"/>
<path d="M475.0,599.0 C483.0,593.0 501.0,592.0 527.0,597.0" fill="none" stroke="#eeeeee" stroke-width="1.6"/>
<path d="M475.0,601.0 C483.0,595.0 501.0,594.0 527.0,599.0" fill="none" stroke="#a8a8a8" stroke-width="0.6"/>
<path d="M475.0,603.5 C483.0,598.0 501.0,597.0 527.0,601.5" fill="none" stroke="#ececec" stroke-width="1.4"/>
<path d="M475.0,605.5 C483.0,600.0 501.0,599.0 527.0,603.5" fill="none" stroke="#a0a0a0" stroke-width="0.6"/>
<path d="M475.0,607.0 C483.0,602.5 501.0,601.5 527.0,605.0" fill="none" stroke="#e8e8e8" stroke-width="1.2"/>
<ellipse cx="483.0" cy="603.0" rx="4" ry="1.8" fill="none" stroke="#9a9a9a" stroke-width="0.7"/>
</g>
<path d="M478.20,604.80 C476.98,603.35 478.85,600.85 479.70,598.30 C480.55,595.75 482.45,592.92 483.30,589.50 C484.15,586.08 484.43,580.97 484.80,577.80 C485.17,574.63 484.77,572.57 485.50,570.50 C486.23,568.43 487.48,566.85 489.20,565.40 C490.92,563.95 493.48,563.13 495.80,561.80 C498.12,560.47 500.43,558.62 503.10,557.40 C505.77,556.18 509.25,555.23 511.80,554.50 C514.35,553.77 516.82,552.77 518.40,553.00 C519.98,553.23 520.70,553.47 521.30,555.90 C521.90,558.33 521.63,563.22 522.00,567.60 C522.37,571.98 522.88,577.82 523.50,582.20 C524.12,586.58 525.45,590.98 525.70,593.90 C525.95,596.82 526.10,598.00 525.00,599.70 C523.90,601.40 522.27,603.00 519.10,604.10 C515.93,605.20 511.35,605.82 506.00,606.30 C500.65,606.78 491.63,607.25 487.00,607.00 C482.37,606.75 479.42,606.25 478.20,604.80 Z" fill="none" stroke="#8a8a8a" stroke-width="1.3"/>
<rect x="461.00" y="543.50" width="78.40" height="78.20" fill="none" stroke="#1a1a1a" stroke-width="1.1"/>
<rect x="492.20" y="546.90" width="44.40" height="44.80" fill="none" stroke="#1a1a1a" stroke-width="1.1"/>
<text x="465.94" y="559.73" font-size="11.18" fill="#c8203a" stroke="#c8203a" stroke-width="0.12">22.0</text>
<text x="306.28" y="532.96" font-size="12.36" fill="#1a1a1a" stroke="#1a1a1a" stroke-width="0.12">Ctrl</text>
<text x="381.75" y="532.41" font-size="11.6" fill="#1a1a1a" stroke="#1a1a1a" stroke-width="0.12">MnLR/Gly</text>
<text x="473.65" y="524.61" font-size="11.6" fill="#1a1a1a" stroke="#1a1a1a" stroke-width="0.12">MnLR/Gly</text>
<text x="475.21" y="538.21" font-size="11.6" fill="#1a1a1a" stroke="#1a1a1a" stroke-width="0.12">+ iMAPK</text>
<text x="261.27" y="570.73" font-size="10.67" fill="#1a1a1a" stroke="#1a1a1a" stroke-width="0.12" transform="rotate(-90 261.27 570.73)">CD86</text>
<text x="273.80" y="550.80" font-size="7.6" text-anchor="middle" fill="#2a2a2a" stroke="#2a2a2a" stroke-width="0.16" transform="rotate(-90 273.80 550.80)">10<tspan font-size="4.8" dy="-2.7">5</tspan></text>
<text x="273.80" y="590.20" font-size="7.6" text-anchor="middle" fill="#2a2a2a" stroke="#2a2a2a" stroke-width="0.16" transform="rotate(-90 273.80 590.20)">10<tspan font-size="4.8" dy="-2.7">3</tspan></text>
<text x="273.80" y="604.00" font-size="7.6" text-anchor="middle" fill="#2a2a2a" stroke="#2a2a2a" stroke-width="0.16" transform="rotate(-90 273.80 604.00)">0</text>
<text x="296.80" y="630.50" font-size="7.6" text-anchor="middle" fill="#2a2a2a" stroke="#2a2a2a" stroke-width="0.16">0</text>
<text x="310.30" y="630.50" font-size="7.6" text-anchor="middle" fill="#2a2a2a" stroke="#2a2a2a" stroke-width="0.16">10<tspan font-size="4.8" dy="-2.7">3</tspan></text>
<text x="350.40" y="630.50" font-size="7.6" text-anchor="middle" fill="#2a2a2a" stroke="#2a2a2a" stroke-width="0.16">10<tspan font-size="4.8" dy="-2.7">5</tspan></text>
<line x1="256.90" y1="580.50" x2="256.90" y2="632.80" stroke="#1a1a1a" stroke-width="1"/>
<polygon points="256.9,578.6 255.1,583 258.7,583" fill="#1a1a1a"/>
<line x1="256.90" y1="632.80" x2="494.50" y2="632.80" stroke="#1a1a1a" stroke-width="1"/>
<polygon points="497.2,632.8 492.7,631 492.7,634.6" fill="#1a1a1a"/>
<text x="504.42" y="636.21" font-size="11.58" fill="#1a1a1a" stroke="#1a1a1a" stroke-width="0.12">CD11c</text>
<text x="245.05" y="695.50" font-size="16.5" font-weight="bold" fill="#000">k</text>
<line x1="276.90" y1="711.00" x2="278.20" y2="711.00" stroke="#333" stroke-width="0.6"/>
<line x1="276.90" y1="717.40" x2="278.20" y2="717.40" stroke="#333" stroke-width="0.6"/>
<line x1="276.90" y1="723.80" x2="278.20" y2="723.80" stroke="#333" stroke-width="0.6"/>
<line x1="276.90" y1="730.20" x2="278.20" y2="730.20" stroke="#333" stroke-width="0.6"/>
<line x1="276.90" y1="736.60" x2="278.20" y2="736.60" stroke="#333" stroke-width="0.6"/>
<line x1="276.90" y1="743.00" x2="278.20" y2="743.00" stroke="#333" stroke-width="0.6"/>
<line x1="276.90" y1="749.40" x2="278.20" y2="749.40" stroke="#333" stroke-width="0.6"/>
<line x1="276.90" y1="755.80" x2="278.20" y2="755.80" stroke="#333" stroke-width="0.6"/>
<line x1="276.90" y1="762.20" x2="278.20" y2="762.20" stroke="#333" stroke-width="0.6"/>
<line x1="276.90" y1="768.60" x2="278.20" y2="768.60" stroke="#333" stroke-width="0.6"/>
<line x1="276.90" y1="775.00" x2="278.20" y2="775.00" stroke="#333" stroke-width="0.6"/>
<line x1="276.90" y1="781.40" x2="278.20" y2="781.40" stroke="#333" stroke-width="0.6"/>
<line x1="282.20" y1="785.40" x2="282.20" y2="786.70" stroke="#333" stroke-width="0.6"/>
<line x1="288.61" y1="785.40" x2="288.61" y2="786.70" stroke="#333" stroke-width="0.6"/>
<line x1="295.02" y1="785.40" x2="295.02" y2="786.70" stroke="#333" stroke-width="0.6"/>
<line x1="301.43" y1="785.40" x2="301.43" y2="786.70" stroke="#333" stroke-width="0.6"/>
<line x1="307.84" y1="785.40" x2="307.84" y2="786.70" stroke="#333" stroke-width="0.6"/>
<line x1="314.25" y1="785.40" x2="314.25" y2="786.70" stroke="#333" stroke-width="0.6"/>
<line x1="320.65" y1="785.40" x2="320.65" y2="786.70" stroke="#333" stroke-width="0.6"/>
<line x1="327.06" y1="785.40" x2="327.06" y2="786.70" stroke="#333" stroke-width="0.6"/>
<line x1="333.47" y1="785.40" x2="333.47" y2="786.70" stroke="#333" stroke-width="0.6"/>
<line x1="339.88" y1="785.40" x2="339.88" y2="786.70" stroke="#333" stroke-width="0.6"/>
<line x1="346.29" y1="785.40" x2="346.29" y2="786.70" stroke="#333" stroke-width="0.6"/>
<line x1="352.70" y1="785.40" x2="352.70" y2="786.70" stroke="#333" stroke-width="0.6"/>
<path d="M303.80,767.30 C303.08,766.45 303.72,764.12 303.10,762.90 C302.48,761.68 300.60,761.22 300.10,760.00 C299.60,758.78 299.73,757.32 300.10,755.60 C300.47,753.88 301.68,751.17 302.30,749.70 C302.92,748.23 303.18,747.77 303.80,746.80 C304.42,745.83 305.77,745.23 306.00,743.90 C306.23,742.57 304.72,740.13 305.20,738.80 C305.68,737.47 307.32,736.52 308.90,735.90 C310.48,735.28 313.00,735.72 314.70,735.10 C316.40,734.48 317.63,733.05 319.10,732.20 C320.57,731.35 322.17,730.12 323.50,730.00 C324.83,729.88 326.25,730.40 327.10,731.50 C327.95,732.60 328.23,734.53 328.60,736.60 C328.97,738.67 329.42,741.47 329.30,743.90 C329.18,746.33 328.87,749.02 327.90,751.20 C326.93,753.38 325.22,755.30 323.50,757.00 C321.78,758.70 319.55,760.05 317.60,761.40 C315.65,762.75 313.50,764.00 311.80,765.10 C310.10,766.20 308.73,767.63 307.40,768.00 C306.07,768.37 304.52,768.15 303.80,767.30 Z" fill="#d6d6d6" stroke="#6a6a6a" stroke-width="1.2"/>
<path d="M308.50,762.18 C307.99,761.56 308.44,759.88 308.00,759.01 C307.56,758.13 306.20,757.80 305.84,756.92 C305.48,756.04 305.58,754.99 305.84,753.75 C306.10,752.52 306.98,750.56 307.42,749.50 C307.87,748.45 308.06,748.11 308.50,747.42 C308.95,746.72 309.92,746.29 310.09,745.33 C310.26,744.37 309.16,742.62 309.51,741.66 C309.86,740.70 311.04,740.01 312.18,739.57 C313.32,739.12 315.13,739.44 316.35,738.99 C317.58,738.55 318.46,737.52 319.52,736.90 C320.58,736.29 321.73,735.40 322.69,735.32 C323.65,735.24 324.67,735.61 325.28,736.40 C325.89,737.19 326.10,738.58 326.36,740.07 C326.62,741.56 326.95,743.58 326.86,745.33 C326.78,747.08 326.55,749.01 325.86,750.58 C325.16,752.16 323.92,753.54 322.69,754.76 C321.45,755.98 319.84,756.96 318.44,757.93 C317.04,758.90 315.49,759.80 314.26,760.59 C313.04,761.38 312.06,762.42 311.10,762.68 C310.14,762.94 309.02,762.79 308.50,762.18 Z" fill="#cccccc" stroke="#a0a0a0" stroke-width="0.6"/>
<path d="M311.89,758.49 C311.52,758.05 311.85,756.84 311.53,756.21 C311.21,755.58 310.23,755.33 309.97,754.70 C309.71,754.07 309.78,753.31 309.97,752.42 C310.16,751.53 310.79,750.12 311.11,749.36 C311.43,748.60 311.57,748.36 311.89,747.86 C312.21,747.36 312.91,747.05 313.03,746.36 C313.15,745.66 312.37,744.40 312.62,743.71 C312.87,743.02 313.71,742.53 314.53,742.21 C315.36,741.89 316.66,742.11 317.54,741.79 C318.42,741.47 319.06,740.73 319.82,740.29 C320.58,739.85 321.41,739.21 322.10,739.15 C322.79,739.09 323.53,739.36 323.97,739.93 C324.41,740.50 324.56,741.50 324.75,742.57 C324.94,743.64 325.17,745.09 325.11,746.36 C325.05,747.62 324.89,749.01 324.38,750.14 C323.88,751.27 322.99,752.27 322.10,753.15 C321.21,754.03 320.06,754.73 319.04,755.43 C318.03,756.13 316.92,756.78 316.04,757.35 C315.16,757.92 314.45,758.66 313.76,758.85 C313.07,759.04 312.26,758.93 311.89,758.49 Z" fill="#c4c4c4" stroke="#a0a0a0" stroke-width="0.6"/>
<path d="M314.33,755.83 C314.06,755.51 314.30,754.64 314.07,754.19 C313.84,753.73 313.14,753.56 312.95,753.11 C312.76,752.65 312.81,752.10 312.95,751.46 C313.09,750.82 313.54,749.81 313.77,749.26 C314.00,748.71 314.10,748.54 314.33,748.18 C314.56,747.82 315.06,747.59 315.15,747.10 C315.24,746.60 314.67,745.69 314.85,745.19 C315.03,744.70 315.64,744.34 316.23,744.11 C316.82,743.88 317.76,744.04 318.40,743.81 C319.03,743.58 319.49,743.05 320.04,742.73 C320.59,742.41 321.18,741.95 321.68,741.91 C322.18,741.86 322.71,742.06 323.03,742.47 C323.34,742.88 323.45,743.60 323.59,744.37 C323.72,745.14 323.89,746.19 323.85,747.10 C323.80,748.00 323.69,749.01 323.32,749.82 C322.96,750.64 322.32,751.35 321.68,751.99 C321.04,752.62 320.21,753.12 319.48,753.63 C318.75,754.13 317.95,754.60 317.32,755.01 C316.68,755.42 316.17,755.95 315.67,756.09 C315.18,756.23 314.60,756.15 314.33,755.83 Z" fill="#bababa" stroke="#a0a0a0" stroke-width="0.6"/>
<path d="M316.09,753.92 C315.89,753.69 316.06,753.06 315.90,752.74 C315.73,752.41 315.23,752.28 315.09,751.96 C314.96,751.63 314.99,751.24 315.09,750.77 C315.19,750.31 315.52,749.58 315.68,749.19 C315.85,748.79 315.92,748.67 316.09,748.41 C316.25,748.15 316.61,747.99 316.68,747.63 C316.74,747.27 316.33,746.62 316.46,746.26 C316.59,745.90 317.03,745.65 317.46,745.48 C317.88,745.31 318.56,745.43 319.01,745.26 C319.47,745.10 319.80,744.71 320.20,744.49 C320.59,744.26 321.02,743.93 321.38,743.89 C321.74,743.86 322.12,744.00 322.35,744.30 C322.58,744.59 322.65,745.11 322.75,745.67 C322.85,746.22 322.97,746.98 322.94,747.63 C322.91,748.28 322.82,749.00 322.56,749.59 C322.30,750.18 321.84,750.69 321.38,751.15 C320.92,751.61 320.32,751.97 319.79,752.33 C319.27,752.70 318.69,753.03 318.24,753.33 C317.78,753.62 317.41,754.01 317.05,754.11 C316.69,754.20 316.28,754.15 316.09,753.92 Z" fill="#b0b0b0" stroke="#a0a0a0" stroke-width="0.6"/>
<path d="M317.35,752.54 C317.21,752.38 317.33,751.92 317.21,751.69 C317.09,751.45 316.73,751.36 316.63,751.13 C316.54,750.89 316.56,750.61 316.63,750.28 C316.70,749.94 316.94,749.42 317.06,749.14 C317.18,748.85 317.23,748.76 317.35,748.57 C317.47,748.39 317.73,748.27 317.78,748.01 C317.82,747.76 317.53,747.28 317.62,747.03 C317.71,746.77 318.03,746.58 318.34,746.47 C318.64,746.35 319.13,746.43 319.46,746.31 C319.79,746.19 320.03,745.91 320.31,745.75 C320.59,745.58 320.90,745.35 321.16,745.32 C321.42,745.30 321.69,745.40 321.86,745.61 C322.02,745.83 322.08,746.20 322.15,746.60 C322.22,747.00 322.31,747.54 322.28,748.01 C322.26,748.48 322.20,749.00 322.01,749.43 C321.83,749.85 321.49,750.22 321.16,750.55 C320.83,750.88 320.40,751.14 320.02,751.40 C319.64,751.66 319.23,751.90 318.90,752.12 C318.57,752.33 318.30,752.61 318.05,752.68 C317.79,752.75 317.49,752.71 317.35,752.54 Z" fill="#a4a4a4" stroke="#a0a0a0" stroke-width="0.6"/>
<rect x="278.20" y="707.00" width="78.50" height="78.40" fill="none" stroke="#1a1a1a" stroke-width="1.1"/>
<rect x="291.90" y="716.60" width="42.90" height="27.70" fill="none" stroke="#1a1a1a" stroke-width="1.1"/>
<text x="293.21" y="728.36" font-size="11.8" fill="#c8203a" stroke="#c8203a" stroke-width="0.12">16.5</text>
<line x1="367.40" y1="711.00" x2="368.70" y2="711.00" stroke="#333" stroke-width="0.6"/>
<line x1="367.40" y1="717.40" x2="368.70" y2="717.40" stroke="#333" stroke-width="0.6"/>
<line x1="367.40" y1="723.80" x2="368.70" y2="723.80" stroke="#333" stroke-width="0.6"/>
<line x1="367.40" y1="730.20" x2="368.70" y2="730.20" stroke="#333" stroke-width="0.6"/>
<line x1="367.40" y1="736.60" x2="368.70" y2="736.60" stroke="#333" stroke-width="0.6"/>
<line x1="367.40" y1="743.00" x2="368.70" y2="743.00" stroke="#333" stroke-width="0.6"/>
<line x1="367.40" y1="749.40" x2="368.70" y2="749.40" stroke="#333" stroke-width="0.6"/>
<line x1="367.40" y1="755.80" x2="368.70" y2="755.80" stroke="#333" stroke-width="0.6"/>
<line x1="367.40" y1="762.20" x2="368.70" y2="762.20" stroke="#333" stroke-width="0.6"/>
<line x1="367.40" y1="768.60" x2="368.70" y2="768.60" stroke="#333" stroke-width="0.6"/>
<line x1="367.40" y1="775.00" x2="368.70" y2="775.00" stroke="#333" stroke-width="0.6"/>
<line x1="367.40" y1="781.40" x2="368.70" y2="781.40" stroke="#333" stroke-width="0.6"/>
<line x1="372.70" y1="785.40" x2="372.70" y2="786.70" stroke="#333" stroke-width="0.6"/>
<line x1="379.11" y1="785.40" x2="379.11" y2="786.70" stroke="#333" stroke-width="0.6"/>
<line x1="385.52" y1="785.40" x2="385.52" y2="786.70" stroke="#333" stroke-width="0.6"/>
<line x1="391.93" y1="785.40" x2="391.93" y2="786.70" stroke="#333" stroke-width="0.6"/>
<line x1="398.34" y1="785.40" x2="398.34" y2="786.70" stroke="#333" stroke-width="0.6"/>
<line x1="404.75" y1="785.40" x2="404.75" y2="786.70" stroke="#333" stroke-width="0.6"/>
<line x1="411.15" y1="785.40" x2="411.15" y2="786.70" stroke="#333" stroke-width="0.6"/>
<line x1="417.56" y1="785.40" x2="417.56" y2="786.70" stroke="#333" stroke-width="0.6"/>
<line x1="423.97" y1="785.40" x2="423.97" y2="786.70" stroke="#333" stroke-width="0.6"/>
<line x1="430.38" y1="785.40" x2="430.38" y2="786.70" stroke="#333" stroke-width="0.6"/>
<line x1="436.79" y1="785.40" x2="436.79" y2="786.70" stroke="#333" stroke-width="0.6"/>
<line x1="443.20" y1="785.40" x2="443.20" y2="786.70" stroke="#333" stroke-width="0.6"/>
<path d="M394.90,764.30 C394.03,763.38 393.30,761.70 392.70,760.00 C392.10,758.30 391.30,756.05 391.30,754.10 C391.30,752.15 392.58,750.25 392.70,748.30 C392.82,746.35 392.00,744.10 392.00,742.40 C392.00,740.70 391.97,739.43 392.70,738.10 C393.43,736.77 394.82,735.50 396.40,734.40 C397.98,733.30 400.02,732.35 402.20,731.50 C404.38,730.65 407.18,730.15 409.50,729.30 C411.82,728.45 414.63,726.77 416.10,726.40 C417.57,726.03 417.70,726.13 418.30,727.10 C418.90,728.07 419.33,730.13 419.70,732.20 C420.07,734.27 420.50,737.07 420.50,739.50 C420.50,741.93 420.32,744.37 419.70,746.80 C419.08,749.23 418.00,751.90 416.80,754.10 C415.60,756.30 413.95,758.53 412.50,760.00 C411.05,761.47 409.82,762.05 408.10,762.90 C406.38,763.75 403.90,764.67 402.20,765.10 C400.50,765.53 399.12,765.63 397.90,765.50 C396.68,765.37 395.77,765.22 394.90,764.30 Z" fill="#d6d6d6" stroke="#6a6a6a" stroke-width="1.2"/>
<path d="M399.41,759.82 C398.78,759.16 398.26,757.95 397.82,756.72 C397.39,755.50 396.82,753.88 396.82,752.48 C396.82,751.07 397.74,749.70 397.82,748.30 C397.91,746.90 397.32,745.28 397.32,744.05 C397.32,742.83 397.30,741.92 397.82,740.96 C398.35,740.00 399.35,739.08 400.49,738.29 C401.63,737.50 403.09,736.82 404.66,736.20 C406.24,735.59 408.25,735.23 409.92,734.62 C411.59,734.01 413.62,732.80 414.67,732.53 C415.73,732.27 415.82,732.34 416.26,733.04 C416.69,733.73 417.00,735.22 417.26,736.71 C417.53,738.20 417.84,740.21 417.84,741.96 C417.84,743.72 417.71,745.47 417.26,747.22 C416.82,748.97 416.04,750.89 415.18,752.48 C414.31,754.06 413.12,755.67 412.08,756.72 C411.04,757.78 410.15,758.20 408.91,758.81 C407.68,759.42 405.89,760.08 404.66,760.40 C403.44,760.71 402.44,760.78 401.57,760.68 C400.69,760.59 400.03,760.48 399.41,759.82 Z" fill="#cccccc" stroke="#a0a0a0" stroke-width="0.6"/>
<path d="M402.65,756.59 C402.20,756.12 401.82,755.25 401.51,754.37 C401.20,753.48 400.79,752.32 400.79,751.31 C400.79,750.30 401.45,749.31 401.51,748.30 C401.57,747.29 401.15,746.12 401.15,745.24 C401.15,744.36 401.13,743.70 401.51,743.01 C401.89,742.32 402.61,741.66 403.43,741.09 C404.25,740.52 405.31,740.03 406.44,739.59 C407.57,739.15 409.02,738.89 410.22,738.45 C411.42,738.01 412.88,737.14 413.64,736.95 C414.40,736.76 414.47,736.81 414.78,737.31 C415.10,737.81 415.32,738.88 415.51,739.95 C415.70,741.03 415.92,742.48 415.92,743.74 C415.92,745.00 415.83,746.26 415.51,747.52 C415.19,748.78 414.63,750.17 414.01,751.31 C413.38,752.45 412.53,753.60 411.78,754.37 C411.03,755.13 410.39,755.43 409.50,755.87 C408.61,756.31 407.32,756.78 406.44,757.01 C405.56,757.23 404.84,757.29 404.21,757.22 C403.58,757.15 403.10,757.07 402.65,756.59 Z" fill="#c4c4c4" stroke="#a0a0a0" stroke-width="0.6"/>
<path d="M404.99,754.27 C404.67,753.93 404.39,753.30 404.17,752.67 C403.95,752.03 403.65,751.19 403.65,750.46 C403.65,749.74 404.13,749.03 404.17,748.30 C404.21,747.57 403.91,746.73 403.91,746.10 C403.91,745.46 403.90,744.99 404.17,744.49 C404.44,744.00 404.96,743.52 405.55,743.11 C406.14,742.70 406.90,742.35 407.72,742.03 C408.53,741.71 409.58,741.53 410.44,741.21 C411.30,740.89 412.36,740.26 412.90,740.13 C413.45,739.99 413.50,740.03 413.72,740.39 C413.95,740.75 414.11,741.52 414.25,742.29 C414.38,743.06 414.55,744.11 414.55,745.02 C414.55,745.92 414.48,746.83 414.25,747.74 C414.02,748.65 413.61,749.64 413.16,750.46 C412.72,751.29 412.10,752.12 411.56,752.67 C411.02,753.21 410.56,753.43 409.92,753.75 C409.28,754.07 408.35,754.41 407.72,754.57 C407.08,754.73 406.56,754.77 406.11,754.72 C405.66,754.67 405.31,754.61 404.99,754.27 Z" fill="#bababa" stroke="#a0a0a0" stroke-width="0.6"/>
<path d="M406.67,752.60 C406.44,752.35 406.24,751.90 406.08,751.44 C405.92,750.99 405.71,750.38 405.71,749.86 C405.71,749.33 406.05,748.82 406.08,748.30 C406.11,747.78 405.89,747.17 405.89,746.71 C405.89,746.26 405.89,745.92 406.08,745.56 C406.28,745.20 406.65,744.86 407.08,744.56 C407.50,744.27 408.05,744.01 408.64,743.79 C409.22,743.56 409.97,743.42 410.60,743.19 C411.22,742.97 411.98,742.51 412.37,742.41 C412.76,742.32 412.80,742.34 412.96,742.60 C413.12,742.86 413.24,743.42 413.34,743.97 C413.44,744.53 413.55,745.28 413.55,745.94 C413.55,746.59 413.50,747.24 413.34,747.90 C413.17,748.55 412.88,749.27 412.56,749.86 C412.24,750.45 411.79,751.05 411.40,751.44 C411.01,751.84 410.68,752.00 410.22,752.22 C409.76,752.45 409.09,752.70 408.64,752.81 C408.18,752.93 407.81,752.96 407.48,752.92 C407.15,752.89 406.91,752.85 406.67,752.60 Z" fill="#b0b0b0" stroke="#a0a0a0" stroke-width="0.6"/>
<path d="M407.88,751.40 C407.72,751.22 407.58,750.89 407.46,750.56 C407.34,750.23 407.19,749.80 407.19,749.42 C407.19,749.04 407.44,748.68 407.46,748.30 C407.48,747.92 407.32,747.49 407.32,747.16 C407.32,746.83 407.32,746.58 407.46,746.33 C407.60,746.07 407.87,745.82 408.18,745.61 C408.48,745.40 408.87,745.21 409.30,745.05 C409.72,744.88 410.26,744.79 410.71,744.62 C411.16,744.46 411.70,744.13 411.99,744.06 C412.27,743.99 412.30,744.01 412.41,744.20 C412.53,744.39 412.61,744.78 412.68,745.18 C412.75,745.58 412.84,746.13 412.84,746.60 C412.84,747.07 412.80,747.54 412.68,748.01 C412.56,748.48 412.35,749.00 412.12,749.42 C411.89,749.85 411.57,750.28 411.29,750.56 C411.01,750.85 410.77,750.96 410.44,751.12 C410.11,751.29 409.63,751.47 409.30,751.55 C408.97,751.63 408.70,751.65 408.47,751.63 C408.23,751.60 408.05,751.57 407.88,751.40 Z" fill="#a4a4a4" stroke="#a0a0a0" stroke-width="0.6"/>
<rect x="368.70" y="707.00" width="78.50" height="78.40" fill="none" stroke="#1a1a1a" stroke-width="1.1"/>
<rect x="382.40" y="716.60" width="42.90" height="27.70" fill="none" stroke="#1a1a1a" stroke-width="1.1"/>
<text x="384.83" y="728.25" font-size="11.64" fill="#c8203a" stroke="#c8203a" stroke-width="0.12">30.2</text>
<line x1="459.70" y1="711.00" x2="461.00" y2="711.00" stroke="#333" stroke-width="0.6"/>
<line x1="459.70" y1="717.40" x2="461.00" y2="717.40" stroke="#333" stroke-width="0.6"/>
<line x1="459.70" y1="723.80" x2="461.00" y2="723.80" stroke="#333" stroke-width="0.6"/>
<line x1="459.70" y1="730.20" x2="461.00" y2="730.20" stroke="#333" stroke-width="0.6"/>
<line x1="459.70" y1="736.60" x2="461.00" y2="736.60" stroke="#333" stroke-width="0.6"/>
<line x1="459.70" y1="743.00" x2="461.00" y2="743.00" stroke="#333" stroke-width="0.6"/>
<line x1="459.70" y1="749.40" x2="461.00" y2="749.40" stroke="#333" stroke-width="0.6"/>
<line x1="459.70" y1="755.80" x2="461.00" y2="755.80" stroke="#333" stroke-width="0.6"/>
<line x1="459.70" y1="762.20" x2="461.00" y2="762.20" stroke="#333" stroke-width="0.6"/>
<line x1="459.70" y1="768.60" x2="461.00" y2="768.60" stroke="#333" stroke-width="0.6"/>
<line x1="459.70" y1="775.00" x2="461.00" y2="775.00" stroke="#333" stroke-width="0.6"/>
<line x1="459.70" y1="781.40" x2="461.00" y2="781.40" stroke="#333" stroke-width="0.6"/>
<line x1="465.00" y1="785.40" x2="465.00" y2="786.70" stroke="#333" stroke-width="0.6"/>
<line x1="471.41" y1="785.40" x2="471.41" y2="786.70" stroke="#333" stroke-width="0.6"/>
<line x1="477.82" y1="785.40" x2="477.82" y2="786.70" stroke="#333" stroke-width="0.6"/>
<line x1="484.23" y1="785.40" x2="484.23" y2="786.70" stroke="#333" stroke-width="0.6"/>
<line x1="490.64" y1="785.40" x2="490.64" y2="786.70" stroke="#333" stroke-width="0.6"/>
<line x1="497.05" y1="785.40" x2="497.05" y2="786.70" stroke="#333" stroke-width="0.6"/>
<line x1="503.45" y1="785.40" x2="503.45" y2="786.70" stroke="#333" stroke-width="0.6"/>
<line x1="509.86" y1="785.40" x2="509.86" y2="786.70" stroke="#333" stroke-width="0.6"/>
<line x1="516.27" y1="785.40" x2="516.27" y2="786.70" stroke="#333" stroke-width="0.6"/>
<line x1="522.68" y1="785.40" x2="522.68" y2="786.70" stroke="#333" stroke-width="0.6"/>
<line x1="529.09" y1="785.40" x2="529.09" y2="786.70" stroke="#333" stroke-width="0.6"/>
<line x1="535.50" y1="785.40" x2="535.50" y2="786.70" stroke="#333" stroke-width="0.6"/>
<path d="M487.20,764.20 C485.98,762.98 485.23,760.10 485.00,758.40 C484.77,756.70 485.80,755.47 485.80,754.00 C485.80,752.53 485.00,750.82 485.00,749.60 C485.00,748.38 486.03,747.92 485.80,746.70 C485.57,745.48 484.10,743.63 483.60,742.30 C483.10,740.97 482.32,739.92 482.80,738.70 C483.28,737.48 484.67,735.98 486.50,735.00 C488.33,734.02 491.62,733.77 493.80,732.80 C495.98,731.83 497.53,730.28 499.60,729.20 C501.67,728.12 504.48,726.55 506.20,726.30 C507.92,726.05 508.93,726.48 509.90,727.70 C510.87,728.92 511.40,731.40 512.00,733.60 C512.60,735.80 513.37,738.47 513.50,740.90 C513.63,743.33 513.40,745.77 512.80,748.20 C512.20,750.63 511.12,753.32 509.90,755.50 C508.68,757.68 507.22,759.85 505.50,761.30 C503.78,762.75 501.80,763.47 499.60,764.20 C497.40,764.93 494.37,765.70 492.30,765.70 C490.23,765.70 488.42,765.42 487.20,764.20 Z" fill="#d6d6d6" stroke="#6a6a6a" stroke-width="1.2"/>
<path d="M491.90,759.92 C491.03,759.04 490.49,756.96 490.32,755.74 C490.15,754.52 490.90,753.63 490.90,752.57 C490.90,751.52 490.32,750.28 490.32,749.40 C490.32,748.53 491.06,748.19 490.90,747.32 C490.73,746.44 489.67,745.11 489.31,744.15 C488.95,743.19 488.39,742.43 488.74,741.56 C489.08,740.68 490.08,739.60 491.40,738.89 C492.72,738.18 495.08,738.00 496.66,737.31 C498.23,736.61 499.34,735.50 500.83,734.72 C502.32,733.94 504.35,732.81 505.58,732.63 C506.82,732.45 507.55,732.76 508.25,733.64 C508.94,734.51 509.33,736.30 509.76,737.88 C510.19,739.47 510.74,741.39 510.84,743.14 C510.94,744.89 510.77,746.64 510.34,748.40 C509.90,750.15 509.12,752.08 508.25,753.65 C507.37,755.22 506.32,756.78 505.08,757.83 C503.84,758.87 502.42,759.39 500.83,759.92 C499.25,760.44 497.06,761.00 495.58,761.00 C494.09,761.00 492.78,760.79 491.90,759.92 Z" fill="#cccccc" stroke="#a0a0a0" stroke-width="0.6"/>
<path d="M495.29,756.83 C494.66,756.20 494.27,754.71 494.15,753.82 C494.03,752.94 494.57,752.30 494.57,751.54 C494.57,750.78 494.15,749.89 494.15,749.26 C494.15,748.63 494.69,748.39 494.57,747.76 C494.44,747.13 493.68,746.17 493.42,745.48 C493.17,744.79 492.76,744.24 493.01,743.61 C493.26,742.98 493.98,742.20 494.93,741.69 C495.88,741.18 497.58,741.05 498.71,740.55 C499.84,740.05 500.65,739.25 501.72,738.69 C502.79,738.13 504.25,737.31 505.14,737.18 C506.03,737.05 506.56,737.28 507.06,737.91 C507.56,738.54 507.84,739.83 508.15,740.97 C508.46,742.11 508.86,743.49 508.92,744.75 C508.99,746.01 508.87,747.28 508.56,748.54 C508.25,749.80 507.69,751.19 507.06,752.32 C506.43,753.45 505.67,754.58 504.78,755.33 C503.89,756.08 502.86,756.45 501.72,756.83 C500.58,757.21 499.01,757.61 497.93,757.61 C496.86,757.61 495.92,757.46 495.29,756.83 Z" fill="#c4c4c4" stroke="#a0a0a0" stroke-width="0.6"/>
<path d="M497.73,754.61 C497.28,754.16 497.00,753.08 496.91,752.45 C496.82,751.81 497.21,751.35 497.21,750.80 C497.21,750.26 496.91,749.62 496.91,749.16 C496.91,748.71 497.29,748.53 497.21,748.08 C497.12,747.62 496.57,746.93 496.39,746.44 C496.20,745.94 495.91,745.55 496.09,745.09 C496.27,744.64 496.78,744.08 497.47,743.71 C498.15,743.34 499.38,743.25 500.19,742.89 C501.01,742.53 501.59,741.95 502.36,741.55 C503.13,741.14 504.18,740.56 504.82,740.46 C505.46,740.37 505.84,740.53 506.20,740.99 C506.56,741.44 506.76,742.37 506.99,743.19 C507.21,744.01 507.50,745.01 507.55,745.91 C507.60,746.82 507.51,747.73 507.28,748.64 C507.06,749.55 506.66,750.55 506.20,751.36 C505.75,752.18 505.20,752.99 504.56,753.53 C503.92,754.07 503.18,754.34 502.36,754.61 C501.54,754.88 500.40,755.17 499.63,755.17 C498.86,755.17 498.18,755.06 497.73,754.61 Z" fill="#bababa" stroke="#a0a0a0" stroke-width="0.6"/>
<path d="M499.49,753.01 C499.16,752.68 498.96,751.91 498.89,751.45 C498.83,751.00 499.11,750.66 499.11,750.27 C499.11,749.88 498.89,749.42 498.89,749.09 C498.89,748.76 499.17,748.64 499.11,748.31 C499.05,747.98 498.65,747.48 498.52,747.13 C498.38,746.77 498.17,746.49 498.30,746.16 C498.43,745.83 498.80,745.43 499.30,745.16 C499.79,744.90 500.67,744.83 501.26,744.57 C501.85,744.31 502.26,743.90 502.82,743.61 C503.37,743.31 504.13,742.89 504.59,742.83 C505.05,742.76 505.33,742.88 505.59,743.20 C505.85,743.53 505.99,744.20 506.15,744.79 C506.31,745.38 506.52,746.10 506.55,746.75 C506.59,747.40 506.53,748.06 506.36,748.71 C506.20,749.37 505.91,750.09 505.59,750.67 C505.26,751.26 504.86,751.84 504.40,752.23 C503.94,752.62 503.41,752.81 502.82,753.01 C502.23,753.21 501.41,753.41 500.86,753.41 C500.30,753.41 499.81,753.34 499.49,753.01 Z" fill="#b0b0b0" stroke="#a0a0a0" stroke-width="0.6"/>
<path d="M500.75,751.86 C500.51,751.63 500.37,751.07 500.32,750.74 C500.28,750.41 500.48,750.17 500.48,749.89 C500.48,749.60 500.32,749.27 500.32,749.04 C500.32,748.80 500.52,748.71 500.48,748.47 C500.43,748.24 500.15,747.88 500.05,747.62 C499.96,747.36 499.80,747.16 499.90,746.93 C499.99,746.69 500.26,746.40 500.61,746.21 C500.97,746.02 501.60,745.97 502.03,745.78 C502.45,745.60 502.75,745.30 503.15,745.09 C503.55,744.88 504.09,744.58 504.43,744.53 C504.76,744.48 504.95,744.56 505.14,744.80 C505.33,745.03 505.43,745.51 505.55,745.94 C505.66,746.37 505.81,746.88 505.84,747.35 C505.86,747.82 505.82,748.29 505.70,748.76 C505.59,749.24 505.38,749.75 505.14,750.18 C504.91,750.60 504.62,751.02 504.29,751.30 C503.96,751.58 503.57,751.72 503.15,751.86 C502.72,752.00 502.14,752.15 501.74,752.15 C501.34,752.15 500.98,752.10 500.75,751.86 Z" fill="#a4a4a4" stroke="#a0a0a0" stroke-width="0.6"/>
<rect x="461.00" y="707.00" width="78.50" height="78.40" fill="none" stroke="#1a1a1a" stroke-width="1.1"/>
<rect x="474.70" y="716.60" width="42.90" height="27.70" fill="none" stroke="#1a1a1a" stroke-width="1.1"/>
<text x="475.92" y="728.25" font-size="11.64" fill="#c8203a" stroke="#c8203a" stroke-width="0.12">25.5</text>
<text x="306.28" y="696.26" font-size="12.36" fill="#1a1a1a" stroke="#1a1a1a" stroke-width="0.12">Ctrl</text>
<text x="382.06" y="695.71" font-size="11.6" fill="#1a1a1a" stroke="#1a1a1a" stroke-width="0.12">MnLR/Gly</text>
<text x="474.15" y="687.91" font-size="11.6" fill="#1a1a1a" stroke="#1a1a1a" stroke-width="0.12">MnLR/Gly</text>
<text x="475.21" y="701.91" font-size="11.6" fill="#1a1a1a" stroke="#1a1a1a" stroke-width="0.12">+ iMAPK</text>
<text x="265.69" y="730.66" font-size="11.28" fill="#1a1a1a" stroke="#1a1a1a" stroke-width="0.12" transform="rotate(-90 265.69 730.66)">CD83</text>
<text x="273.50" y="721.90" font-size="7.6" text-anchor="middle" fill="#2a2a2a" stroke="#2a2a2a" stroke-width="0.16" transform="rotate(-90 273.50 721.90)">10<tspan font-size="4.8" dy="-2.7">5</tspan></text>
<text x="273.50" y="758.50" font-size="7.6" text-anchor="middle" fill="#2a2a2a" stroke="#2a2a2a" stroke-width="0.16" transform="rotate(-90 273.50 758.50)">10<tspan font-size="4.8" dy="-2.7">3</tspan></text>
<text x="273.50" y="768.00" font-size="7.6" text-anchor="middle" fill="#2a2a2a" stroke="#2a2a2a" stroke-width="0.16" transform="rotate(-90 273.50 768.00)">0</text>
<text x="279.30" y="794.80" font-size="7.6" text-anchor="middle" fill="#2a2a2a" stroke="#2a2a2a" stroke-width="0.16">10<tspan font-size="4.8" dy="-2.7">3</tspan></text>
<text x="322.70" y="794.80" font-size="7.6" text-anchor="middle" fill="#2a2a2a" stroke="#2a2a2a" stroke-width="0.16">10<tspan font-size="4.8" dy="-2.7">5</tspan></text>
<line x1="262.60" y1="738.50" x2="262.60" y2="796.40" stroke="#1a1a1a" stroke-width="1"/>
<polygon points="262.6,736.6 260.8,741 264.4,741" fill="#1a1a1a"/>
<line x1="262.60" y1="796.40" x2="499.50" y2="796.40" stroke="#1a1a1a" stroke-width="1"/>
<polygon points="502.2,796.4 497.7,794.6 497.7,798.2" fill="#1a1a1a"/>
<text x="505.38" y="799.91" font-size="11.44" fill="#1a1a1a" stroke="#1a1a1a" stroke-width="0.12">FSC-A</text>
<text x="552.04" y="530.50" font-size="16.5" font-weight="bold" fill="#000">l</text>
<line x1="606.20" y1="543.20" x2="606.20" y2="621.50" stroke="#1a1a1a" stroke-width="1.1"/>
<line x1="605.70" y1="621.00" x2="685.00" y2="621.00" stroke="#1a1a1a" stroke-width="1.1"/>
<line x1="602.70" y1="569.20" x2="606.20" y2="569.20" stroke="#1a1a1a" stroke-width="1"/>
<text x="601.00" y="573.30" font-size="11.6" text-anchor="end" fill="#1a1a1a" stroke="#1a1a1a" stroke-width="0.12">30</text>
<line x1="602.70" y1="621.00" x2="606.20" y2="621.00" stroke="#1a1a1a" stroke-width="1"/>
<text x="601.00" y="625.10" font-size="11.6" text-anchor="end" fill="#1a1a1a" stroke="#1a1a1a" stroke-width="0.12">10</text>
<line x1="603.90" y1="595.10" x2="606.20" y2="595.10" stroke="#1a1a1a" stroke-width="1"/>
<line x1="603.90" y1="543.20" x2="606.20" y2="543.20" stroke="#1a1a1a" stroke-width="1"/>
<line x1="622.20" y1="621.00" x2="622.20" y2="624.30" stroke="#1a1a1a" stroke-width="1"/>
<line x1="645.30" y1="621.00" x2="645.30" y2="624.30" stroke="#1a1a1a" stroke-width="1"/>
<line x1="669.10" y1="621.00" x2="669.10" y2="624.30" stroke="#1a1a1a" stroke-width="1"/>
<text x="580.00" y="582.00" font-size="11.5" text-anchor="middle" fill="#1a1a1a" stroke="#1a1a1a" stroke-width="0.12" transform="rotate(-90 580.00 582.00)">CD11c<tspan font-size="7.5" dy="-4.2">+</tspan><tspan dy="4.2">CD86</tspan><tspan font-size="7.5" dy="-4.2">+</tspan><tspan dy="4.2"> (%)</tspan></text>
<polygon points="619.20,595.09 616.60,599.61 621.80,599.61" fill="#c6c6c6"/>
<polygon points="623.20,594.09 620.60,598.61 625.80,598.61" fill="#c6c6c6"/>
<polygon points="625.20,595.69 622.60,600.21 627.80,600.21" fill="#c6c6c6"/>
<line x1="622.20" y1="596.00" x2="622.20" y2="599.00" stroke="#c6c6c6" stroke-width="1"/>
<line x1="618.20" y1="596.00" x2="626.20" y2="596.00" stroke="#c6c6c6" stroke-width="1"/>
<line x1="618.20" y1="599.00" x2="626.20" y2="599.00" stroke="#c6c6c6" stroke-width="1"/>
<line x1="613.70" y1="597.60" x2="630.70" y2="597.60" stroke="#1a1a1a" stroke-width="1.0"/>
<polygon points="642.30,575.79 639.70,580.31 644.90,580.31" fill="#7a5ca8"/>
<polygon points="645.30,573.29 642.70,577.81 647.90,577.81" fill="#7a5ca8"/>
<polygon points="648.80,575.59 646.20,580.11 651.40,580.11" fill="#7a5ca8"/>
<line x1="645.30" y1="575.50" x2="645.30" y2="579.50" stroke="#7a5ca8" stroke-width="1"/>
<line x1="640.80" y1="575.50" x2="649.80" y2="575.50" stroke="#7a5ca8" stroke-width="1"/>
<line x1="640.80" y1="579.50" x2="649.80" y2="579.50" stroke="#7a5ca8" stroke-width="1"/>
<line x1="636.80" y1="577.50" x2="653.80" y2="577.50" stroke="#1a1a1a" stroke-width="1.0"/>
<polygon points="666.10,588.29 663.50,592.81 668.70,592.81" fill="#3f9aaa"/>
<polygon points="669.10,585.89 666.50,590.41 671.70,590.41" fill="#3f9aaa"/>
<polygon points="672.60,588.09 670.00,592.61 675.20,592.61" fill="#3f9aaa"/>
<line x1="669.10" y1="587.50" x2="669.10" y2="592.00" stroke="#3f9aaa" stroke-width="1"/>
<line x1="664.60" y1="587.50" x2="673.60" y2="587.50" stroke="#3f9aaa" stroke-width="1"/>
<line x1="664.60" y1="592.00" x2="673.60" y2="592.00" stroke="#3f9aaa" stroke-width="1"/>
<line x1="660.60" y1="589.90" x2="677.60" y2="589.90" stroke="#1a1a1a" stroke-width="1.0"/>
<polyline points="644.90,570.00 644.90,562.90 669.10,562.90 669.10,570.00" fill="none" stroke="#1a1a1a" stroke-width="0.9"/>
<text x="657.00" y="561.50" font-size="6.8" text-anchor="middle" fill="#1a1a1a" stroke="#1a1a1a" stroke-width="0.16">0.0012</text>
<text x="621.50" y="630.50" font-size="11.45" text-anchor="end" fill="#1a1a1a" stroke="#1a1a1a" stroke-width="0.12" transform="rotate(-35 621.50 630.50)">Ctrl</text>
<text x="651.60" y="630.50" font-size="11.45" text-anchor="end" fill="#1a1a1a" stroke="#1a1a1a" stroke-width="0.12" transform="rotate(-35 651.60 630.50)">MnLR/Gly</text>
<text x="679.50" y="631.80" font-size="11.45" text-anchor="end" fill="#1a1a1a" stroke="#1a1a1a" stroke-width="0.12" transform="rotate(-35 679.50 631.80)">MnLR/Gly</text>
<text x="682.50" y="647.60" font-size="11.45" text-anchor="end" fill="#1a1a1a" stroke="#1a1a1a" stroke-width="0.12" transform="rotate(-35 682.50 647.60)">+ iMAPK</text>
<text x="551.23" y="695.50" font-size="16.5" font-weight="bold" fill="#000">m</text>
<line x1="605.40" y1="706.50" x2="605.40" y2="785.70" stroke="#1a1a1a" stroke-width="1.1"/>
<line x1="604.90" y1="785.20" x2="685.00" y2="785.20" stroke="#1a1a1a" stroke-width="1.1"/>
<line x1="601.90" y1="733.30" x2="605.40" y2="733.30" stroke="#1a1a1a" stroke-width="1"/>
<text x="600.20" y="737.40" font-size="11.6" text-anchor="end" fill="#1a1a1a" stroke="#1a1a1a" stroke-width="0.12">30</text>
<line x1="601.90" y1="785.20" x2="605.40" y2="785.20" stroke="#1a1a1a" stroke-width="1"/>
<text x="600.20" y="789.30" font-size="11.6" text-anchor="end" fill="#1a1a1a" stroke="#1a1a1a" stroke-width="0.12">10</text>
<line x1="603.10" y1="759.25" x2="605.40" y2="759.25" stroke="#1a1a1a" stroke-width="1"/>
<line x1="603.10" y1="706.50" x2="605.40" y2="706.50" stroke="#1a1a1a" stroke-width="1"/>
<line x1="622.20" y1="785.20" x2="622.20" y2="788.50" stroke="#1a1a1a" stroke-width="1"/>
<line x1="645.30" y1="785.20" x2="645.30" y2="788.50" stroke="#1a1a1a" stroke-width="1"/>
<line x1="669.10" y1="785.20" x2="669.10" y2="788.50" stroke="#1a1a1a" stroke-width="1"/>
<text x="580.00" y="743.20" font-size="11.5" text-anchor="middle" fill="#1a1a1a" stroke="#1a1a1a" stroke-width="0.12" transform="rotate(-90 580.00 743.20)">CD83<tspan font-size="7.5" dy="-4.2">+</tspan><tspan dy="4.2"> (%)</tspan></text>
<polygon points="622.20,759.29 619.60,763.81 624.80,763.81" fill="#c6c6c6"/>
<polygon points="620.20,763.29 617.60,767.81 622.80,767.81" fill="#c6c6c6"/>
<polygon points="624.20,763.79 621.60,768.31 626.80,768.31" fill="#c6c6c6"/>
<line x1="622.20" y1="760.50" x2="622.20" y2="767.00" stroke="#c6c6c6" stroke-width="1"/>
<line x1="618.20" y1="760.50" x2="626.20" y2="760.50" stroke="#c6c6c6" stroke-width="1"/>
<line x1="618.20" y1="767.00" x2="626.20" y2="767.00" stroke="#c6c6c6" stroke-width="1"/>
<line x1="613.70" y1="764.00" x2="630.70" y2="764.00" stroke="#1a1a1a" stroke-width="1.0"/>
<polygon points="645.30,731.79 642.70,736.31 647.90,736.31" fill="#7a5ca8"/>
<polygon points="643.30,737.29 640.70,741.81 645.90,741.81" fill="#7a5ca8"/>
<polygon points="647.30,737.29 644.70,741.81 649.90,741.81" fill="#7a5ca8"/>
<line x1="645.30" y1="734.00" x2="645.30" y2="741.00" stroke="#7a5ca8" stroke-width="1"/>
<line x1="640.80" y1="734.00" x2="649.80" y2="734.00" stroke="#7a5ca8" stroke-width="1"/>
<line x1="640.80" y1="741.00" x2="649.80" y2="741.00" stroke="#7a5ca8" stroke-width="1"/>
<line x1="636.80" y1="738.00" x2="653.80" y2="738.00" stroke="#1a1a1a" stroke-width="1.0"/>
<polygon points="669.10,741.79 666.50,746.31 671.70,746.31" fill="#3f9aaa"/>
<polygon points="669.10,748.29 666.50,752.81 671.70,752.81" fill="#3f9aaa"/>
<polygon points="669.10,744.29 666.50,748.81 671.70,748.81" fill="#3f9aaa"/>
<line x1="669.10" y1="744.00" x2="669.10" y2="752.00" stroke="#3f9aaa" stroke-width="1"/>
<line x1="664.60" y1="744.00" x2="673.60" y2="744.00" stroke="#3f9aaa" stroke-width="1"/>
<line x1="664.60" y1="752.00" x2="673.60" y2="752.00" stroke="#3f9aaa" stroke-width="1"/>
<line x1="660.60" y1="748.00" x2="677.60" y2="748.00" stroke="#1a1a1a" stroke-width="1.0"/>
<polyline points="644.60,727.20 644.60,720.00 668.20,720.00 668.20,727.20" fill="none" stroke="#1a1a1a" stroke-width="0.9"/>
<text x="656.40" y="718.80" font-size="6.8" text-anchor="middle" fill="#1a1a1a" stroke="#1a1a1a" stroke-width="0.16">0.0495</text>
<text x="621.50" y="794.50" font-size="11.45" text-anchor="end" fill="#1a1a1a" stroke="#1a1a1a" stroke-width="0.12" transform="rotate(-35 621.50 794.50)">Ctrl</text>
<text x="651.60" y="794.50" font-size="11.45" text-anchor="end" fill="#1a1a1a" stroke="#1a1a1a" stroke-width="0.12" transform="rotate(-35 651.60 794.50)">MnLR/Gly</text>
<text x="679.50" y="795.80" font-size="11.45" text-anchor="end" fill="#1a1a1a" stroke="#1a1a1a" stroke-width="0.12" transform="rotate(-35 679.50 795.80)">MnLR/Gly</text>
<text x="682.50" y="811.60" font-size="11.45" text-anchor="end" fill="#1a1a1a" stroke="#1a1a1a" stroke-width="0.12" transform="rotate(-35 682.50 811.60)">+ iMAPK</text>
<defs>
<radialGradient id="gcancer" cx="0.5" cy="0.5" r="0.55"><stop offset="0" stop-color="#e8dec6"/><stop offset="0.75" stop-color="#dccdaa"/><stop offset="1" stop-color="#c9b68e"/></radialGradient>
<radialGradient id="gcnuc" cx="0.5" cy="0.5" r="0.5"><stop offset="0" stop-color="#8a5a2a"/><stop offset="0.6" stop-color="#b09070"/><stop offset="1" stop-color="#cdb898"/></radialGradient>
<radialGradient id="gstar" cx="0.5" cy="0.5" r="0.5"><stop offset="0" stop-color="#f7d8b6"/><stop offset="0.5" stop-color="#f0ba84"/><stop offset="1" stop-color="#d8843e"/></radialGradient>
<radialGradient id="gsnuc" cx="0.5" cy="0.5" r="0.5"><stop offset="0" stop-color="#7e5530"/><stop offset="0.55" stop-color="#b49474"/><stop offset="1" stop-color="#dcc4a4"/></radialGradient>
<radialGradient id="gdc" cx="0.5" cy="0.5" r="0.5"><stop offset="0" stop-color="#eef6f6"/><stop offset="0.6" stop-color="#d2e7e9"/><stop offset="1" stop-color="#94c6cc"/></radialGradient>
<radialGradient id="gdcn" cx="0.5" cy="0.5" r="0.5"><stop offset="0" stop-color="#8392c0"/><stop offset="1" stop-color="#9aa5bd"/></radialGradient>
<linearGradient id="garr1" x1="0" y1="1" x2="1" y2="0"><stop offset="0" stop-color="#d8dce2"/><stop offset="1" stop-color="#5a5a5a"/></linearGradient>
<linearGradient id="garr2" x1="0" y1="0" x2="1" y2="1"><stop offset="0" stop-color="#d8dce2"/><stop offset="1" stop-color="#5a5a5a"/></linearGradient>
<linearGradient id="garr3" x1="1" y1="1" x2="0" y2="0"><stop offset="0" stop-color="#d8dce2"/><stop offset="1" stop-color="#5a5a5a"/></linearGradient>
<linearGradient id="garr4" x1="0" y1="1" x2="1" y2="0"><stop offset="0" stop-color="#d8dce2"/><stop offset="1" stop-color="#5a5a5a"/></linearGradient>
<linearGradient id="garr5" x1="0" y1="0" x2="1" y2="0"><stop offset="0" stop-color="#c8ccd2"/><stop offset="1" stop-color="#4a4a4a"/></linearGradient>
<radialGradient id="gbac" cx="0.5" cy="0.5" r="0.5"><stop offset="0" stop-color="#9cbc6c"/><stop offset="1" stop-color="#86a85a"/></radialGradient>
</defs>
<text x="0.13" y="852.70" font-size="16.5" font-weight="bold" fill="#000">n</text>
<rect x="20.00" y="844.10" width="660.80" height="108.40" fill="#eef4fd" stroke="none" stroke-width="1" rx="5"/>
<path d="M131.70,896.00 C131.70,891.98 135.73,889.38 139.00,887.70 C142.27,886.02 147.93,885.68 151.30,885.90 C154.67,886.12 156.28,885.85 159.20,889.00 C162.12,892.15 167.63,901.28 168.80,904.80 C169.97,908.32 169.42,908.20 166.20,910.10 C162.98,912.00 154.03,915.92 149.50,916.20 C144.97,916.48 141.97,915.17 139.00,911.80 C136.03,908.43 131.70,900.02 131.70,896.00 Z" fill="url(#gcancer)"/>
<circle cx="148.7" cy="899.6" r="8.8" fill="url(#gcnuc)"/>
<text x="67.93" y="904.33" font-size="11.48" fill="#1a1a1a" stroke="#1a1a1a" stroke-width="0.12">Cancer cell</text>
<path d="M165.54,884.89 L166.61,883.65 L167.71,882.46 L168.84,881.30 L170.00,880.18 L171.19,879.10 L172.42,878.05 L173.67,877.04 L174.94,876.07 L176.25,875.13 L177.59,874.23 L178.96,873.37 L180.35,872.54 L181.78,871.75 L183.24,870.99 L184.72,870.27 L186.23,869.59 L187.78,868.94 L189.35,868.32 L190.95,867.74 L192.59,867.20 L194.25,866.69 L195.94,866.21 L197.67,865.77 L199.42,865.36 L200.23,868.56 L208.20,861.90 L197.77,858.87 L198.58,862.07 L196.79,862.61 L195.02,863.18 L193.29,863.79 L191.60,864.44 L189.94,865.12 L188.31,865.83 L186.72,866.58 L185.17,867.36 L183.65,868.18 L182.16,869.04 L180.71,869.92 L179.30,870.84 L177.92,871.80 L176.57,872.79 L175.26,873.81 L173.99,874.87 L172.75,875.96 L171.55,877.08 L170.38,878.24 L169.25,879.43 L168.15,880.65 L167.09,881.91 L166.06,883.19 L165.06,884.51 Z" fill="url(#garr1)"/>
<path d="M285.82,866.60 L287.79,866.53 L289.72,866.51 L291.63,866.54 L293.50,866.62 L295.34,866.75 L297.15,866.93 L298.93,867.16 L300.67,867.44 L302.39,867.77 L304.07,868.15 L305.72,868.58 L307.34,869.06 L308.93,869.59 L310.48,870.16 L312.01,870.79 L313.50,871.46 L314.97,872.18 L316.40,872.95 L317.80,873.76 L319.17,874.63 L320.51,875.54 L321.82,876.49 L323.10,877.50 L324.36,878.55 L322.28,881.12 L332.20,883.80 L328.57,873.34 L326.49,875.91 L325.08,874.88 L323.64,873.90 L322.18,872.98 L320.69,872.11 L319.17,871.30 L317.63,870.54 L316.06,869.84 L314.47,869.19 L312.86,868.60 L311.22,868.05 L309.56,867.57 L307.87,867.13 L306.16,866.75 L304.43,866.42 L302.67,866.15 L300.89,865.92 L299.08,865.75 L297.25,865.63 L295.40,865.57 L293.52,865.55 L291.62,865.59 L289.70,865.67 L287.75,865.81 L285.78,866.00 Z" fill="url(#garr2)"/>
<path d="M214.28,935.20 L212.46,935.23 L210.66,935.22 L208.88,935.17 L207.12,935.09 L205.37,934.98 L203.65,934.84 L201.94,934.65 L200.25,934.44 L198.58,934.19 L196.94,933.91 L195.31,933.60 L193.69,933.25 L192.10,932.86 L190.53,932.45 L188.98,932.00 L187.44,931.52 L185.93,931.00 L184.43,930.46 L182.95,929.87 L181.49,929.26 L180.05,928.62 L178.63,927.94 L177.23,927.23 L175.84,926.48 L177.33,923.54 L167.00,923.20 L172.82,932.46 L174.31,929.52 L175.82,930.19 L177.34,930.83 L178.87,931.43 L180.42,931.99 L181.99,932.52 L183.56,933.01 L185.16,933.47 L186.76,933.89 L188.38,934.27 L190.01,934.62 L191.66,934.93 L193.32,935.21 L194.99,935.45 L196.68,935.66 L198.38,935.83 L200.10,935.97 L201.83,936.07 L203.57,936.13 L205.32,936.16 L207.09,936.16 L208.88,936.12 L210.68,936.05 L212.49,935.94 L214.32,935.80 Z" fill="url(#garr3)"/>
<path d="M297.22,946.30 L299.09,946.21 L300.93,946.08 L302.75,945.91 L304.55,945.72 L306.33,945.48 L308.09,945.21 L309.82,944.91 L311.54,944.57 L313.23,944.19 L314.91,943.78 L316.56,943.34 L318.19,942.86 L319.80,942.34 L321.39,941.78 L322.96,941.19 L324.50,940.57 L326.03,939.90 L327.53,939.20 L329.01,938.47 L330.48,937.69 L331.92,936.88 L333.33,936.04 L334.73,935.15 L336.10,934.23 L338.07,936.88 L342.20,926.70 L332.11,928.85 L334.08,931.50 L332.84,932.47 L331.58,933.40 L330.29,934.30 L328.98,935.17 L327.64,936.01 L326.28,936.81 L324.89,937.59 L323.47,938.33 L322.02,939.04 L320.55,939.71 L319.06,940.36 L317.53,940.97 L315.98,941.54 L314.41,942.09 L312.80,942.60 L311.17,943.08 L309.52,943.53 L307.83,943.94 L306.12,944.32 L304.39,944.66 L302.63,944.97 L300.84,945.25 L299.02,945.49 L297.18,945.70 Z" fill="url(#garr4)"/>
<path d="M416.20,902.70 L418.44,902.71 L420.68,902.73 L422.92,902.74 L425.16,902.75 L427.40,902.76 L429.64,902.78 L431.89,902.79 L434.13,902.80 L436.37,902.81 L438.61,902.82 L440.86,902.84 L443.10,902.85 L445.35,902.86 L447.59,902.87 L449.84,902.89 L452.08,902.90 L454.33,902.91 L456.58,902.93 L458.82,902.94 L461.07,902.95 L463.32,902.96 L465.57,902.98 L467.82,902.99 L470.07,903.00 L470.07,905.40 L484.00,902.20 L470.07,899.00 L470.07,901.40 L467.82,901.41 L465.57,901.43 L463.32,901.44 L461.07,901.45 L458.82,901.46 L456.58,901.48 L454.33,901.49 L452.08,901.50 L449.84,901.51 L447.59,901.52 L445.35,901.54 L443.10,901.55 L440.86,901.56 L438.61,901.57 L436.37,901.59 L434.13,901.60 L431.89,901.61 L429.64,901.63 L427.40,901.64 L425.16,901.65 L422.92,901.66 L420.68,901.68 L418.44,901.69 L416.20,901.70 Z" fill="url(#garr5)"/>
<text x="213.54" y="872.26" font-size="11.8" fill="#1a1a1a" stroke="#1a1a1a" stroke-width="0.12">ICD</text>
<path d="M262.20,846.10 L266.65,856.93 L277.90,853.10 L272.44,864.38 L282.30,873.30 L269.87,873.15 L270.90,885.50 L262.11,876.40 L253.40,883.80 L253.71,871.55 L243.80,866.30 L252.84,862.64 L248.10,853.70 L258.14,856.93 L262.20,846.10 Z" fill="url(#gstar)" stroke="#cf8040" stroke-width="0.7" stroke-linejoin="round"/>
<circle cx="262.4" cy="866.2" r="6.2" fill="url(#gsnuc)"/>
<circle cx="265.56" cy="853.80" r="0.8" fill="#5a6660"/>
<circle cx="270.52" cy="854.06" r="0.8" fill="#5a6660"/>
<circle cx="274.38" cy="861.70" r="0.8" fill="#5a6660"/>
<circle cx="277.00" cy="865.92" r="0.8" fill="#5a6660"/>
<circle cx="273.18" cy="873.10" r="0.8" fill="#5a6660"/>
<circle cx="271.37" cy="877.72" r="0.8" fill="#5a6660"/>
<circle cx="264.33" cy="878.85" r="0.8" fill="#5a6660"/>
<circle cx="259.66" cy="880.54" r="0.8" fill="#5a6660"/>
<circle cx="252.88" cy="874.75" r="0.8" fill="#5a6660"/>
<circle cx="248.91" cy="871.77" r="0.8" fill="#5a6660"/>
<circle cx="249.80" cy="863.95" r="0.8" fill="#5a6660"/>
<circle cx="249.70" cy="858.99" r="0.8" fill="#5a6660"/>
<circle cx="255.05" cy="855.72" r="0.8" fill="#5a6660"/>
<circle cx="258.49" cy="852.13" r="0.8" fill="#5a6660"/>
<rect x="240.6" y="914.6" width="35.4" height="11.2" rx="5.6" fill="url(#gbac)" stroke="#6c74c8" stroke-width="1.3"/>
<circle cx="248" cy="918.6" r="0.4" fill="#4a6a30"/>
<circle cx="252" cy="920.8" r="0.4" fill="#4a6a30"/>
<circle cx="257" cy="919" r="0.4" fill="#4a6a30"/>
<circle cx="262" cy="921.5" r="0.4" fill="#4a6a30"/>
<circle cx="267" cy="919.6" r="0.4" fill="#4a6a30"/>
<circle cx="270" cy="921.8" r="0.4" fill="#4a6a30"/>
<circle cx="252.5" cy="912.2" r="2.1" fill="#f2bc22"/>
<circle cx="273.2" cy="912.7" r="2.1" fill="#f2bc22"/>
<circle cx="243.8" cy="916.7" r="2.1" fill="#f2bc22"/>
<circle cx="265.7" cy="917.1" r="2.1" fill="#f2bc22"/>
<circle cx="274.4" cy="923.7" r="2.1" fill="#f2bc22"/>
<circle cx="247.6" cy="927.6" r="2.1" fill="#f2bc22"/>
<circle cx="259.2" cy="926.7" r="2.1" fill="#f2bc22"/>
<text x="234.41" y="946.34" font-size="11.09" fill="#1a1a1a" stroke="#1a1a1a" stroke-width="0.12">MnLR/Gly</text>
<text x="180.76" y="921.98" font-size="11.69" fill="#1a1a1a" stroke="#1a1a1a" stroke-width="0.12">Reuterin</text>
<text x="294.47" y="923.34" font-size="11.64" fill="#1a1a1a" stroke="#1a1a1a" stroke-width="0.12">Reuterin</text>
<circle cx="192.4" cy="926.2" r="1.6" fill="#8a5a22"/>
<circle cx="198.2" cy="927.1" r="1.6" fill="#8a5a22"/>
<circle cx="202.6" cy="925.8" r="1.6" fill="#8a5a22"/>
<circle cx="207.3" cy="925.8" r="1.6" fill="#8a5a22"/>
<circle cx="306.5" cy="928.5" r="1.6" fill="#8a5a22"/>
<circle cx="312.1" cy="929.3" r="1.6" fill="#8a5a22"/>
<circle cx="316.5" cy="927.6" r="1.6" fill="#8a5a22"/>
<circle cx="321.2" cy="927.9" r="1.6" fill="#8a5a22"/>
<path d="M369.89,901.53 L375.30,903.10 L369.69,903.55 Z M369.49,904.54 L372.07,906.43 L368.87,906.47 Z M368.46,907.39 L371.46,910.27 L367.46,909.15 Z M366.87,909.97 L370.33,914.41 L365.52,911.48 Z M364.77,912.16 L366.34,916.02 L363.14,913.36 Z M362.27,913.87 L362.59,917.05 L360.42,914.70 Z M359.47,915.02 L359.65,920.64 L357.48,915.45 Z M356.48,915.56 L355.49,919.60 L354.45,915.57 Z M353.45,915.47 L351.64,919.21 L351.47,915.06 Z M350.51,914.75 L347.75,918.49 L348.65,913.93 Z M347.78,913.43 L344.60,916.12 L346.13,912.25 Z M345.38,911.58 L341.71,913.54 L344.01,910.08 Z M343.42,909.27 L338.13,911.18 L342.40,907.52 Z M341.98,906.60 L338.78,906.59 L341.35,904.67 Z M341.13,903.69 L337.01,903.12 L340.91,901.67 Z M340.91,900.67 L335.50,899.10 L341.11,898.65 Z M341.31,897.66 L337.78,895.47 L341.93,895.73 Z M342.34,894.81 L340.20,892.42 L343.34,893.05 Z M343.93,892.23 L340.47,887.79 L345.28,890.72 Z M346.03,890.04 L344.46,886.18 L347.66,888.84 Z M348.53,888.33 L347.80,884.24 L350.38,887.50 Z M351.33,887.18 L351.36,882.53 L353.32,886.75 Z M354.32,886.64 L355.31,882.60 L356.35,886.63 Z M357.35,886.73 L359.16,882.99 L359.33,887.14 Z M360.29,887.45 L363.45,882.79 L362.15,888.27 Z M363.02,888.77 L365.62,886.89 L364.67,889.95 Z M365.42,890.62 L369.09,888.66 L366.79,892.12 Z M367.38,892.93 L372.67,891.02 L368.40,894.68 Z M368.82,895.60 L372.97,895.30 L369.45,897.53 Z M369.67,898.51 L372.80,899.19 L369.89,900.53 Z" fill="#74b0bc"/>
<circle cx="355.4" cy="901.1" r="15.2" fill="url(#gdc)"/>
<circle cx="355.4" cy="901.5" r="7.4" fill="url(#gdcn)"/>
<text x="381.98" y="904.33" font-size="11.48" fill="#1a1a1a" stroke="#1a1a1a" stroke-width="0.12">DCs</text>
<text x="347.30" y="934.60" font-size="11.6" fill="#1a1a1a" stroke="#1a1a1a" stroke-width="0.12">Mn<tspan font-size="7.5" dy="-4.2">2+</tspan></text>
<circle cx="342.7" cy="941.8" r="1.9" fill="#2a4a80"/>
<circle cx="349.4" cy="942.2" r="1.9" fill="#2a4a80"/>
<circle cx="356.5" cy="944.3" r="1.9" fill="#2a4a80"/>
<circle cx="365.5" cy="941.4" r="1.9" fill="#2a4a80"/>
<rect x="428.3" y="876.3" width="41.9" height="15.8" rx="4.5" fill="#fff" stroke="#7a7cc2" stroke-width="1"/>
<text x="432.49" y="888.63" font-size="11.35" fill="#1a1a1a" stroke="#1a1a1a" stroke-width="0.12">MAPK</text>
<path d="M527.78,890.19 L526.91,889.34 L526.05,888.51 L525.19,887.68 L524.35,886.88 L523.51,886.08 L522.68,885.30 L521.86,884.53 L521.05,883.77 L520.25,883.03 L519.45,882.30 L518.67,881.58 L517.89,880.87 L517.12,880.18 L516.36,879.50 L515.60,878.84 L514.86,878.19 L513.54,879.41 L514.14,880.20 L514.74,881.00 L515.35,881.81 L515.97,882.63 L516.59,883.46 L517.23,884.31 L517.87,885.17 L518.52,886.04 L519.18,886.93 L519.84,887.82 L520.52,888.73 L521.20,889.65 L521.89,890.59 L522.58,891.54 L523.29,892.49 L524.00,893.47 Z" fill="#7fbac3"/>
<circle cx="514.20" cy="878.80" r="1.20" fill="#7fbac3"/>
<path d="M530.47,889.51 L530.07,888.77 L529.68,888.04 L529.30,887.32 L528.92,886.60 L528.54,885.89 L528.18,885.18 L527.82,884.49 L527.46,883.80 L527.12,883.12 L526.77,882.44 L526.44,881.77 L526.11,881.11 L525.79,880.46 L525.47,879.81 L525.16,879.17 L524.86,878.53 L523.14,879.07 L523.26,879.77 L523.38,880.48 L523.51,881.21 L523.64,881.94 L523.79,882.67 L523.94,883.42 L524.10,884.18 L524.26,884.94 L524.43,885.71 L524.61,886.49 L524.79,887.28 L524.99,888.08 L525.19,888.89 L525.39,889.70 L525.60,890.52 L525.82,891.35 Z" fill="#7fbac3"/>
<circle cx="524.00" cy="878.80" r="1.20" fill="#7fbac3"/>
<path d="M533.10,889.53 L532.95,888.87 L532.80,888.23 L532.64,887.61 L532.49,887.01 L532.34,886.43 L532.18,885.87 L532.03,885.34 L531.88,884.82 L531.73,884.32 L531.58,883.84 L531.43,883.38 L531.28,882.94 L531.13,882.52 L530.99,882.13 L530.84,881.75 L530.69,881.39 L529.31,881.61 L529.27,881.98 L529.24,882.38 L529.21,882.79 L529.18,883.22 L529.14,883.68 L529.11,884.15 L529.08,884.64 L529.05,885.15 L529.02,885.68 L528.99,886.23 L528.96,886.80 L528.93,887.38 L528.90,887.99 L528.88,888.62 L528.85,889.27 L528.82,889.93 Z" fill="#7fbac3"/>
<circle cx="530.00" cy="881.50" r="1.00" fill="#7fbac3"/>
<path d="M536.99,890.91 L537.19,889.91 L537.37,888.92 L537.54,887.93 L537.70,886.93 L537.84,885.94 L537.98,884.94 L538.10,883.95 L538.21,882.96 L538.31,881.96 L538.40,880.97 L538.48,879.98 L538.54,878.98 L538.60,877.99 L538.64,877.00 L538.67,876.01 L538.69,875.02 L536.71,874.78 L536.49,875.73 L536.26,876.67 L536.03,877.60 L535.78,878.53 L535.52,879.46 L535.26,880.39 L534.98,881.30 L534.69,882.22 L534.39,883.13 L534.08,884.04 L533.76,884.94 L533.44,885.84 L533.10,886.73 L532.75,887.62 L532.39,888.51 L532.02,889.39 Z" fill="#7fbac3"/>
<circle cx="537.70" cy="874.90" r="1.30" fill="#7fbac3"/>
<path d="M540.38,895.21 L541.20,894.44 L542.04,893.66 L542.89,892.88 L543.74,892.09 L544.61,891.29 L545.48,890.49 L546.36,889.69 L547.24,888.88 L548.14,888.07 L549.04,887.25 L549.96,886.42 L550.88,885.59 L551.81,884.76 L552.74,883.92 L553.69,883.07 L554.64,882.22 L553.56,880.78 L552.48,881.46 L551.40,882.14 L550.34,882.81 L549.28,883.48 L548.23,884.14 L547.19,884.80 L546.15,885.45 L545.12,886.10 L544.11,886.74 L543.10,887.37 L542.09,888.01 L541.10,888.63 L540.11,889.26 L539.13,889.87 L538.16,890.49 L537.20,891.09 Z" fill="#7fbac3"/>
<circle cx="554.10" cy="881.50" r="1.20" fill="#7fbac3"/>
<path d="M540.73,900.20 L541.82,900.08 L542.93,899.96 L544.06,899.85 L545.21,899.75 L546.38,899.65 L547.57,899.57 L548.78,899.49 L550.02,899.43 L551.27,899.37 L552.54,899.32 L553.84,899.28 L555.15,899.24 L556.49,899.22 L557.84,899.20 L559.22,899.20 L560.61,899.20 L560.79,896.60 L559.39,896.43 L558.01,896.26 L556.64,896.10 L555.30,895.95 L553.97,895.80 L552.66,895.67 L551.37,895.54 L550.09,895.43 L548.84,895.32 L547.60,895.22 L546.37,895.13 L545.17,895.05 L543.98,894.97 L542.81,894.91 L541.65,894.86 L540.51,894.81 Z" fill="#7fbac3"/>
<circle cx="560.70" cy="897.90" r="1.60" fill="#7fbac3"/>
<path d="M539.94,903.36 L541.49,903.55 L543.05,903.69 L544.59,903.79 L546.13,903.86 L547.67,903.88 L549.20,903.86 L550.73,903.80 L552.24,903.70 L553.76,903.56 L555.26,903.38 L556.77,903.16 L558.26,902.90 L559.75,902.61 L561.23,902.27 L562.71,901.89 L564.18,901.48 L563.82,899.92 L562.35,900.14 L560.89,900.32 L559.43,900.47 L557.97,900.57 L556.52,900.64 L555.07,900.66 L553.63,900.65 L552.19,900.60 L550.76,900.51 L549.33,900.39 L547.90,900.22 L546.47,900.02 L545.05,899.78 L543.64,899.51 L542.22,899.19 L540.81,898.84 Z" fill="#7fbac3"/>
<circle cx="564.00" cy="900.70" r="1.10" fill="#7fbac3"/>
<path d="M536.78,906.65 L537.67,907.26 L538.58,907.87 L539.50,908.49 L540.43,909.10 L541.37,909.72 L542.33,910.34 L543.29,910.96 L544.27,911.59 L545.26,912.21 L546.26,912.84 L547.28,913.47 L548.31,914.10 L549.35,914.74 L550.40,915.37 L551.46,916.01 L552.54,916.65 L553.46,915.35 L552.51,914.55 L551.57,913.75 L550.64,912.96 L549.73,912.17 L548.83,911.38 L547.94,910.60 L547.07,909.82 L546.21,909.04 L545.37,908.27 L544.54,907.50 L543.72,906.73 L542.92,905.97 L542.13,905.21 L541.36,904.46 L540.59,903.71 L539.85,902.96 Z" fill="#7fbac3"/>
<circle cx="553.00" cy="916.00" r="1.10" fill="#7fbac3"/>
<path d="M530.95,908.04 L531.27,909.11 L531.59,910.21 L531.90,911.33 L532.21,912.46 L532.52,913.62 L532.82,914.79 L533.12,915.99 L533.42,917.20 L533.72,918.44 L534.01,919.69 L534.30,920.96 L534.59,922.25 L534.87,923.56 L535.15,924.89 L535.43,926.24 L535.71,927.61 L537.49,927.39 L537.42,925.99 L537.33,924.60 L537.25,923.24 L537.16,921.89 L537.07,920.56 L536.98,919.24 L536.88,917.95 L536.78,916.67 L536.68,915.40 L536.57,914.16 L536.46,912.93 L536.34,911.72 L536.23,910.52 L536.11,909.34 L535.98,908.18 L535.85,907.04 Z" fill="#7fbac3"/>
<circle cx="536.60" cy="927.50" r="1.20" fill="#7fbac3"/>
<path d="M525.96,905.78 L525.44,906.93 L524.92,908.08 L524.39,909.23 L523.86,910.38 L523.33,911.52 L522.79,912.67 L522.24,913.82 L521.70,914.97 L521.14,916.12 L520.58,917.27 L520.02,918.42 L519.46,919.58 L518.88,920.73 L518.31,921.88 L517.73,923.03 L517.14,924.18 L518.86,925.22 L519.60,924.16 L520.35,923.10 L521.09,922.03 L521.83,920.97 L522.56,919.91 L523.29,918.84 L524.01,917.78 L524.73,916.71 L525.45,915.65 L526.16,914.58 L526.87,913.51 L527.57,912.44 L528.28,911.37 L528.97,910.30 L529.66,909.23 L530.35,908.16 Z" fill="#7fbac3"/>
<circle cx="518.00" cy="924.70" r="1.30" fill="#7fbac3"/>
<path d="M523.46,901.69 L522.61,902.11 L521.75,902.50 L520.88,902.85 L519.99,903.16 L519.10,903.44 L518.19,903.68 L517.26,903.89 L516.33,904.06 L515.38,904.19 L514.42,904.28 L513.44,904.34 L512.44,904.36 L511.44,904.33 L510.42,904.27 L509.38,904.17 L508.33,904.03 L507.87,905.97 L508.95,906.30 L510.03,906.59 L511.12,906.84 L512.20,907.05 L513.29,907.21 L514.38,907.33 L515.46,907.41 L516.55,907.45 L517.65,907.44 L518.74,907.39 L519.83,907.30 L520.92,907.16 L522.01,906.97 L523.10,906.74 L524.19,906.46 L525.27,906.14 Z" fill="#7fbac3"/>
<circle cx="508.10" cy="905.00" r="1.30" fill="#7fbac3"/>
<path d="M523.36,894.16 L521.99,894.04 L520.61,893.93 L519.22,893.85 L517.82,893.79 L516.42,893.75 L515.01,893.73 L513.59,893.73 L512.16,893.76 L510.72,893.80 L509.28,893.87 L507.82,893.96 L506.36,894.06 L504.89,894.19 L503.41,894.34 L501.92,894.51 L500.43,894.70 L500.57,896.70 L502.05,896.70 L503.52,896.71 L504.97,896.75 L506.41,896.81 L507.83,896.89 L509.24,896.99 L510.63,897.12 L512.01,897.26 L513.38,897.42 L514.73,897.60 L516.06,897.80 L517.39,898.02 L518.69,898.26 L519.98,898.52 L521.26,898.80 L522.52,899.09 Z" fill="#7fbac3"/>
<circle cx="500.50" cy="895.70" r="1.30" fill="#7fbac3"/>
<path d="M523.45,900.95 L523.08,901.09 L522.69,901.23 L522.28,901.35 L521.84,901.46 L521.39,901.56 L520.91,901.65 L520.42,901.73 L519.91,901.79 L519.38,901.84 L518.82,901.88 L518.25,901.90 L517.67,901.91 L517.06,901.91 L516.44,901.89 L515.80,901.86 L515.15,901.82 L514.85,903.18 L515.50,903.41 L516.13,903.62 L516.75,903.81 L517.37,903.99 L517.98,904.16 L518.57,904.32 L519.16,904.46 L519.74,904.59 L520.32,904.70 L520.88,904.80 L521.44,904.89 L522.00,904.96 L522.54,905.02 L523.09,905.06 L523.62,905.08 L524.16,905.09 Z" fill="#7fbac3"/>
<circle cx="515.00" cy="902.50" r="1.00" fill="#7fbac3"/>
<circle cx="531.7" cy="898.7" r="13.4" fill="url(#gdc)"/>
<circle cx="531.7" cy="898.7" r="8.2" fill="url(#gdcn)"/>
<text x="574.47" y="904.11" font-size="11.58" fill="#1a1a1a" stroke="#1a1a1a" stroke-width="0.12">Mature DC</text>
</svg></body></html>
